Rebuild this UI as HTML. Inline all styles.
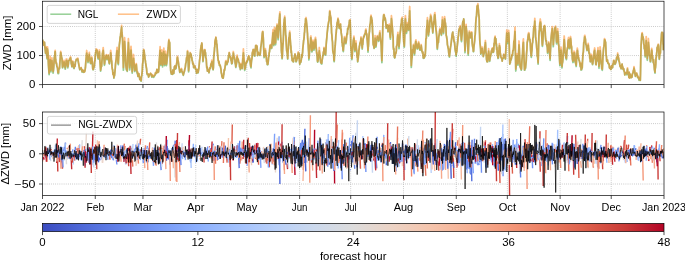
<!DOCTYPE html>
<html><head><meta charset="utf-8"><style>
html,body{margin:0;padding:0;background:#fff;}
body{width:685px;height:261px;overflow:hidden;font-family:"Liberation Sans",sans-serif;}
svg{display:block;will-change:transform;}
</style></head><body>
<svg width="685" height="261" viewBox="0 0 685 261" font-family="Liberation Sans, sans-serif" fill="#000"><rect width="685" height="261" fill="#fff"/><defs><clipPath id="ct"><rect x="42.5" y="1.2" width="621.5" height="83.39999999999999"/></clipPath><clipPath id="cb"><rect x="42.5" y="112.0" width="621.5" height="83.5"/></clipPath><linearGradient id="cwg" x1="0" x2="1" y1="0" y2="0"><stop offset="0.0000" stop-color="#3b4cc0"/><stop offset="0.0625" stop-color="#4e68d8"/><stop offset="0.1250" stop-color="#6282ea"/><stop offset="0.1875" stop-color="#779af7"/><stop offset="0.2500" stop-color="#8db0fe"/><stop offset="0.3125" stop-color="#a3c2fe"/><stop offset="0.3750" stop-color="#b9d0f9"/><stop offset="0.4375" stop-color="#ccd9ed"/><stop offset="0.5000" stop-color="#dddcdc"/><stop offset="0.5625" stop-color="#ecd3c5"/><stop offset="0.6250" stop-color="#f5c4ac"/><stop offset="0.6875" stop-color="#f7b093"/><stop offset="0.7500" stop-color="#f4987a"/><stop offset="0.8125" stop-color="#eb7d62"/><stop offset="0.8750" stop-color="#dd5f4b"/><stop offset="0.9375" stop-color="#ca3b37"/><stop offset="1.0000" stop-color="#b40426"/></linearGradient></defs><path d="M95.28 1.20V84.60M142.96 1.20V84.60M195.75 1.20V84.60M246.83 1.20V84.60M299.61 1.20V84.60M350.70 1.20V84.60M403.48 1.20V84.60M456.27 1.20V84.60M507.35 1.20V84.60M560.13 1.20V84.60M611.22 1.20V84.60M42.50 55.55H664.00M42.50 26.50H664.00" stroke="#b0b0b0" stroke-width="0.8" stroke-dasharray="0.8 1.32" fill="none"/><path d="M95.28 112.00V195.50M142.96 112.00V195.50M195.75 112.00V195.50M246.83 112.00V195.50M299.61 112.00V195.50M350.70 112.00V195.50M403.48 112.00V195.50M456.27 112.00V195.50M507.35 112.00V195.50M560.13 112.00V195.50M611.22 112.00V195.50M42.50 123.60H664.00M42.50 153.80H664.00M42.50 184.00H664.00" stroke="#b0b0b0" stroke-width="0.8" stroke-dasharray="0.8 1.32" fill="none"/><g clip-path="url(#ct)" fill="none" stroke-width="1.75" stroke-linejoin="round"><path d="M42.5 40.1 42.8 40.3 43.2 43.1 43.5 43.6 43.8 45.2 44.0 44.9 44.2 43.5 44.4 45.4 44.5 42.4 44.8 46.5 45.1 49.2 45.3 50.9 45.6 53.6 45.7 51.1 45.9 52.0 46.1 52.4 46.3 47.8 46.5 49.9 46.7 53.4 46.9 55.5 47.1 58.9 47.2 58.5 47.3 53.6 47.5 49.0 47.6 50.5 47.8 52.4 48.0 53.0 48.1 57.5 48.3 61.7 48.5 66.0 48.7 68.8 48.9 71.7 49.1 74.6 49.3 72.3 49.6 64.2 49.9 62.0 50.1 59.7 50.3 62.2 50.5 65.7 50.7 68.9 50.9 71.8 51.1 69.6 51.4 65.3 51.6 67.2 51.9 60.5 52.2 64.2 52.5 68.1 52.8 68.0 53.1 73.2 53.5 70.2 53.8 66.5 54.1 60.9 54.4 56.8 54.6 57.7 54.8 56.0 55.0 52.1 55.2 51.8 55.3 53.3 55.5 59.0 55.7 59.0 55.9 61.8 56.2 63.7 56.5 63.3 56.9 66.7 57.2 67.4 57.4 67.6 57.7 70.5 57.9 73.3 58.2 73.7 58.5 73.7 58.8 68.8 59.1 69.3 59.5 68.6 59.8 64.4 60.1 60.1 60.4 56.7 60.7 52.5 61.0 53.8 61.2 55.8 61.5 56.8 61.7 57.9 62.0 58.8 62.2 63.4 62.5 67.9 62.7 67.6 63.1 66.3 63.4 63.9 63.7 62.7 64.0 61.9 64.3 63.7 64.6 64.5 64.9 67.3 65.3 69.2 65.6 65.9 65.9 64.7 66.2 60.8 66.5 60.6 66.8 60.4 67.2 65.2 67.5 66.4 67.8 67.8 68.1 66.1 68.4 64.1 68.7 60.8 69.1 60.3 69.4 60.3 69.7 59.0 70.0 59.4 70.3 58.2 70.6 57.9 70.9 59.7 71.3 64.1 71.6 64.6 71.9 66.8 72.2 64.1 72.5 63.7 72.8 61.8 73.2 64.6 73.5 66.0 73.8 68.3 74.1 68.5 74.4 66.2 74.7 64.5 75.1 66.4 75.4 61.9 75.9 60.9 76.4 59.4 76.9 59.8 77.4 59.5 77.8 59.0 78.3 62.2 78.7 64.1 79.2 66.9 79.8 69.8 80.4 68.8 81.1 68.0 81.7 69.9 82.1 72.1 82.6 70.2 83.0 71.2 83.5 72.3 83.8 70.8 84.2 72.0 84.6 71.6 85.0 70.5 85.4 67.7 85.9 61.3 86.3 57.4 86.7 53.1 87.1 56.4 87.4 58.0 87.7 56.9 88.0 62.7 88.3 61.2 88.6 59.1 89.0 56.6 89.3 54.4 89.6 58.4 89.9 58.9 90.2 61.6 90.5 63.3 90.8 63.7 91.2 59.9 91.5 58.1 91.8 58.1 92.1 61.5 92.4 63.3 92.7 68.5 93.1 69.8 93.4 69.4 93.7 67.7 94.0 67.2 94.3 66.6 94.6 62.1 95.0 60.2 95.3 56.3 95.6 53.4 95.9 52.0 96.2 49.9 96.5 50.9 96.8 50.4 97.2 50.9 97.5 53.9 97.8 56.5 98.1 58.9 98.4 59.0 98.7 55.4 99.1 54.5 99.4 51.8 99.7 57.7 100.0 62.5 100.3 66.8 100.6 71.1 101.0 68.3 101.3 65.8 101.6 66.5 101.9 61.9 102.2 58.0 102.5 53.4 102.8 54.2 103.2 50.4 103.5 53.9 103.8 58.6 104.1 60.7 104.4 65.3 104.7 64.2 105.1 59.0 105.4 57.7 105.7 56.6 106.0 56.7 106.3 55.4 106.6 58.4 107.0 59.7 107.3 57.2 107.6 58.3 107.9 56.6 108.2 55.7 108.5 59.6 108.8 60.3 109.2 63.7 109.5 64.0 109.8 60.8 110.1 60.0 110.4 56.3 110.7 52.9 111.1 55.7 111.4 61.3 111.7 61.0 112.0 66.4 112.3 69.0 112.6 69.5 113.0 74.5 113.3 74.2 113.6 72.9 113.9 78.1 114.2 73.3 114.5 75.9 114.8 73.2 115.2 69.0 115.5 64.5 115.8 62.1 116.1 59.9 116.4 57.7 116.7 53.5 117.1 50.7 117.4 52.4 117.7 56.5 118.0 63.6 118.3 64.6 118.6 58.6 119.0 51.9 119.3 45.3 119.6 42.8 119.9 40.5 120.2 36.8 120.5 37.0 120.8 32.8 121.0 33.0 121.2 29.7 121.4 29.5 121.6 27.2 121.9 33.0 122.1 34.1 122.4 37.8 122.6 40.4 122.8 49.2 123.0 54.8 123.2 63.3 123.4 70.1 123.7 65.2 124.0 58.1 124.3 48.9 124.6 41.5 125.0 48.1 125.3 54.4 125.6 59.3 125.9 65.6 126.2 68.2 126.5 70.1 126.8 69.6 127.2 71.4 127.5 65.7 127.8 55.6 128.1 49.6 128.4 42.5 128.7 49.2 129.1 56.6 129.4 63.1 129.7 69.9 130.0 66.5 130.3 61.2 130.6 54.0 131.0 50.1 131.3 54.9 131.6 59.8 131.9 67.7 132.2 73.1 132.5 69.5 132.8 64.8 133.2 63.2 133.5 58.3 133.8 61.7 134.1 63.9 134.4 67.7 134.7 71.5 135.1 70.8 135.4 69.8 135.7 66.2 136.0 65.3 136.3 64.6 136.6 68.0 137.0 72.4 137.3 73.7 137.6 72.4 137.9 76.5 138.2 74.1 138.5 75.5 138.9 73.9 139.2 76.9 139.5 76.9 139.8 79.5 140.1 79.5 140.4 78.4 140.7 80.2 141.1 81.1 141.4 76.8 141.7 76.1 142.0 73.6 142.3 70.8 142.6 64.4 143.0 61.5 143.3 56.1 143.6 50.2 143.8 51.4 144.0 50.4 144.2 52.2 144.3 53.2 144.7 55.7 145.0 59.2 145.3 60.3 145.6 62.7 145.9 64.6 146.2 67.0 146.6 69.1 146.9 73.5 147.3 74.8 147.8 75.0 148.2 74.1 148.6 77.1 149.3 75.4 149.9 74.4 150.5 73.5 151.2 74.4 151.8 77.1 152.4 75.3 153.1 76.8 153.7 77.3 154.3 76.0 155.0 75.4 155.6 72.8 156.2 73.5 156.5 72.7 156.9 69.4 157.2 70.6 157.5 71.8 157.8 72.4 158.2 69.7 158.5 71.9 158.8 69.1 159.1 63.4 159.4 60.4 159.7 56.0 160.1 50.3 160.2 52.5 160.4 60.3 160.6 61.9 160.8 65.5 161.1 59.5 161.3 61.3 161.6 54.8 161.8 52.8 162.0 54.3 162.2 58.0 162.4 62.5 162.6 66.9 162.9 61.4 163.2 58.2 163.5 58.7 163.8 51.5 164.0 54.3 164.2 59.4 164.4 63.1 164.6 65.6 164.9 62.0 165.1 60.1 165.4 54.4 165.6 54.3 165.8 55.9 166.0 59.9 166.2 63.6 166.4 65.7 166.7 63.9 167.0 61.0 167.3 57.4 167.6 55.5 167.9 51.2 168.3 47.2 168.6 43.0 168.9 40.4 169.1 42.5 169.3 42.8 169.5 42.4 169.7 42.9 169.9 50.7 170.2 57.2 170.4 65.0 170.7 70.8 171.0 72.5 171.4 74.2 171.8 72.4 172.2 73.2 172.5 74.4 172.8 70.2 173.1 73.9 173.4 73.2 173.8 73.4 174.1 69.8 174.4 66.8 174.7 66.7 175.0 66.0 175.3 69.1 175.7 67.2 176.0 68.6 176.3 66.0 176.6 64.1 176.9 62.6 177.2 58.0 177.5 57.3 177.9 59.9 178.2 61.4 178.5 63.3 178.8 66.3 179.1 67.7 179.4 69.6 179.8 72.5 180.2 71.9 180.6 70.0 181.1 71.2 181.5 69.4 181.8 71.0 182.2 72.9 182.5 72.0 182.8 73.6 183.3 75.3 183.8 73.4 184.3 71.8 184.8 69.4 185.3 67.4 185.7 63.8 186.1 62.2 186.6 57.8 186.9 57.2 187.2 57.7 187.5 51.6 187.8 52.8 188.0 59.8 188.2 63.4 188.4 68.0 188.6 71.9 188.9 69.0 189.1 66.1 189.4 61.7 189.6 55.6 189.9 56.2 190.2 53.1 190.6 54.3 190.9 54.1 191.2 54.9 191.5 57.7 191.8 57.5 192.1 60.4 192.5 61.2 192.8 64.1 193.1 63.3 193.4 64.2 193.7 67.7 194.0 66.3 194.4 66.1 194.7 66.9 195.0 66.3 195.3 68.0 195.6 69.2 195.9 69.6 196.2 70.1 196.6 73.4 196.9 69.5 197.2 70.6 197.5 70.1 197.8 69.6 198.1 72.8 198.5 70.4 198.8 68.8 199.2 64.6 199.6 60.5 200.0 58.2 200.3 54.4 200.6 50.2 200.9 48.0 201.2 45.5 201.4 46.6 201.6 45.7 201.8 43.1 202.0 44.1 202.2 49.0 202.5 53.4 202.8 57.4 203.0 61.7 203.3 58.4 203.6 56.0 204.0 55.2 204.3 50.4 204.6 50.1 204.9 50.3 205.2 52.0 205.5 52.9 205.8 57.7 206.2 58.8 206.5 63.7 206.8 68.2 207.1 67.1 207.4 71.1 207.7 69.6 208.1 70.6 208.4 70.6 208.7 70.6 209.0 72.9 209.3 70.9 209.6 68.2 210.0 68.4 210.3 68.6 210.6 67.1 210.9 64.1 211.2 66.4 211.5 65.7 211.8 61.9 212.2 62.4 212.5 64.6 212.8 68.0 213.1 69.9 213.4 67.6 213.7 57.9 214.1 53.5 214.4 50.5 214.6 47.4 214.8 47.2 214.9 42.8 215.1 40.8 215.3 40.9 215.5 39.3 215.7 40.0 215.9 37.7 216.1 39.7 216.4 40.6 216.6 44.5 216.9 44.2 217.2 48.8 217.5 53.4 217.8 56.3 218.2 60.5 218.5 60.7 218.8 63.2 219.1 61.8 219.4 65.5 219.7 64.8 220.1 65.5 220.4 66.4 220.7 67.9 221.0 69.6 221.3 73.2 221.6 73.3 222.0 76.9 222.3 76.3 222.6 78.0 222.9 76.4 223.2 78.1 223.5 75.6 223.8 74.6 224.2 69.8 224.5 70.6 224.8 69.2 225.1 67.0 225.4 65.3 225.7 62.1 226.1 61.7 226.4 64.6 226.7 63.5 227.0 64.7 227.3 63.1 227.6 62.3 228.0 61.7 228.3 59.0 228.6 55.5 228.9 56.1 229.2 52.8 229.5 54.3 229.8 56.3 230.2 57.8 230.5 57.0 230.8 58.1 231.1 61.0 231.4 61.2 231.7 64.0 232.1 63.5 232.4 61.5 232.7 58.0 233.0 57.0 233.3 53.0 233.6 54.5 234.0 57.8 234.3 57.3 234.6 59.4 234.9 59.9 235.2 63.9 235.5 64.3 235.8 67.5 236.2 65.1 236.5 64.3 236.8 59.6 237.1 56.8 237.4 59.3 237.7 60.1 238.1 59.2 238.4 60.7 238.7 62.5 239.0 62.8 239.3 63.3 239.6 67.1 240.0 65.5 240.3 69.8 240.6 65.7 240.9 64.7 241.2 65.5 241.5 64.6 241.8 67.5 242.2 68.7 242.5 65.0 242.8 59.3 243.1 57.4 243.4 52.8 243.7 58.1 244.1 61.3 244.4 64.5 244.7 70.5 245.0 66.9 245.3 68.9 245.6 65.5 246.0 63.0 246.3 63.3 246.6 62.0 246.9 61.4 247.2 61.9 247.5 60.3 247.8 59.7 248.2 57.5 248.5 56.8 248.8 56.1 249.1 57.7 249.4 60.0 249.7 58.2 250.1 61.6 250.4 64.5 250.7 66.6 251.0 67.9 251.3 63.2 251.6 60.7 252.0 58.6 252.3 53.3 252.6 52.2 252.9 51.6 253.2 49.7 253.5 50.2 253.9 53.2 254.2 55.9 254.5 53.9 254.8 56.2 255.1 49.5 255.4 51.7 255.7 45.6 256.1 46.6 256.4 45.7 256.7 47.7 257.0 46.1 257.3 50.4 257.6 55.7 258.0 52.0 258.3 53.4 258.6 52.9 258.9 54.3 259.2 54.1 259.5 54.8 259.9 55.4 260.2 54.3 260.5 50.6 260.8 47.3 261.1 45.3 261.4 43.3 261.7 40.8 262.1 36.1 262.4 33.2 262.6 32.5 262.8 31.9 262.9 32.6 263.1 35.5 263.4 40.6 263.6 47.0 263.9 52.3 264.1 57.6 264.5 55.8 264.8 52.6 265.1 53.9 265.4 50.4 265.7 53.1 266.0 55.3 266.4 58.7 266.7 61.9 267.0 61.1 267.3 64.8 267.6 62.7 267.9 64.7 268.3 60.9 268.6 57.2 268.9 56.3 269.2 52.8 269.5 52.0 269.8 48.6 270.1 46.0 270.5 45.3 270.8 45.6 271.1 45.2 271.4 48.5 271.7 48.3 272.1 42.7 272.4 40.0 272.7 36.8 273.0 32.8 273.2 37.3 273.4 39.1 273.6 41.5 273.8 45.6 274.0 43.4 274.2 38.8 274.4 34.2 274.5 30.5 274.8 34.9 275.1 38.6 275.3 40.9 275.6 44.8 275.7 42.8 275.9 38.6 276.1 34.1 276.3 29.2 276.5 28.0 276.7 30.9 276.9 28.1 277.1 25.3 277.3 30.9 277.6 35.0 277.8 35.8 278.1 39.8 278.3 33.2 278.6 30.3 278.8 28.5 279.1 21.9 279.3 19.1 279.5 18.4 279.7 15.4 279.9 14.0 280.0 18.4 280.2 25.0 280.4 30.0 280.6 35.7 280.8 38.0 281.0 41.9 281.2 43.3 281.4 50.5 281.6 52.9 281.7 53.5 281.9 55.1 282.1 58.9 282.4 55.5 282.6 50.1 282.9 45.4 283.1 43.2 283.3 39.4 283.5 33.9 283.7 28.4 283.9 22.9 284.1 22.7 284.3 19.4 284.5 20.3 284.7 17.7 284.9 20.3 285.2 25.7 285.4 29.8 285.7 35.3 285.9 35.7 286.2 42.8 286.4 46.3 286.7 51.0 286.9 51.6 287.2 53.4 287.4 55.2 287.7 59.2 287.9 54.3 288.2 49.6 288.4 48.5 288.7 40.6 288.9 37.8 289.2 38.8 289.5 34.9 289.7 32.9 290.0 35.3 290.2 39.6 290.5 43.1 290.7 45.7 290.9 46.6 291.1 52.5 291.3 50.7 291.5 53.1 291.7 55.1 291.9 57.9 292.0 58.0 292.2 60.7 292.5 60.3 292.7 60.9 293.0 59.2 293.2 61.9 293.5 61.8 293.7 59.0 294.0 58.9 294.3 57.2 294.5 57.0 294.8 55.2 295.0 54.1 295.3 55.6 295.5 55.7 295.8 58.0 296.0 61.9 296.3 61.2 296.5 61.1 296.8 59.9 297.0 58.8 297.3 58.0 297.5 58.3 297.8 55.7 298.0 54.2 298.3 53.0 298.5 54.1 298.8 56.0 299.1 53.6 299.3 59.3 299.6 62.3 299.8 64.4 300.1 61.5 300.3 62.2 300.6 60.7 300.8 62.4 301.1 60.9 301.3 59.3 301.6 54.6 301.8 57.6 302.1 56.9 302.3 54.5 302.6 52.6 302.8 49.1 303.1 46.0 303.4 43.1 303.6 40.8 303.9 39.5 304.1 37.4 304.4 32.8 304.6 32.3 304.9 26.3 305.1 24.0 305.4 22.9 305.6 18.9 305.8 22.8 305.9 19.7 306.1 19.1 306.4 21.8 306.6 23.4 306.9 26.6 307.1 27.8 307.3 32.0 307.5 33.9 307.7 38.3 307.9 40.6 308.2 45.1 308.4 49.5 308.7 53.7 308.9 59.9 309.2 56.7 309.4 52.7 309.7 49.1 309.9 45.8 310.2 44.3 310.4 43.9 310.7 37.9 310.9 37.9 311.2 42.8 311.4 43.7 311.7 51.8 311.9 51.9 312.2 50.9 312.4 46.1 312.7 44.1 313.0 42.0 313.3 43.7 313.6 45.1 313.9 50.2 314.2 49.1 314.5 46.8 314.8 44.1 315.2 40.6 315.5 39.4 315.8 41.8 316.1 47.8 316.4 50.1 316.7 53.5 317.1 55.2 317.4 61.2 317.7 62.2 318.0 61.4 318.3 58.1 318.6 54.6 319.0 55.1 319.3 50.8 319.6 54.5 319.9 55.2 320.2 59.1 320.5 61.0 320.8 62.9 321.2 63.2 321.5 64.0 321.8 63.9 322.1 60.2 322.4 59.1 322.7 56.4 323.1 55.6 323.4 52.1 323.7 54.6 324.0 48.4 324.3 49.4 324.6 50.0 325.0 51.8 325.3 54.0 325.6 55.1 325.9 50.6 326.2 44.5 326.5 41.2 326.8 38.3 327.2 33.0 327.5 30.5 327.8 27.7 328.1 25.5 328.4 23.6 328.6 22.6 328.9 21.1 329.1 20.4 329.3 16.6 329.5 16.9 329.7 11.7 329.9 11.9 330.1 14.4 330.4 16.2 330.6 16.7 330.9 17.9 331.1 23.8 331.4 27.0 331.6 32.8 331.9 35.1 332.2 39.8 332.5 42.2 332.8 50.3 333.2 53.0 333.4 53.4 333.7 54.9 333.9 60.7 334.2 61.7 334.4 57.5 334.7 53.4 334.9 48.7 335.2 45.7 335.4 42.5 335.7 39.1 335.9 35.1 336.2 33.0 336.4 29.8 336.7 28.9 337.0 24.3 337.2 22.7 337.5 22.9 337.7 21.4 338.0 19.1 338.2 20.3 338.5 21.3 338.7 25.2 339.0 26.6 339.2 28.3 339.5 26.9 339.7 25.6 340.0 26.1 340.2 25.2 340.5 24.4 340.7 29.6 341.0 29.2 341.2 32.9 341.5 34.7 341.8 36.7 342.0 42.6 342.3 43.1 342.5 46.8 342.8 45.9 343.0 50.6 343.3 51.6 343.6 47.5 343.9 44.8 344.2 41.5 344.5 38.2 344.8 38.8 345.2 42.7 345.5 39.5 345.8 43.8 346.1 42.3 346.4 39.7 346.7 36.2 347.1 33.1 347.4 34.1 347.7 28.4 348.0 29.5 348.3 28.1 348.6 26.5 348.8 25.5 349.1 24.2 349.3 23.0 349.5 20.7 349.7 22.4 349.9 23.1 350.1 20.4 350.3 26.3 350.5 32.1 350.7 41.1 350.8 45.8 351.1 50.4 351.4 52.2 351.6 55.9 351.9 59.6 352.1 57.4 352.4 53.2 352.6 48.2 352.9 45.5 353.1 43.3 353.4 40.0 353.6 39.8 353.9 38.1 354.1 40.0 354.4 46.0 354.6 49.5 354.9 51.6 355.1 48.9 355.4 47.0 355.6 47.1 355.9 43.3 356.2 47.1 356.4 49.2 356.7 50.1 356.9 52.8 357.2 57.4 357.4 57.2 357.7 62.0 357.9 60.5 358.2 58.6 358.4 55.7 358.7 54.6 358.9 50.5 359.2 48.8 359.4 46.1 359.7 45.7 359.9 43.2 360.2 43.2 360.4 42.1 360.7 41.6 361.0 38.2 361.3 40.0 361.6 43.2 361.9 45.4 362.2 49.2 362.5 44.9 362.8 44.6 363.2 38.7 363.5 38.1 363.8 36.1 364.1 36.7 364.4 35.4 364.7 34.3 365.1 33.8 365.4 33.5 365.7 30.5 366.0 30.6 366.3 34.6 366.5 34.0 366.8 34.0 367.0 38.1 367.3 41.5 367.5 43.9 367.8 48.1 368.0 52.1 368.3 46.9 368.5 46.2 368.8 38.2 369.0 35.7 369.3 32.3 369.5 31.6 369.8 26.2 370.1 24.2 370.3 24.2 370.6 21.0 370.8 17.1 371.1 16.6 371.3 18.4 371.6 18.0 371.8 19.8 372.1 20.1 372.3 24.9 372.6 32.1 372.8 34.4 373.1 42.9 373.3 45.1 373.6 43.4 373.8 46.4 374.1 48.5 374.3 46.8 374.6 42.0 374.9 42.5 375.1 38.2 375.4 41.0 375.6 39.5 375.9 47.1 376.1 46.1 376.4 42.6 376.7 39.5 377.1 39.3 377.4 36.5 377.7 38.6 378.0 39.6 378.3 38.5 378.6 41.4 379.0 38.3 379.3 36.7 379.6 34.5 379.9 33.0 380.2 37.0 380.5 39.6 380.9 42.3 381.2 45.7 381.4 51.8 381.5 54.1 381.7 58.4 381.9 62.6 382.2 53.4 382.4 44.2 382.7 32.8 382.9 22.9 383.1 20.2 383.3 19.6 383.5 16.7 383.7 15.0 384.0 14.9 384.3 16.0 384.6 20.0 385.0 17.8 385.3 19.0 385.6 21.2 385.9 23.8 386.2 28.4 386.5 26.2 386.9 26.5 387.2 25.3 387.5 25.0 387.7 27.0 387.9 26.6 388.0 31.8 388.2 30.0 388.5 26.6 388.8 29.3 389.0 27.2 389.3 25.7 389.6 30.2 389.8 32.7 390.1 36.9 390.4 39.1 390.6 35.0 390.9 31.3 391.2 24.4 391.4 18.7 391.7 20.6 392.0 24.6 392.2 26.4 392.5 29.5 392.8 35.0 393.1 36.5 393.3 47.2 393.6 49.7 393.9 48.8 394.1 55.0 394.4 57.2 394.7 58.0 394.9 57.8 395.2 54.3 395.5 53.1 395.7 53.6 396.0 52.8 396.3 50.9 396.5 46.4 396.8 45.8 397.1 44.7 397.3 41.1 397.6 36.8 397.9 34.8 398.2 38.5 398.4 43.7 398.7 43.8 399.0 48.6 399.2 45.5 399.5 42.4 399.8 38.1 400.0 34.5 400.3 31.7 400.6 29.9 400.8 26.3 401.1 24.1 401.4 24.8 401.6 19.8 401.9 19.2 402.2 18.8 402.4 22.5 402.7 24.4 403.0 28.9 403.3 32.1 403.5 37.5 403.8 42.5 404.1 44.1 404.3 47.4 404.6 40.2 404.9 32.5 405.1 22.4 405.4 18.9 405.7 23.1 405.9 26.3 406.2 33.2 406.5 33.3 406.7 31.4 407.0 29.7 407.3 27.3 407.6 24.3 407.8 27.3 408.1 26.3 408.4 28.9 408.6 30.4 408.9 24.7 409.2 18.8 409.4 17.9 409.7 10.8 409.9 18.2 410.1 21.7 410.3 29.5 410.5 34.8 410.7 44.3 410.9 49.4 411.1 60.2 411.3 67.4 411.6 62.0 411.8 59.2 412.1 57.4 412.4 51.0 412.7 49.6 412.9 50.6 413.2 48.7 413.5 45.5 413.7 49.4 414.0 51.9 414.3 53.8 414.5 54.8 414.9 51.1 415.2 48.7 415.5 43.1 415.9 41.5 416.2 44.0 416.5 45.2 416.9 46.0 417.2 49.0 417.6 47.1 417.9 48.8 418.2 44.6 418.6 43.2 418.9 44.1 419.2 47.5 419.6 47.5 419.9 50.1 420.2 50.2 420.6 47.7 420.9 49.7 421.2 45.5 421.6 48.7 421.9 51.4 422.2 51.8 422.6 53.4 422.9 52.4 423.3 58.3 423.6 56.0 423.9 58.0 424.3 58.0 424.6 54.9 424.9 56.7 425.3 53.8 425.6 48.7 425.9 39.0 426.3 38.5 426.6 29.6 426.8 28.7 427.0 26.3 427.2 25.0 427.4 20.4 427.7 22.8 428.0 30.8 428.2 31.9 428.5 36.0 428.8 32.1 429.0 32.4 429.3 28.8 429.6 27.1 429.8 21.8 430.1 20.0 430.4 19.8 430.6 16.2 430.9 17.8 431.2 17.2 431.4 21.3 431.7 21.9 432.0 24.8 432.2 27.8 432.5 29.1 432.8 33.2 433.1 29.1 433.3 25.3 433.6 24.8 433.9 21.3 434.1 21.7 434.4 16.1 434.7 14.9 434.9 14.8 435.2 19.2 435.5 23.0 435.7 27.1 436.0 29.8 436.3 32.2 436.7 36.4 437.0 45.0 437.3 49.4 437.7 44.8 438.0 43.0 438.4 42.6 438.7 37.7 439.0 35.9 439.4 33.8 439.7 30.9 440.0 29.7 440.4 31.0 440.7 32.5 441.0 31.5 441.4 35.4 441.6 32.5 441.9 27.6 442.2 24.2 442.4 20.0 442.7 23.7 443.0 28.2 443.3 30.3 443.5 33.7 443.8 28.9 444.1 27.1 444.3 24.9 444.6 18.8 444.9 21.2 445.1 24.7 445.4 23.1 445.7 26.6 445.9 26.1 446.2 35.5 446.5 35.9 446.7 37.5 447.1 39.9 447.4 44.6 447.8 46.2 448.1 48.0 448.4 49.1 448.8 53.7 449.1 55.8 449.4 57.1 449.8 53.6 450.1 51.8 450.4 48.1 450.8 45.9 451.1 43.5 451.4 41.0 451.8 37.5 452.1 34.9 452.4 33.5 452.8 32.1 453.1 37.4 453.5 36.3 453.8 40.2 454.1 41.9 454.5 42.4 454.8 45.7 455.1 49.3 455.5 52.0 455.8 52.4 456.1 56.3 456.5 52.3 456.8 52.1 457.1 47.5 457.5 44.0 457.8 41.5 458.2 36.6 458.5 35.8 458.8 30.8 459.2 29.1 459.5 28.6 459.8 28.5 460.2 27.0 460.5 30.8 460.8 32.2 461.2 39.8 461.5 41.6 461.8 37.6 462.2 33.1 462.5 24.7 462.9 21.4 463.1 21.2 463.4 23.6 463.7 18.9 463.9 20.1 464.2 25.6 464.5 36.3 464.7 43.9 465.0 52.7 465.3 47.0 465.5 41.1 465.8 35.6 466.1 26.6 466.3 29.4 466.6 30.9 466.9 33.8 467.1 35.2 467.4 41.8 467.7 44.6 468.0 51.4 468.2 55.1 468.5 49.2 468.8 43.0 469.0 36.6 469.3 32.4 469.6 33.5 469.8 34.3 470.1 37.4 470.4 37.8 470.6 35.6 470.9 35.0 471.2 33.2 471.4 33.4 471.7 32.8 472.0 38.5 472.2 43.4 472.5 45.8 472.8 47.6 473.1 49.0 473.3 51.8 473.6 51.6 473.9 47.1 474.1 45.5 474.4 43.2 474.7 40.6 474.9 36.5 475.2 34.6 475.5 29.8 475.7 24.2 476.0 19.5 476.3 16.6 476.5 16.4 476.8 10.8 477.1 6.1 477.3 7.8 477.6 7.2 477.9 5.4 478.2 9.2 478.4 10.1 478.7 14.7 479.0 16.3 479.2 19.5 479.4 30.3 479.6 34.0 479.8 40.2 480.0 43.3 480.3 46.1 480.6 49.5 480.8 54.1 481.2 53.0 481.5 51.4 481.8 51.4 482.2 48.5 482.4 52.0 482.7 52.5 483.0 53.6 483.3 56.6 483.5 55.1 483.8 54.4 484.1 53.5 484.3 51.4 484.6 48.3 484.9 46.2 485.1 45.9 485.4 42.6 485.7 47.2 485.9 52.3 486.2 53.8 486.5 59.4 486.7 60.2 487.0 61.9 487.3 61.9 487.6 61.9 487.8 59.1 488.1 54.9 488.4 54.6 488.6 51.1 488.9 53.8 489.2 57.7 489.4 58.6 489.7 61.3 490.0 58.6 490.4 56.8 490.7 55.5 491.0 54.0 491.4 51.1 491.7 53.0 492.0 49.5 492.4 48.6 492.7 50.2 493.1 48.6 493.4 52.4 493.7 51.0 494.1 43.3 494.4 45.6 494.7 39.1 495.1 37.3 495.3 40.3 495.6 39.7 495.9 38.8 496.1 42.8 496.4 43.9 496.7 49.8 496.9 47.3 497.2 53.4 497.5 55.1 497.8 56.7 498.0 58.5 498.3 58.3 498.6 55.4 498.8 51.8 499.1 49.4 499.4 45.7 499.6 49.0 499.9 47.1 500.2 53.4 500.4 53.9 500.8 56.4 501.1 57.6 501.4 58.0 501.8 58.8 502.0 58.6 502.2 61.1 502.5 58.7 502.7 58.7 503.1 58.1 503.4 58.3 503.7 54.7 504.1 55.9 504.4 56.3 504.8 57.4 505.1 57.4 505.4 59.1 505.8 51.4 506.1 45.4 506.5 38.9 506.8 33.0 507.0 35.7 507.2 36.3 507.4 40.6 507.6 43.5 507.9 42.5 508.2 38.6 508.4 37.6 508.7 32.8 509.0 37.5 509.3 48.5 509.5 56.1 509.8 64.2 510.1 61.6 510.3 62.9 510.6 59.0 510.9 60.1 511.2 59.7 511.6 57.7 511.9 55.1 512.2 55.9 512.6 54.2 512.9 50.5 513.3 50.5 513.6 47.3 513.9 41.3 514.3 42.1 514.6 38.6 515.0 31.5 515.2 39.5 515.4 53.5 515.6 61.8 515.8 71.0 516.1 66.7 516.3 64.7 516.6 58.5 516.9 55.7 517.1 60.4 517.4 59.0 517.7 62.3 518.0 65.2 518.2 58.1 518.5 56.7 518.8 50.2 519.0 44.8 519.3 49.4 519.6 56.7 519.9 62.3 520.1 66.9 520.4 64.9 520.7 68.7 521.0 67.7 521.2 70.1 521.5 69.2 521.8 63.3 522.0 59.7 522.3 56.0 522.6 53.6 522.9 46.3 523.1 44.0 523.4 42.4 523.7 50.8 523.9 54.9 524.2 63.9 524.5 70.1 524.8 70.2 525.2 67.5 525.5 68.3 525.9 64.4 526.2 61.2 526.5 54.5 526.9 49.8 527.2 42.4 527.6 40.9 527.9 38.7 528.2 35.9 528.6 34.1 528.9 34.0 529.3 38.3 529.6 40.2 529.9 39.4 530.3 43.5 530.6 50.2 531.0 54.3 531.3 57.4 531.6 53.5 532.0 50.2 532.3 44.0 532.7 42.4 532.9 38.3 533.2 37.5 533.5 32.1 533.7 28.7 534.0 26.7 534.3 28.0 534.6 24.3 534.8 21.1 535.1 27.1 535.4 29.8 535.6 37.4 535.9 39.7 536.2 41.6 536.5 45.3 536.7 47.9 537.0 50.5 537.3 56.4 537.6 57.0 537.8 59.5 538.1 64.1 538.4 54.4 538.6 46.7 538.9 36.1 539.2 31.4 539.5 29.4 539.7 25.3 540.0 23.4 540.3 22.1 540.5 25.2 540.8 23.1 541.1 31.3 541.4 31.5 541.6 34.1 541.9 38.8 542.2 44.5 542.4 46.4 542.7 43.5 543.0 39.1 543.3 32.2 543.5 28.7 543.8 28.2 544.1 26.5 544.4 26.7 544.6 26.0 544.9 28.2 545.2 32.0 545.4 36.5 545.7 39.8 546.0 41.3 546.3 40.8 546.5 44.4 546.8 44.6 547.1 46.5 547.3 47.5 547.6 53.3 547.9 51.6 548.2 48.4 548.4 48.9 548.7 43.1 549.0 44.6 549.3 49.9 549.5 51.5 549.8 56.8 550.1 60.4 550.3 54.3 550.6 48.6 550.9 41.8 551.2 37.1 551.4 35.6 551.7 33.0 552.0 31.7 552.2 28.7 552.5 35.1 552.8 37.3 553.1 41.8 553.3 46.6 553.6 41.7 553.9 38.7 554.1 34.8 554.4 31.5 554.7 28.4 555.0 30.0 555.2 27.8 555.5 27.3 555.8 31.7 556.1 34.5 556.3 40.9 556.6 43.8 556.9 40.3 557.1 36.5 557.4 36.5 557.7 31.5 558.0 35.9 558.2 35.4 558.5 44.9 558.8 44.8 559.0 50.0 559.3 54.4 559.6 61.2 559.9 65.6 560.1 62.0 560.4 58.5 560.7 52.9 561.0 50.0 561.2 52.5 561.5 61.6 561.8 65.3 562.0 68.0 562.3 63.8 562.6 62.8 562.9 59.8 563.1 56.4 563.4 52.2 563.7 48.3 563.9 43.9 564.2 39.6 564.5 42.9 564.8 47.4 565.0 52.3 565.3 53.4 565.6 54.8 565.9 58.2 566.1 58.3 566.4 59.6 566.7 55.9 566.9 51.4 567.2 49.8 567.5 48.0 567.8 48.6 568.0 42.9 568.3 40.4 568.6 39.8 568.8 41.7 569.1 44.1 569.4 47.3 569.7 48.7 569.9 44.0 570.2 42.1 570.5 38.4 570.7 39.6 571.0 42.4 571.3 47.6 571.6 46.8 571.8 53.0 572.1 53.0 572.4 59.4 572.7 60.9 572.9 62.5 573.2 60.6 573.5 62.0 573.7 56.7 574.0 52.9 574.3 55.4 574.6 53.0 574.8 55.3 575.1 58.9 575.4 62.6 575.6 63.2 575.9 64.5 576.2 66.5 576.5 61.5 576.7 58.3 577.0 53.5 577.3 50.4 577.6 51.2 577.8 54.4 578.1 55.6 578.4 58.7 578.6 57.6 578.9 60.1 579.2 60.4 579.5 61.4 579.7 62.5 580.0 64.5 580.3 66.9 580.5 65.5 580.8 63.9 581.1 70.1 581.4 69.9 581.6 69.8 581.9 67.9 582.2 67.9 582.4 63.0 582.7 58.7 583.0 53.7 583.3 52.2 583.5 49.0 583.8 42.4 584.1 42.0 584.4 39.6 584.6 37.0 584.9 36.9 585.2 40.3 585.4 39.2 585.7 43.5 586.0 45.2 586.3 45.2 586.5 47.4 586.8 49.3 587.1 50.7 587.3 48.7 587.6 48.1 587.9 48.0 588.2 45.2 588.4 47.2 588.7 48.8 589.0 53.4 589.3 52.7 589.5 53.2 589.8 58.2 590.1 58.8 590.3 61.8 590.6 59.4 590.9 58.3 591.2 56.4 591.4 56.0 591.7 56.4 592.0 59.9 592.2 63.1 592.5 64.7 592.8 63.7 593.1 61.3 593.3 59.7 593.6 58.7 593.9 57.6 594.1 51.9 594.4 51.9 594.7 50.4 595.0 56.7 595.2 57.9 595.5 59.7 595.8 64.3 596.1 64.8 596.3 62.1 596.6 61.3 596.9 61.2 597.1 55.6 597.4 53.9 597.7 53.4 598.0 50.6 598.2 57.1 598.5 58.0 598.8 64.6 599.0 68.3 599.3 61.4 599.6 59.4 599.9 54.9 600.1 50.7 600.4 53.0 600.7 58.8 601.0 61.6 601.2 64.1 601.5 64.6 601.8 69.2 602.0 67.5 602.3 70.3 602.6 64.7 602.9 57.9 603.1 54.9 603.4 50.4 603.7 47.7 603.9 46.7 604.2 44.5 604.5 39.9 604.8 42.9 605.0 40.1 605.3 42.1 605.6 42.1 605.9 48.5 606.1 55.8 606.4 56.0 606.7 61.1 606.9 60.1 607.2 61.2 607.5 60.1 607.8 62.9 608.0 63.5 608.3 63.1 608.6 63.7 608.8 64.2 609.1 64.2 609.4 67.6 609.7 68.2 609.9 68.0 610.2 67.0 610.4 68.5 610.6 68.6 610.9 69.4 611.2 68.2 611.6 65.8 611.9 66.8 612.2 65.5 612.6 67.8 612.9 64.1 613.3 64.4 613.6 61.1 613.9 60.7 614.3 62.0 614.6 63.9 615.0 64.4 615.3 63.9 615.6 63.1 616.0 61.7 616.3 59.8 616.7 57.5 617.0 57.3 617.3 59.6 617.7 54.5 618.0 56.6 618.4 57.9 618.7 58.8 619.0 61.3 619.4 62.3 619.7 64.1 620.1 66.6 620.4 66.5 620.7 65.9 621.1 68.8 621.4 67.0 621.8 65.3 622.1 64.2 622.4 66.8 622.8 67.0 623.1 69.5 623.5 68.6 623.8 69.0 624.1 71.3 624.5 72.3 624.8 75.0 625.2 72.5 625.5 73.6 625.8 73.6 626.2 72.8 626.5 73.3 626.9 74.8 627.2 70.9 627.5 69.0 627.9 73.8 628.2 73.9 628.6 73.4 628.9 77.4 629.2 72.4 629.6 78.0 629.9 76.4 630.3 74.3 630.6 76.9 630.9 76.4 631.3 77.6 631.6 77.0 632.0 77.1 632.3 74.6 632.6 73.4 633.0 73.1 633.3 70.9 633.7 70.5 634.0 68.2 634.3 69.7 634.7 71.2 635.0 74.4 635.4 76.4 635.7 75.4 636.0 75.6 636.4 73.4 636.7 73.5 637.1 75.6 637.4 75.5 637.7 77.7 638.1 77.8 638.4 77.3 638.8 78.6 639.1 80.3 639.4 79.5 639.6 79.4 639.9 80.1 640.1 78.4 640.3 80.5 640.5 73.8 640.7 62.1 640.9 53.0 641.1 45.1 641.3 42.6 641.5 39.8 641.7 37.0 641.9 34.3 642.2 33.8 642.4 34.8 642.7 39.3 643.0 36.8 643.3 38.5 643.5 39.3 643.8 44.1 644.1 45.2 644.3 48.9 644.6 47.8 644.9 51.8 645.2 57.0 645.4 52.7 645.7 47.4 646.0 44.4 646.2 40.7 646.5 47.8 646.8 51.2 647.1 56.7 647.3 60.3 647.6 55.9 647.9 49.8 648.2 48.5 648.4 42.3 648.7 45.6 649.0 48.3 649.2 53.4 649.5 55.8 649.8 55.8 650.1 58.7 650.3 61.9 650.6 61.8 650.9 59.0 651.1 56.3 651.4 52.6 651.7 50.1 652.0 52.0 652.2 58.0 652.5 56.3 652.8 58.7 653.0 59.7 653.3 62.8 653.6 59.9 653.9 64.3 654.1 65.4 654.4 69.5 654.7 71.1 655.0 73.1 655.2 68.9 655.5 67.9 655.8 63.9 656.0 58.4 656.3 57.1 656.6 54.2 656.9 51.2 657.1 47.7 657.4 48.4 657.7 46.2 657.9 46.6 658.2 44.8 658.5 46.5 658.8 52.6 659.0 55.5 659.3 59.4 659.6 56.4 659.8 54.7 660.1 52.8 660.4 53.0 660.7 45.1 660.9 42.4 661.2 39.3 661.5 34.3 661.8 32.3 662.0 34.9 662.3 32.6 662.6 33.0 662.8 35.9 663.0 43.8 663.2 44.8 663.4 50.3" stroke="#2ca02c" stroke-opacity="0.5"/><path d="M42.5 39.9 42.8 40.3 43.2 43.1 43.5 43.5 43.8 45.3 44.0 44.8 44.2 43.5 44.4 45.1 44.5 42.0 44.8 46.0 45.1 48.7 45.3 50.3 45.6 53.0 45.7 50.3 45.9 51.3 46.1 51.2 46.3 46.7 46.5 48.9 46.7 52.3 46.9 54.5 47.1 57.9 47.2 57.2 47.3 52.1 47.5 46.9 47.6 48.2 47.8 50.7 48.0 51.6 48.1 56.8 48.3 61.4 48.5 65.3 48.7 67.7 48.9 70.5 49.1 73.1 49.3 70.3 49.6 61.8 49.9 58.9 50.1 56.2 50.3 59.5 50.5 63.4 50.7 66.8 50.9 70.5 51.1 68.0 51.4 63.2 51.6 65.2 51.9 57.9 52.2 61.9 52.5 66.1 52.8 66.0 53.1 71.7 53.5 69.3 53.8 65.9 54.1 60.8 54.4 57.0 54.6 57.5 54.8 55.5 55.0 51.2 55.2 50.3 55.3 52.0 55.5 58.1 55.7 59.0 55.9 62.0 56.2 63.6 56.5 63.1 56.9 66.1 57.2 66.6 57.4 66.6 57.7 69.6 57.9 72.3 58.2 72.7 58.5 72.6 58.8 68.2 59.1 68.5 59.5 68.1 59.8 63.5 60.1 59.0 60.4 55.7 60.7 51.3 61.0 52.9 61.2 55.0 61.5 56.5 61.7 58.0 62.0 58.5 62.2 63.0 62.5 67.1 62.7 66.6 63.1 65.5 63.4 62.6 63.7 61.2 64.0 60.4 64.3 62.3 64.6 62.9 64.9 65.7 65.3 67.9 65.6 64.6 65.9 63.2 66.2 59.2 66.5 59.1 66.8 59.0 67.2 63.9 67.5 65.1 67.8 66.6 68.1 65.3 68.4 63.5 68.7 60.6 69.1 60.5 69.4 60.0 69.7 58.5 70.0 58.4 70.3 57.1 70.6 56.8 70.9 58.8 71.3 63.4 71.6 64.1 71.9 66.3 72.2 63.5 72.5 63.0 72.8 61.0 73.2 63.9 73.5 65.4 73.8 67.7 74.1 67.9 74.4 66.0 74.7 64.4 75.1 66.2 75.4 62.0 75.9 60.6 76.4 59.0 76.9 59.0 77.4 58.3 77.8 58.2 78.3 61.3 78.7 63.4 79.2 66.7 79.8 69.3 80.4 68.3 81.1 67.5 81.7 69.4 82.1 71.5 82.6 69.8 83.0 70.8 83.5 71.8 83.8 70.4 84.2 72.2 84.6 71.7 85.0 70.9 85.4 67.5 85.9 60.2 86.3 55.5 86.7 50.5 87.1 54.2 87.4 56.0 87.7 55.1 88.0 61.3 88.3 59.6 88.6 57.3 89.0 54.7 89.3 52.4 89.6 56.9 89.9 57.6 90.2 60.7 90.5 63.0 90.8 63.1 91.2 59.2 91.5 57.2 91.8 57.0 92.1 60.5 92.4 62.7 92.7 67.9 93.1 69.4 93.4 69.2 93.7 67.3 94.0 66.8 94.3 66.3 94.6 62.0 95.0 59.5 95.3 55.6 95.6 52.5 95.9 51.2 96.2 48.8 96.5 49.9 96.8 49.4 97.2 49.9 97.5 52.9 97.8 55.6 98.1 57.8 98.4 57.8 98.7 54.1 99.1 53.0 99.4 50.0 99.7 56.1 100.0 61.3 100.3 65.7 100.6 70.2 101.0 67.6 101.3 65.1 101.6 66.2 101.9 61.7 102.2 57.3 102.5 52.0 102.8 52.1 103.2 47.6 103.5 51.6 103.8 56.4 104.1 59.1 104.4 64.0 104.7 62.8 105.1 57.9 105.4 56.5 105.7 55.6 106.0 55.8 106.3 54.7 106.6 57.7 107.0 58.9 107.3 56.2 107.6 57.7 107.9 55.7 108.2 54.8 108.5 58.8 108.8 59.3 109.2 62.8 109.5 63.1 109.8 59.7 110.1 58.3 110.4 54.3 110.7 50.3 111.1 53.6 111.4 59.9 111.7 60.4 112.0 66.6 112.3 69.3 112.6 69.7 113.0 74.6 113.3 74.0 113.6 72.9 113.9 77.8 114.2 73.3 114.5 75.7 114.8 73.0 115.2 68.5 115.5 64.3 115.8 61.8 116.1 59.0 116.4 55.8 116.7 51.1 117.1 47.3 117.4 49.6 117.7 54.2 118.0 61.9 118.3 63.3 118.6 57.5 119.0 51.2 119.3 45.0 119.6 42.9 119.9 40.3 120.2 36.7 120.5 36.9 120.8 32.2 121.0 32.2 121.2 28.8 121.4 28.1 121.6 25.4 121.9 31.5 122.1 33.2 122.4 37.1 122.6 40.0 122.8 48.8 123.0 53.5 123.2 61.3 123.4 67.5 123.7 62.3 124.0 54.8 124.3 45.2 124.6 37.7 125.0 45.2 125.3 52.3 125.6 57.9 125.9 65.2 126.2 67.8 126.5 69.3 126.8 68.7 127.2 70.6 127.5 64.1 127.8 53.4 128.1 46.7 128.4 38.7 128.7 46.0 129.1 53.7 129.4 60.6 129.7 67.7 130.0 63.9 130.3 58.0 130.6 50.5 131.0 46.3 131.3 51.7 131.6 56.9 131.9 65.4 132.2 71.6 132.5 67.4 132.8 62.1 133.2 59.9 133.5 54.5 133.8 58.7 134.1 61.3 134.4 66.2 134.7 70.4 135.1 70.0 135.4 68.8 135.7 64.9 136.0 64.2 136.3 63.6 136.6 66.9 137.0 71.5 137.3 72.9 137.6 71.8 137.9 76.2 138.2 74.0 138.5 75.4 138.9 73.7 139.2 77.1 139.5 76.8 139.8 79.6 140.1 79.5 140.4 78.2 140.7 79.8 141.1 80.6 141.4 76.3 141.7 75.6 142.0 73.0 142.3 70.1 142.6 63.8 143.0 60.9 143.3 55.4 143.6 49.4 143.8 50.6 144.0 49.9 144.2 51.6 144.3 52.6 144.7 55.4 145.0 58.8 145.3 60.4 145.6 62.9 145.9 64.5 146.2 66.5 146.6 68.6 146.9 72.8 147.3 73.9 147.8 74.5 148.2 73.9 148.6 77.0 149.3 75.4 149.9 74.4 150.5 73.1 151.2 74.1 151.8 76.6 152.4 74.6 153.1 76.4 153.7 76.5 154.3 75.3 155.0 74.8 155.6 72.3 156.2 73.2 156.5 72.2 156.9 69.4 157.2 70.6 157.5 71.9 157.8 72.5 158.2 69.4 158.5 72.0 158.8 69.1 159.1 62.3 159.4 58.3 159.7 53.5 160.1 46.7 160.2 49.3 160.4 57.8 160.6 60.0 160.8 64.2 161.1 58.0 161.3 59.1 161.6 52.4 161.8 49.8 162.0 51.6 162.2 55.4 162.4 60.1 162.6 65.2 162.9 59.3 163.2 55.5 163.5 55.9 163.8 48.1 164.0 51.6 164.2 57.1 164.4 61.2 164.6 64.3 164.9 60.5 165.1 58.1 165.4 51.6 165.6 51.2 165.8 53.3 166.0 57.8 166.2 61.7 166.4 64.2 166.7 62.8 167.0 59.8 167.3 56.9 167.6 55.3 167.9 51.0 168.3 46.6 168.6 42.2 168.9 39.4 169.1 41.9 169.3 42.3 169.5 41.9 169.7 42.8 169.9 50.4 170.2 57.0 170.4 64.6 170.7 70.4 171.0 72.2 171.4 73.9 171.8 71.9 172.2 73.0 172.5 74.2 172.8 70.0 173.1 73.5 173.4 72.8 173.8 73.0 174.1 69.5 174.4 66.6 174.7 66.5 175.0 65.7 175.3 68.7 175.7 67.0 176.0 68.0 176.3 65.4 176.6 63.3 176.9 61.5 177.2 56.8 177.5 56.2 177.9 58.8 178.2 60.9 178.5 62.8 178.8 65.9 179.1 67.3 179.4 69.0 179.8 72.0 180.2 71.4 180.6 69.3 181.1 70.2 181.5 68.5 181.8 70.2 182.2 72.0 182.5 71.5 182.8 72.9 183.3 74.9 183.8 72.8 184.3 71.5 184.8 69.0 185.3 66.9 185.7 63.6 186.1 61.9 186.6 57.4 186.9 56.7 187.2 56.7 187.5 50.6 187.8 51.6 188.0 58.9 188.2 62.0 188.4 66.6 188.6 70.6 188.9 68.0 189.1 65.1 189.4 61.0 189.6 55.2 189.9 55.9 190.2 52.5 190.6 54.0 190.9 53.8 191.2 55.0 191.5 57.9 191.8 57.7 192.1 60.9 192.5 61.6 192.8 64.2 193.1 62.9 193.4 64.0 193.7 67.6 194.0 66.2 194.4 65.6 194.7 66.7 195.0 66.1 195.3 67.6 195.6 69.2 195.9 69.4 196.2 70.0 196.6 73.1 196.9 69.4 197.2 70.4 197.5 70.2 197.8 69.4 198.1 72.4 198.5 70.2 198.8 68.6 199.2 64.5 199.6 60.2 200.0 57.7 200.3 54.1 200.6 49.8 200.9 47.5 201.2 45.2 201.4 46.3 201.6 45.2 201.8 42.9 202.0 44.1 202.2 48.6 202.5 53.1 202.8 56.8 203.0 60.8 203.3 57.4 203.6 55.2 204.0 54.4 204.3 49.5 204.6 49.5 204.9 49.6 205.2 51.7 205.5 53.0 205.8 57.6 206.2 58.5 206.5 63.7 206.8 67.8 207.1 66.7 207.4 71.2 207.7 69.7 208.1 70.7 208.4 70.4 208.7 70.6 209.0 72.5 209.3 70.4 209.6 67.8 210.0 67.9 210.3 68.4 210.6 66.9 210.9 63.5 211.2 65.4 211.5 64.0 211.8 60.2 212.2 61.0 212.5 63.4 212.8 66.9 213.1 69.3 213.4 67.3 213.7 57.5 214.1 53.3 214.4 50.5 214.6 47.2 214.8 47.0 214.9 42.3 215.1 40.1 215.3 40.0 215.5 38.5 215.7 39.5 215.9 37.0 216.1 39.4 216.4 40.0 216.6 44.1 216.9 43.9 217.2 48.3 217.5 53.2 217.8 56.0 218.2 60.5 218.5 60.6 218.8 63.3 219.1 61.5 219.4 65.2 219.7 64.5 220.1 65.2 220.4 66.3 220.7 67.8 221.0 69.3 221.3 73.1 221.6 73.4 222.0 76.8 222.3 76.1 222.6 77.8 222.9 76.6 223.2 78.1 223.5 75.3 223.8 74.4 224.2 69.5 224.5 70.3 224.8 68.5 225.1 66.0 225.4 64.4 225.7 60.9 226.1 60.5 226.4 63.7 226.7 62.7 227.0 64.0 227.3 62.5 227.6 61.9 228.0 61.9 228.3 59.1 228.6 55.3 228.9 55.7 229.2 52.3 229.5 53.2 229.8 55.7 230.2 56.7 230.5 56.4 230.8 57.4 231.1 60.3 231.4 60.8 231.7 63.4 232.1 63.1 232.4 60.8 232.7 57.0 233.0 55.8 233.3 51.5 233.6 53.5 234.0 56.9 234.3 56.4 234.6 58.9 234.9 59.2 235.2 63.0 235.5 63.4 235.8 66.6 236.2 64.0 236.5 63.2 236.8 58.1 237.1 55.2 237.4 57.8 237.7 58.9 238.1 58.5 238.4 60.2 238.7 61.8 239.0 62.4 239.3 63.2 239.6 66.8 240.0 65.0 240.3 68.9 240.6 64.7 240.9 63.4 241.2 64.3 241.5 63.8 241.8 67.0 242.2 68.3 242.5 63.8 242.8 57.1 243.1 54.3 243.4 48.9 243.7 54.8 244.1 58.7 244.4 62.9 244.7 69.1 245.0 66.1 245.3 68.2 245.6 65.3 246.0 63.0 246.3 63.2 246.6 61.8 246.9 60.9 247.2 61.4 247.5 60.0 247.8 59.4 248.2 57.1 248.5 56.4 248.8 55.7 249.1 57.2 249.4 59.4 249.7 58.0 250.1 61.0 250.4 63.7 250.7 65.6 251.0 66.7 251.3 62.2 251.6 59.7 252.0 57.8 252.3 52.8 252.6 51.7 252.9 51.2 253.2 49.3 253.5 49.7 253.9 52.7 254.2 55.1 254.5 53.1 254.8 55.6 255.1 48.7 255.4 51.1 255.7 45.3 256.1 46.2 256.4 45.4 256.7 47.7 257.0 45.9 257.3 50.2 257.6 55.5 258.0 51.9 258.3 53.4 258.6 52.8 258.9 54.0 259.2 54.0 259.5 54.5 259.9 55.0 260.2 54.2 260.5 50.5 260.8 47.0 261.1 45.2 261.4 42.6 261.7 39.9 262.1 34.9 262.4 31.8 262.6 31.5 262.8 31.3 262.9 32.2 263.1 35.2 263.4 40.1 263.6 46.5 263.9 51.3 264.1 56.5 264.5 54.6 264.8 51.2 265.1 52.2 265.4 48.6 265.7 51.8 266.0 54.4 266.4 58.1 266.7 61.8 267.0 60.6 267.3 64.4 267.6 62.4 267.9 64.2 268.3 60.4 268.6 56.7 268.9 56.1 269.2 52.5 269.5 51.4 269.8 48.2 270.1 45.2 270.5 44.6 270.8 45.1 271.1 44.6 271.4 47.7 271.7 47.6 272.1 41.3 272.4 38.0 272.7 34.6 273.0 29.7 273.2 34.9 273.4 37.1 273.6 39.7 273.8 44.3 274.0 42.0 274.2 36.6 274.4 31.4 274.5 27.4 274.8 32.4 275.1 36.1 275.3 38.6 275.6 43.0 275.7 41.3 275.9 37.3 276.1 33.3 276.3 28.5 276.5 27.1 276.7 30.1 276.9 26.8 277.1 24.0 277.3 29.5 277.6 33.3 277.8 33.9 278.1 37.8 278.3 31.3 278.6 29.0 278.8 27.9 279.1 21.4 279.3 17.8 279.5 17.0 279.7 13.4 279.9 11.8 280.0 16.7 280.2 23.5 280.4 29.1 280.6 35.3 280.8 37.7 281.0 41.7 281.2 43.2 281.4 50.5 281.6 52.5 281.7 52.7 281.9 54.7 282.1 58.0 282.4 54.8 282.6 49.5 282.9 45.2 283.1 43.1 283.3 39.1 283.5 33.7 283.7 28.1 283.9 22.7 284.1 22.4 284.3 18.5 284.5 19.0 284.7 16.2 284.9 18.8 285.2 25.2 285.4 29.5 285.7 35.5 285.9 35.5 286.2 42.4 286.4 45.6 286.7 50.3 286.9 51.1 287.2 52.8 287.4 54.5 287.7 58.4 287.9 53.7 288.2 49.1 288.4 47.9 288.7 40.5 288.9 37.3 289.2 37.6 289.5 33.7 289.7 31.2 290.0 34.0 290.2 38.8 290.5 42.5 290.7 45.4 290.9 46.4 291.1 52.2 291.3 50.7 291.5 53.3 291.7 55.1 291.9 57.9 292.0 57.7 292.2 60.6 292.5 60.0 292.7 60.8 293.0 59.3 293.2 61.7 293.5 61.6 293.7 58.9 294.0 58.6 294.3 56.8 294.5 56.7 294.8 55.1 295.0 53.9 295.3 55.4 295.5 55.3 295.8 57.6 296.0 61.3 296.3 60.5 296.5 60.8 296.8 59.5 297.0 58.5 297.3 58.2 297.5 58.4 297.8 55.3 298.0 53.1 298.3 51.8 298.5 53.4 298.8 55.4 299.1 53.6 299.3 59.5 299.6 62.6 299.8 63.8 300.1 61.2 300.3 61.6 300.6 60.3 300.8 62.0 301.1 60.6 301.3 59.3 301.6 54.6 301.8 57.6 302.1 56.6 302.3 54.3 302.6 51.9 302.8 48.7 303.1 45.6 303.4 42.9 303.6 40.8 303.9 39.4 304.1 37.4 304.4 32.9 304.6 32.3 304.9 26.3 305.1 23.8 305.4 22.7 305.6 18.4 305.8 21.8 305.9 18.2 306.1 17.5 306.4 20.7 306.6 22.5 306.9 26.0 307.1 27.6 307.3 31.5 307.5 33.7 307.7 38.2 307.9 40.3 308.2 44.3 308.4 48.5 308.7 52.1 308.9 58.1 309.2 55.1 309.4 51.6 309.7 48.5 309.9 45.3 310.2 43.5 310.4 42.6 310.7 36.3 310.9 36.0 311.2 40.8 311.4 42.1 311.7 50.2 311.9 50.5 312.2 49.6 312.4 44.4 312.7 42.2 313.0 40.1 313.3 41.8 313.6 43.6 313.9 48.7 314.2 48.0 314.5 45.3 314.8 42.4 315.2 38.7 315.5 37.3 315.8 40.0 316.1 46.4 316.4 49.0 316.7 52.7 317.1 54.3 317.4 60.4 317.7 61.4 318.0 60.5 318.3 56.6 318.6 52.5 319.0 52.4 319.3 47.5 319.6 52.0 319.9 53.2 320.2 58.2 320.5 60.8 320.8 62.5 321.2 62.8 321.5 63.2 321.8 63.0 322.1 59.2 322.4 58.5 322.7 56.2 323.1 55.5 323.4 51.7 323.7 53.8 324.0 47.3 324.3 48.0 324.6 48.6 325.0 50.5 325.3 53.2 325.6 54.3 325.9 49.7 326.2 43.8 326.5 40.3 326.8 37.4 327.2 32.3 327.5 29.8 327.8 27.1 328.1 25.1 328.4 23.0 328.6 22.0 328.9 20.6 329.1 20.0 329.3 16.0 329.5 16.0 329.7 10.7 329.9 10.6 330.1 13.1 330.4 15.0 330.6 16.3 330.9 17.7 331.1 23.8 331.4 26.9 331.6 33.0 331.9 35.1 332.2 39.9 332.5 42.0 332.8 50.3 333.2 52.9 333.4 53.0 333.7 54.2 333.9 59.6 334.2 60.6 334.4 56.7 334.7 52.9 334.9 48.3 335.2 45.7 335.4 42.1 335.7 38.8 335.9 35.1 336.2 32.7 336.4 29.3 336.7 28.4 337.0 23.8 337.2 22.1 337.5 22.0 337.7 20.3 338.0 18.1 338.2 19.3 338.5 20.4 338.7 24.2 339.0 26.0 339.2 27.8 339.5 26.5 339.7 25.1 340.0 25.9 340.2 24.7 340.5 23.8 340.7 29.4 341.0 28.8 341.2 32.8 341.5 34.6 341.8 36.6 342.0 42.3 342.3 42.9 342.5 46.0 342.8 45.2 343.0 49.4 343.3 50.4 343.6 46.3 343.9 43.2 344.2 40.0 344.5 36.6 344.8 37.2 345.2 41.4 345.5 38.4 345.8 42.9 346.1 41.8 346.4 39.3 346.7 36.1 347.1 33.3 347.4 34.2 347.7 28.5 348.0 29.3 348.3 27.8 348.6 26.2 348.8 25.1 349.1 23.9 349.3 22.5 349.5 20.2 349.7 21.7 349.9 22.6 350.1 19.6 350.3 25.9 350.5 31.9 350.7 40.7 350.8 45.6 351.1 50.0 351.4 51.2 351.6 55.0 351.9 58.3 352.1 56.5 352.4 52.4 352.6 47.9 352.9 45.5 353.1 42.7 353.4 39.2 353.6 38.4 353.9 36.2 354.1 38.1 354.4 44.5 354.6 47.8 354.9 50.2 355.1 47.3 355.4 45.2 355.6 44.8 355.9 40.8 356.2 45.2 356.4 48.1 356.7 49.6 356.9 52.9 357.2 57.4 357.4 56.6 357.7 61.3 357.9 59.2 358.2 57.8 358.4 55.1 358.7 54.3 358.9 50.5 359.2 48.7 359.4 46.0 359.7 45.3 359.9 43.0 360.2 42.6 360.4 41.5 360.7 40.7 361.0 36.9 361.3 39.0 361.6 42.2 361.9 44.2 362.2 48.0 362.5 44.0 362.8 44.1 363.2 38.2 363.5 37.9 363.8 36.1 364.1 36.7 364.4 35.4 364.7 34.0 365.1 33.3 365.4 32.7 365.7 29.3 366.0 29.1 366.3 33.6 366.5 33.2 366.8 33.6 367.0 37.8 367.3 40.6 367.5 42.9 367.8 46.8 368.0 50.4 368.3 45.3 368.5 45.0 368.8 37.4 369.0 35.3 369.3 32.2 369.5 31.6 369.8 25.9 370.1 23.9 370.3 23.6 370.6 20.5 370.8 15.9 371.1 15.2 371.3 17.2 371.6 17.6 371.8 19.8 372.1 20.1 372.3 25.0 372.6 32.3 372.8 34.5 373.1 43.1 373.3 44.8 373.6 43.1 373.8 46.2 374.1 48.0 374.3 45.7 374.6 40.3 374.9 40.5 375.1 35.6 375.4 38.5 375.6 37.9 375.9 45.8 376.1 45.1 376.4 41.4 376.7 38.7 377.1 38.3 377.4 35.6 377.7 37.9 378.0 38.6 378.3 37.5 378.6 40.3 379.0 37.2 379.3 35.3 379.6 32.5 379.9 30.8 380.2 35.2 380.5 38.5 380.9 41.7 381.2 45.5 381.4 51.4 381.5 53.2 381.7 56.9 381.9 60.6 382.2 51.8 382.4 43.0 382.7 32.2 382.9 22.6 383.1 19.7 383.3 19.3 383.5 16.1 383.7 14.5 384.0 14.4 384.3 15.7 384.6 19.5 385.0 17.7 385.3 18.7 385.6 21.0 385.9 23.2 386.2 27.8 386.5 25.8 386.9 26.1 387.2 25.1 387.5 24.9 387.7 27.0 387.9 26.4 388.0 31.3 388.2 29.3 388.5 25.8 388.8 28.4 389.0 25.8 389.3 24.2 389.6 28.7 389.8 30.8 390.1 35.3 390.4 37.4 390.6 32.9 390.9 29.1 391.2 21.6 391.4 15.7 391.7 18.1 392.0 22.9 392.2 25.2 392.5 29.4 392.8 34.6 393.1 36.6 393.3 46.9 393.6 49.4 393.9 48.4 394.1 54.5 394.4 56.9 394.7 57.5 394.9 57.5 395.2 54.1 395.5 53.0 395.7 53.9 396.0 52.9 396.3 50.9 396.5 46.5 396.8 45.6 397.1 43.9 397.3 39.4 397.6 35.0 397.9 32.3 398.2 36.1 398.4 41.7 398.7 41.6 399.0 46.6 399.2 43.9 399.5 41.7 399.8 37.7 400.0 34.8 400.3 31.8 400.6 29.7 400.8 26.2 401.1 23.5 401.4 23.8 401.6 18.8 401.9 17.7 402.2 17.3 402.4 21.2 402.7 23.6 403.0 28.5 403.3 32.2 403.5 37.4 403.8 41.9 404.1 43.3 404.3 46.0 404.6 38.5 404.9 30.0 405.1 19.5 405.4 15.6 405.7 20.3 405.9 23.9 406.2 31.2 406.5 31.7 406.7 29.8 407.0 27.9 407.3 25.9 407.6 22.6 407.8 25.9 408.1 24.8 408.4 27.8 408.6 29.4 408.9 22.8 409.2 16.0 409.4 14.4 409.7 6.5 409.9 14.9 410.1 19.4 410.3 28.3 410.5 34.8 410.7 43.9 410.9 48.5 411.1 59.1 411.3 65.5 411.6 60.6 411.8 58.3 412.1 57.0 412.4 51.2 412.7 49.6 412.9 50.2 413.2 47.9 413.5 44.3 413.7 48.1 414.0 50.5 414.3 52.5 414.5 53.4 414.9 49.7 415.2 47.2 415.5 41.5 415.9 39.9 416.2 42.7 416.5 44.1 416.9 45.2 417.2 48.3 417.6 46.0 417.9 47.6 418.2 43.5 418.6 41.7 418.9 42.6 419.2 46.6 419.6 46.6 419.9 49.6 420.2 49.5 420.6 46.9 420.9 48.6 421.2 44.5 421.6 48.0 421.9 50.6 422.2 51.6 422.6 53.4 422.9 51.8 423.3 58.0 423.6 55.3 423.9 57.3 424.3 57.5 424.6 54.5 424.9 56.2 425.3 53.5 425.6 48.6 425.9 38.4 426.3 38.1 426.6 29.1 426.8 27.7 427.0 25.0 427.2 23.0 427.4 17.7 427.7 20.4 428.0 28.8 428.2 30.1 428.5 34.7 428.8 31.0 429.0 31.6 429.3 28.0 429.6 26.6 429.8 21.1 430.1 18.9 430.4 18.0 430.6 14.3 430.9 16.4 431.2 15.8 431.4 20.1 431.7 20.9 432.0 24.1 432.2 26.7 432.5 28.1 432.8 32.3 433.1 28.4 433.3 25.1 433.6 24.5 433.9 21.2 434.1 21.4 434.4 15.1 434.7 13.1 434.9 12.6 435.2 17.4 435.5 21.5 435.7 26.2 436.0 29.2 436.3 31.4 436.7 35.2 437.0 44.0 437.3 48.1 437.7 43.6 438.0 42.0 438.4 42.2 438.7 37.4 439.0 35.2 439.4 32.9 439.7 29.5 440.0 28.2 440.4 29.7 440.7 31.5 441.0 30.3 441.4 34.5 441.6 31.2 441.9 25.6 442.2 21.7 442.4 17.0 442.7 21.0 443.0 25.9 443.3 28.3 443.5 32.2 443.8 27.3 444.1 25.3 444.3 22.8 444.6 16.6 444.9 19.5 445.1 23.7 445.4 22.5 445.7 26.7 445.9 26.4 446.2 35.7 446.5 36.3 446.7 37.9 447.1 40.0 447.4 44.6 447.8 46.4 448.1 48.0 448.4 48.6 448.8 53.2 449.1 54.9 449.4 56.2 449.8 52.9 450.1 51.2 450.4 47.6 450.8 45.6 451.1 43.4 451.4 40.9 451.8 37.8 452.1 34.9 452.4 33.6 452.8 32.1 453.1 37.1 453.5 36.4 453.8 40.0 454.1 41.7 454.5 42.1 454.8 45.5 455.1 48.7 455.5 51.2 455.8 51.4 456.1 54.8 456.5 51.1 456.8 51.6 457.1 47.2 457.5 43.9 457.8 41.4 458.2 36.6 458.5 35.9 458.8 31.0 459.2 28.8 459.5 27.8 459.8 27.7 460.2 25.6 460.5 29.1 460.8 30.8 461.2 38.2 461.5 40.0 461.8 36.4 462.2 32.1 462.5 24.2 462.9 21.3 463.1 21.2 463.4 23.7 463.7 19.0 463.9 20.1 464.2 25.2 464.5 35.2 464.7 42.4 465.0 50.8 465.3 44.9 465.5 39.0 465.8 33.8 466.1 24.4 466.3 27.9 466.6 29.7 466.9 32.7 467.1 34.9 467.4 41.1 467.7 43.6 468.0 50.1 468.2 53.5 468.5 47.7 468.8 41.7 469.0 35.2 469.3 31.0 469.6 32.5 469.8 33.4 470.1 37.1 470.4 37.6 470.6 35.0 470.9 34.5 471.2 32.2 471.4 32.4 471.7 32.0 472.0 37.8 472.2 42.8 472.5 45.3 472.8 47.1 473.1 48.5 473.3 51.1 473.6 51.0 473.9 46.5 474.1 45.2 474.4 42.5 474.7 40.1 474.9 36.1 475.2 34.4 475.5 29.7 475.7 24.2 476.0 19.4 476.3 16.8 476.5 16.3 476.8 10.7 477.1 5.5 477.3 6.8 477.6 6.0 477.9 3.7 478.2 8.0 478.4 9.0 478.7 14.1 479.0 16.0 479.2 19.3 479.4 29.8 479.6 34.0 479.8 39.9 480.0 43.1 480.3 45.6 480.6 48.9 480.8 53.4 481.2 52.0 481.5 50.3 481.8 50.1 482.2 47.0 482.4 50.7 482.7 51.9 483.0 53.3 483.3 56.5 483.5 54.9 483.8 54.0 484.1 53.0 484.3 50.7 484.6 47.4 484.9 44.8 485.1 43.9 485.4 40.5 485.7 45.6 485.9 51.1 486.2 52.7 486.5 58.9 486.7 60.1 487.0 61.5 487.3 61.7 487.6 61.7 487.8 58.3 488.1 53.4 488.4 52.7 488.6 48.6 488.9 51.8 489.2 55.7 489.4 57.2 489.7 60.3 490.0 57.7 490.4 56.5 490.7 55.2 491.0 53.7 491.4 50.4 491.7 52.5 492.0 48.8 492.4 47.8 492.7 49.6 493.1 48.3 493.4 52.0 493.7 50.8 494.1 43.1 494.4 44.8 494.7 38.2 495.1 36.2 495.3 39.7 495.6 39.2 495.9 38.7 496.1 43.3 496.4 44.0 496.7 49.7 496.9 47.4 497.2 53.2 497.5 54.8 497.8 56.2 498.0 57.8 498.3 57.6 498.6 54.2 498.8 50.5 499.1 47.7 499.4 43.6 499.6 47.5 499.9 45.7 500.2 52.4 500.4 53.4 500.8 56.3 501.1 57.5 501.4 57.8 501.8 58.8 502.0 58.7 502.2 61.1 502.5 58.4 502.7 58.6 503.1 57.7 503.4 57.6 503.7 54.1 504.1 54.8 504.4 55.4 504.8 56.6 505.1 56.7 505.4 58.6 505.8 50.3 506.1 43.5 506.5 36.6 506.8 30.0 507.0 32.9 507.2 33.7 507.4 38.4 507.6 41.6 507.9 40.6 508.2 36.2 508.4 35.2 508.7 30.3 509.0 35.7 509.3 47.2 509.5 55.2 509.8 63.9 510.1 61.2 510.3 62.7 510.6 58.7 510.9 59.8 511.2 59.1 511.6 57.3 511.9 54.6 512.2 55.5 512.6 54.1 512.9 50.4 513.3 50.6 513.6 47.5 513.9 40.5 514.3 40.0 514.6 35.1 515.0 27.1 515.2 35.6 515.4 50.3 515.6 59.1 515.8 69.0 516.1 64.7 516.3 62.7 516.6 56.6 516.9 53.7 517.1 58.4 517.4 57.4 517.7 61.0 518.0 63.8 518.2 55.9 518.5 54.1 518.8 47.0 519.0 41.0 519.3 46.4 519.6 54.8 519.9 61.3 520.1 66.8 520.4 64.7 520.7 68.3 521.0 67.0 521.2 69.3 521.5 68.6 521.8 62.6 522.0 59.7 522.3 55.8 522.6 53.2 522.9 44.4 523.1 41.2 523.4 38.9 523.7 47.9 523.9 53.2 524.2 62.6 524.5 69.6 524.8 69.3 525.2 66.9 525.5 67.6 525.9 63.5 526.2 60.7 526.5 53.6 526.9 49.7 527.2 42.3 527.6 40.5 527.9 37.8 528.2 34.2 528.6 32.6 528.9 32.9 529.3 37.4 529.6 39.8 529.9 39.4 530.3 43.1 530.6 49.3 531.0 53.3 531.3 55.9 531.6 52.3 532.0 49.3 532.3 43.3 532.7 41.9 532.9 37.6 533.2 37.0 533.5 32.1 533.7 28.4 534.0 25.8 534.3 26.5 534.6 22.5 534.8 18.4 535.1 24.9 535.4 28.2 535.6 36.5 535.9 39.2 536.2 41.1 536.5 45.0 536.7 47.6 537.0 50.4 537.3 56.1 537.6 56.4 537.8 58.4 538.1 62.8 538.4 53.3 538.6 45.9 538.9 35.6 539.2 31.2 539.5 28.6 539.7 23.7 540.0 21.2 540.3 19.0 540.5 22.7 540.8 21.4 541.1 30.1 541.4 31.0 541.6 33.5 541.9 37.7 542.2 43.5 542.4 45.1 542.7 42.4 543.0 38.2 543.3 31.5 543.5 28.5 543.8 27.7 544.1 25.9 544.4 26.5 544.6 25.4 544.9 27.4 545.2 31.3 545.4 36.2 545.7 39.0 546.0 41.0 546.3 40.6 546.5 44.5 546.8 45.0 547.1 46.2 547.3 46.7 547.6 52.2 547.9 49.7 548.2 46.8 548.4 47.4 548.7 41.8 549.0 43.5 549.3 48.5 549.5 50.1 549.8 55.2 550.1 58.6 550.3 52.8 550.6 46.9 550.9 40.7 551.2 36.2 551.4 34.3 551.7 31.4 552.0 29.8 552.2 26.6 552.5 32.8 552.8 35.4 553.1 39.7 553.3 44.7 553.6 40.2 553.9 37.5 554.1 33.9 554.4 31.1 554.7 27.7 555.0 29.3 555.2 26.6 555.5 26.1 555.8 30.3 556.1 33.2 556.3 39.3 556.6 42.2 556.9 38.5 557.1 34.3 557.4 34.0 557.7 28.7 558.0 33.8 558.2 34.3 558.5 44.3 558.8 45.2 559.0 49.7 559.3 53.8 559.6 59.7 559.9 63.9 560.1 59.9 560.4 56.6 560.7 50.5 561.0 47.1 561.2 50.1 561.5 59.3 561.8 63.3 562.0 66.5 562.3 62.7 562.6 62.0 562.9 58.8 563.1 55.7 563.4 50.6 563.7 45.9 563.9 40.8 564.2 36.0 564.5 40.1 564.8 45.8 565.0 51.4 565.3 53.1 565.6 54.2 565.9 57.3 566.1 57.5 566.4 58.4 566.7 54.6 566.9 50.3 567.2 49.2 567.5 47.3 567.8 47.4 568.0 41.5 568.3 38.5 568.6 37.5 568.8 39.7 569.1 42.6 569.4 46.2 569.7 47.9 569.9 42.8 570.2 40.8 570.5 36.5 570.7 37.4 571.0 40.8 571.3 46.7 571.6 45.9 571.8 52.9 572.1 52.5 572.4 58.9 572.7 59.8 572.9 61.0 573.2 59.1 573.5 60.3 573.7 55.0 574.0 51.2 574.3 53.6 574.6 51.8 574.8 54.7 575.1 58.4 575.4 62.1 575.6 62.6 575.9 63.5 576.2 65.2 576.5 60.0 576.7 56.5 577.0 51.6 577.3 48.2 577.6 49.6 577.8 52.9 578.1 54.7 578.4 58.1 578.6 57.0 578.9 59.9 579.2 60.2 579.5 61.5 579.7 62.3 580.0 64.4 580.3 66.4 580.5 65.0 580.8 62.9 581.1 69.5 581.4 69.1 581.6 69.0 581.9 67.3 582.2 67.4 582.4 62.4 582.7 58.6 583.0 53.5 583.3 52.3 583.5 49.1 583.8 42.3 584.1 41.2 584.4 38.6 584.6 35.6 584.9 35.3 585.2 38.9 585.4 38.3 585.7 42.5 586.0 44.8 586.3 44.8 586.5 46.8 586.8 48.7 587.1 50.0 587.3 47.6 587.6 46.6 587.9 46.6 588.2 43.3 588.4 45.7 588.7 47.8 589.0 52.8 589.3 52.9 589.5 53.1 589.8 58.4 590.1 58.5 590.3 61.7 590.6 58.9 590.9 57.5 591.2 54.8 591.4 54.3 591.7 54.7 592.0 58.9 592.2 61.9 592.5 63.9 592.8 63.1 593.1 60.7 593.3 58.9 593.6 58.1 593.9 56.8 594.1 50.2 594.4 49.9 594.7 48.0 595.0 55.0 595.2 56.6 595.5 58.8 595.8 64.0 596.1 64.5 596.3 61.6 596.6 60.9 596.9 60.8 597.1 54.6 597.4 52.1 597.7 51.0 598.0 47.7 598.2 54.6 598.5 55.6 598.8 62.3 599.0 66.3 599.3 59.0 599.6 56.4 599.9 51.9 600.1 46.9 600.4 50.0 600.7 56.7 601.0 60.4 601.2 63.9 601.5 64.1 601.8 68.7 602.0 66.7 602.3 69.2 602.6 64.1 602.9 57.1 603.1 54.3 603.4 50.4 603.7 47.4 603.9 46.3 604.2 43.6 604.5 38.6 604.8 42.0 605.0 39.4 605.3 41.6 605.6 42.1 605.9 48.5 606.1 55.6 606.4 56.1 606.7 61.3 606.9 60.1 607.2 60.9 607.5 59.9 607.8 62.3 608.0 62.9 608.3 62.7 608.6 63.2 608.8 63.9 609.1 63.9 609.4 67.4 609.7 68.4 609.9 68.1 610.2 67.2 610.4 68.4 610.6 68.6 610.9 69.4 611.2 68.2 611.6 65.7 611.9 66.8 612.2 65.3 612.6 67.5 612.9 63.6 613.3 63.9 613.6 60.4 613.9 60.1 614.3 61.1 614.6 63.3 615.0 63.9 615.3 63.5 615.6 62.5 616.0 61.7 616.3 59.9 616.7 57.0 617.0 56.7 617.3 58.3 617.7 53.0 618.0 55.4 618.4 56.8 618.7 58.3 619.0 61.1 619.4 61.9 619.7 64.0 620.1 66.6 620.4 66.5 620.7 65.7 621.1 68.6 621.4 66.7 621.8 65.1 622.1 64.0 622.4 66.6 622.8 66.8 623.1 69.4 623.5 68.5 623.8 68.9 624.1 71.3 624.5 72.3 624.8 74.9 625.2 72.7 625.5 73.3 625.8 73.4 626.2 72.4 626.5 72.6 626.9 73.6 627.2 69.7 627.5 67.8 627.9 73.4 628.2 73.7 628.6 73.6 628.9 77.6 629.2 72.2 629.6 78.1 629.9 76.4 630.3 74.1 630.6 76.8 630.9 76.3 631.3 77.5 631.6 77.0 632.0 77.2 632.3 74.5 632.6 73.4 633.0 72.9 633.3 70.2 633.7 69.5 634.0 66.6 634.3 68.4 634.7 70.5 635.0 73.9 635.4 76.1 635.7 75.1 636.0 75.2 636.4 73.2 636.7 72.9 637.1 75.1 637.4 74.8 637.7 77.3 638.1 77.5 638.4 76.6 638.8 78.1 639.1 79.5 639.4 78.8 639.6 78.8 639.9 79.7 640.1 78.0 640.3 80.2 640.5 73.7 640.7 61.9 640.9 52.6 641.1 44.8 641.3 42.1 641.5 39.0 641.7 36.1 641.9 33.0 642.2 32.7 642.4 34.1 642.7 38.9 643.0 36.6 643.3 38.3 643.5 38.8 643.8 44.2 644.1 45.0 644.3 48.5 644.6 47.1 644.9 50.7 645.2 55.6 645.4 50.5 645.7 44.6 646.0 41.0 646.2 36.6 646.5 44.6 646.8 48.3 647.1 54.3 647.3 58.5 647.6 53.4 647.9 47.1 648.2 45.2 648.4 38.5 648.7 43.1 649.0 46.3 649.2 52.3 649.5 55.9 649.8 55.5 650.1 58.2 650.3 61.1 650.6 61.0 650.9 57.7 651.1 55.5 651.4 50.7 651.7 48.3 652.0 50.7 652.2 56.6 652.5 55.5 652.8 58.4 653.0 59.5 653.3 62.4 653.6 59.4 653.9 63.9 654.1 64.5 654.4 69.1 654.7 70.4 655.0 72.1 655.2 68.0 655.5 67.4 655.8 63.6 656.0 58.2 656.3 57.0 656.6 54.0 656.9 51.4 657.1 47.6 657.4 48.1 657.7 45.7 657.9 46.0 658.2 44.2 658.5 45.6 658.8 51.9 659.0 54.8 659.3 58.7 659.6 56.1 659.8 54.6 660.1 52.5 660.4 53.1 660.7 45.1 660.9 42.7 661.2 39.5 661.5 34.5 661.8 32.5 662.0 34.6 662.3 32.3 662.6 32.4 662.8 35.3 663.0 43.4 663.2 44.8 663.4 50.2" stroke="#ff7f0e" stroke-opacity="0.5"/></g><g clip-path="url(#cb)" fill="none"><path d="M63.2 155.7L63.8 157.5M67.2 152.0L67.8 156.9M91.6 154.2L92.2 155.3M104.2 153.0L104.8 153.0M144.8 151.8L145.4 157.2M146.3 154.1L146.9 151.5M149.9 153.5L150.5 155.9M155.2 157.8L155.8 157.2M158.5 154.1L159.1 150.9M173.2 152.6L173.8 144.7M173.5 151.1L174.1 154.5M181.6 153.0L182.2 150.8M187.7 153.1L188.3 151.9M205.1 153.6L205.7 149.2M224.1 154.9L224.7 151.6M226.8 151.1L227.4 153.5M234.1 150.7L234.7 146.4M252.7 154.4L253.3 162.5M259.7 152.0L260.3 150.5M275.8 149.6L276.4 152.6M304.4 159.3L305.0 161.0M348.2 155.1L348.8 159.3M351.4 156.2L352.0 147.7M353.3 157.6L353.9 147.1M368.4 151.4L369.0 156.1M377.5 160.1L378.1 160.0M381.4 146.6L382.0 145.4M389.0 158.3L389.6 145.9M415.1 159.9L415.7 144.6M415.9 152.1L416.5 158.7M423.5 153.2L424.1 157.2M424.1 156.5L424.7 153.7M428.9 156.0L429.5 150.0M436.9 155.4L437.5 151.4M440.5 151.6L441.1 160.8M443.2 156.3L443.8 156.4M452.5 154.5L453.1 165.4M455.0 154.8L455.6 142.3M456.8 154.4L457.4 155.1M470.3 152.6L470.9 174.4M475.1 154.2L475.7 156.8M490.1 155.0L490.7 150.0M501.3 157.2L501.9 137.0M528.6 153.7L529.2 147.7M560.4 153.2L561.0 151.3M568.0 154.0L568.6 163.2M571.8 155.1L572.4 144.5M576.6 154.3L577.2 164.0M584.7 156.8L585.3 159.8M600.1 152.5L600.7 153.4M620.0 153.4L620.6 157.3M625.8 154.1L626.4 158.3M628.8 151.8L629.4 154.4" stroke="#485fd0" stroke-width="1.4"/><path d="M279.6 151.1L279.9 184.0" stroke="#4e68d8" stroke-width="1.4"/><path d="M45.0 154.9L45.6 157.7M48.0 151.1L48.6 154.0M49.9 156.2L50.5 155.4M72.1 152.6L72.7 160.3M74.9 151.8L75.5 151.6M81.6 153.0L82.2 156.1M82.4 152.3L83.0 153.9M82.7 153.0L83.3 151.2M84.7 148.9L85.3 165.6M86.5 153.8L87.1 159.4M90.0 157.6L90.6 154.7M113.7 150.9L114.3 152.5M119.6 154.8L120.2 151.9M120.0 154.9L120.6 151.7M124.1 153.6L124.7 150.2M142.3 152.2L142.9 151.7M174.6 153.0L175.2 140.6M194.4 154.1L195.0 151.7M194.6 156.6L195.2 156.9M205.3 154.3L205.9 148.3M213.2 154.5L213.8 157.0M237.3 153.2L237.9 153.2M247.4 153.3L248.0 151.0M278.7 155.4L279.3 165.3M285.5 148.2L286.1 150.4M289.5 150.5L290.1 155.0M291.4 152.6L292.0 147.6M292.4 156.6L293.0 153.3M304.3 153.1L304.9 128.7M309.8 156.9L310.4 160.5M342.6 158.5L343.2 163.4M347.9 155.1L348.5 157.6M349.9 169.7L350.5 169.7M351.1 158.5L351.7 145.9M388.7 154.6L389.3 145.3M405.1 149.5L405.7 157.3M413.0 158.7L413.6 159.5M413.9 155.3L414.5 159.7M423.2 154.4L423.8 155.3M443.8 158.0L444.4 143.9M490.7 153.5L491.3 160.4M539.5 152.5L540.1 158.3M542.9 155.2L543.5 151.2M556.5 156.6L557.1 159.5M563.6 154.6L564.2 142.8M576.3 153.7L576.9 154.9M577.7 151.7L578.3 162.9M586.0 147.9L586.6 153.0M590.1 150.1L590.7 149.4M603.3 152.9L603.9 157.9M606.5 155.3L607.1 151.4M631.5 155.9L632.1 149.5M638.7 153.8L639.3 154.4M643.1 154.9L643.7 150.0M645.0 153.2L645.6 152.4" stroke="#5571de" stroke-width="1.4"/><path d="M43.2 153.6L43.8 153.0M68.5 155.5L69.1 151.5M77.2 153.8L77.8 152.4M77.4 153.0L78.0 158.9M112.9 154.2L113.5 160.4M122.5 155.8L123.1 155.1M125.2 150.8L125.8 164.2M129.7 153.5L130.3 154.7M147.9 153.1L148.5 153.5M148.5 154.1L149.1 147.9M157.6 155.5L158.2 150.9M177.2 153.9L177.8 158.7M200.0 154.1L200.6 153.0M216.1 153.1L216.7 153.6M217.9 154.5L218.5 156.3M227.5 155.5L228.1 153.0M244.1 154.5L244.7 152.9M252.8 156.6L253.4 145.7M255.2 156.9L255.8 152.9M273.4 154.5L274.0 154.6M277.3 155.1L277.9 149.0M299.2 151.8L299.8 156.0M306.0 143.9L306.6 154.0M313.3 151.0L313.9 154.3M337.3 156.8L337.9 152.2M342.9 154.3L343.5 144.1M347.7 153.7L348.3 149.1M354.9 153.3L355.5 163.4M373.1 153.8L373.7 157.4M420.7 152.2L421.3 161.6M425.0 143.4L425.6 142.3M437.7 151.4L438.3 152.3M439.5 151.7L440.1 159.6M462.1 152.8L462.7 150.9M464.4 157.5L465.0 160.5M471.0 157.9L471.6 144.9M474.7 151.8L475.3 163.6M478.4 161.1L479.0 165.1M479.9 156.0L480.5 155.8M494.2 152.8L494.8 154.7M502.1 154.1L502.7 134.0M509.8 156.3L510.4 147.8M517.6 154.1L518.2 143.8M525.9 143.9L526.5 161.9M529.9 160.3L530.5 154.3M533.6 158.5L534.2 156.4M549.1 152.0L549.7 154.7M550.6 156.6L551.2 149.7M570.4 156.2L571.0 154.7M594.9 156.8L595.5 157.4M601.3 151.3L601.9 149.7M609.9 156.4L610.5 158.8M641.6 150.3L642.2 154.7M645.6 151.0L646.2 157.0M650.8 155.0L651.4 150.3" stroke="#6282ea" stroke-width="1.4"/><path d="M43.9 154.6L44.5 155.9M51.4 155.9L52.0 156.9M55.4 154.0L56.0 152.0M58.8 157.3L59.4 151.9M67.5 152.4L68.1 158.7M88.1 161.2L88.7 148.0M95.1 150.4L95.7 160.3M95.7 150.3L96.3 150.3M96.0 147.6L96.6 145.4M99.1 153.3L99.7 150.8M104.7 149.8L105.3 155.9M107.0 152.7L107.6 155.3M108.1 153.8L108.7 152.6M117.0 151.7L117.6 159.2M118.4 154.4L119.0 153.5M145.4 153.5L146.0 153.2M146.8 149.4L147.4 145.9M192.3 153.3L192.9 156.4M193.4 156.7L194.0 147.1M201.2 155.3L201.8 155.8M207.7 151.7L208.3 153.3M212.7 151.0L213.3 143.6M223.6 154.7L224.2 155.8M227.2 158.7L227.8 160.4M236.1 155.7L236.7 157.8M248.0 155.6L248.6 154.5M249.3 157.5L249.9 150.3M262.7 155.6L263.3 157.7M270.0 153.6L270.6 159.9M285.1 157.1L285.7 155.2M290.9 158.0L291.5 156.3M299.4 160.4L300.0 150.7M300.2 151.6L300.8 165.2M318.6 146.8L319.2 150.9M324.4 153.8L325.0 155.0M324.7 152.5L325.3 149.8M327.2 151.2L327.8 166.8M332.7 157.3L333.3 155.8M340.6 154.5L341.2 156.0M343.7 154.5L344.3 149.2M352.5 143.3L353.1 135.2M355.6 156.1L356.2 151.5M376.5 152.1L377.1 136.8M445.9 154.9L446.5 152.3M495.1 156.4L495.7 167.6M498.8 150.4L499.4 138.2M500.7 147.4L501.3 146.3M502.9 152.8L503.5 160.9M513.6 159.8L514.2 157.2M532.0 151.2L532.6 168.3M582.2 155.0L582.8 153.4M594.2 157.5L594.8 153.1M599.9 152.0L600.5 163.4M608.0 151.6L608.6 157.0M628.0 151.9L628.6 152.1M632.5 154.9L633.1 153.9M637.6 151.7L638.2 157.6M654.5 153.6L655.1 155.2M656.9 151.7L657.5 149.6" stroke="#7092f3" stroke-width="1.4"/><path d="M51.9 154.2L52.5 152.5M62.9 155.2L63.5 155.7M79.4 152.6L80.0 156.6M92.7 153.8L93.3 165.1M104.5 153.8L105.1 158.2M125.7 154.2L126.3 161.6M147.0 153.7L147.6 162.1M152.9 156.2L153.5 165.9M154.0 148.2L154.6 156.5M166.5 157.0L167.1 139.8M174.9 156.3L175.5 150.0M203.3 151.2L203.9 154.1M224.5 148.4L225.1 157.1M234.2 150.6L234.8 151.1M236.6 152.6L237.2 156.4M250.9 156.7L251.5 146.3M259.4 159.2L260.0 147.9M268.7 151.4L269.3 167.6M278.5 155.0L279.1 136.2M299.0 147.3L299.6 147.7M310.0 156.3L310.6 153.1M314.9 148.9L315.5 149.8M340.1 163.4L340.7 152.6M344.2 157.2L344.8 147.3M348.4 156.6L349.0 159.3M360.6 147.5L361.2 147.7M392.3 154.9L392.9 162.4M392.7 148.4L393.3 154.4M402.9 152.7L403.5 151.1M403.1 157.6L403.7 151.0M404.1 153.4L404.7 170.1M407.8 157.9L408.4 158.3M413.3 152.6L413.9 172.8M418.8 149.3L419.4 155.5M446.0 154.5L446.6 158.4M465.5 154.8L466.1 158.3M540.2 150.8L540.8 162.6M551.6 152.2L552.2 142.7M553.3 150.1L553.9 149.5M570.2 156.5L570.8 152.4M579.2 150.3L579.8 159.4M588.4 156.3L589.0 157.3M589.1 155.6L589.7 161.4M594.5 151.1L595.1 153.8M598.7 153.6L599.3 149.7M603.7 153.6L604.3 146.2M611.9 156.2L612.5 157.5M635.2 155.1L635.8 155.3M658.4 156.3L659.0 148.3" stroke="#7ea1f9" stroke-width="1.4"/><path d="M49.7 155.2L50.3 147.7M50.5 157.6L51.1 151.5M60.8 159.8L61.4 161.6M70.8 157.0L71.4 152.9M74.5 155.5L75.1 160.5M79.1 151.6L79.7 144.4M90.4 153.3L91.0 156.1M112.1 152.2L112.7 159.6M113.3 154.2L113.9 145.3M120.8 156.5L121.4 153.5M138.9 156.0L139.5 151.9M144.4 147.8L145.0 152.5M157.1 157.6L157.7 156.1M158.7 154.4L159.3 149.1M169.4 155.6L170.0 164.8M196.9 155.7L197.5 161.5M201.8 150.6L202.4 155.6M204.4 150.4L205.0 154.7M215.7 150.6L216.3 152.2M237.6 151.5L238.2 143.1M239.0 157.5L239.6 152.2M240.4 155.2L241.0 147.5M263.3 148.1L263.9 154.2M272.3 151.6L272.9 160.5M290.1 148.9L290.7 150.5M315.0 156.9L315.6 154.8M328.4 153.7L329.0 155.9M339.0 153.9L339.6 159.8M339.5 154.9L340.1 150.1M355.6 156.3L356.2 149.0M364.2 151.3L364.8 154.2M380.0 150.5L380.6 152.8M423.1 150.8L423.7 148.1M429.4 159.1L430.0 148.2M440.8 159.0L441.4 156.8M441.7 157.5L442.3 170.9M446.2 149.4L446.8 158.7M449.6 144.6L450.2 165.4M453.9 154.9L454.5 154.9M461.8 150.5L462.4 153.2M466.6 153.9L467.2 173.3M487.1 157.6L487.7 160.8M507.8 149.8L508.4 147.8M517.3 160.3L517.9 149.8M522.8 150.5L523.4 163.4M530.8 158.9L531.4 156.8M533.1 156.6L533.7 153.0M555.3 157.5L555.9 152.0M556.8 156.7L557.4 144.5M567.8 145.1L568.4 147.9M569.4 151.9L570.0 152.5M590.7 150.3L591.3 155.0M597.4 154.6L598.0 160.2M606.1 154.8L606.7 153.7M606.3 155.9L606.9 162.8M616.4 158.7L617.0 151.3M657.0 151.7L657.6 164.3M658.9 151.6L659.5 144.2" stroke="#8db0fe" stroke-width="1.4"/><path d="M78.2 150.2L78.8 158.8M148.7 154.2L149.3 152.8M318.1 155.4L318.7 165.5M327.7 153.5L328.3 134.0M383.7 153.3L384.3 158.8M398.4 157.6L399.0 166.7M406.9 161.0L407.5 153.2M466.8 151.9L467.4 163.7M540.9 158.1L541.5 166.1M552.6 153.6L553.2 152.7M574.6 166.3L575.2 161.1M622.1 151.8L622.7 155.2M652.4 149.7L653.0 152.6" stroke="#9cbcfe" stroke-width="1.4"/><path d="M43.7 154.9L44.3 154.8M105.6 153.3L106.2 153.6M227.8 154.7L228.4 162.8M271.6 154.0L272.2 164.8M359.6 152.3L360.2 168.3M510.6 151.2L511.2 147.8M541.4 159.3L542.0 145.2M586.1 156.7L586.7 154.9" stroke="#aac7fc" stroke-width="1.4"/><path d="M220.2 158.6L220.8 147.6M277.9 158.7L278.5 141.4M280.5 153.0L281.1 143.6M294.4 157.5L295.0 175.0M373.4 153.4L374.0 160.6M572.7 149.4L573.3 152.2M647.3 156.8L647.9 151.2M334.3 150.7L334.6 183.5" stroke="#b40426" stroke-width="1.4"/><path d="M48.6 153.3L49.2 149.4M131.1 153.3L131.7 155.7M158.0 148.8L158.6 157.3M235.4 153.1L236.0 149.4M257.1 155.8L257.7 151.6M285.7 152.2L286.3 148.3M306.8 157.4L307.4 153.2M309.4 155.9L310.0 153.8M399.9 155.8L400.5 149.7M417.1 156.8L417.7 146.7M417.9 160.2L418.5 145.3M431.7 156.1L432.3 162.0M485.7 144.9L486.3 162.1M530.2 154.5L530.8 151.1M538.5 147.9L539.1 155.4" stroke="#b9d0f9" stroke-width="1.4"/><path d="M51.1 154.5L51.7 152.4M84.5 146.2L85.1 167.8M92.3 155.0L92.9 131.5M161.6 152.0L162.2 164.1M174.3 155.9L174.9 146.2M176.1 157.1L176.7 139.9M178.4 160.4L179.0 153.0M188.4 157.5L189.0 140.2M189.8 148.5L190.4 156.7M287.0 163.4L287.6 169.1M293.6 152.3L294.2 140.3M347.3 156.6L347.9 167.6M473.1 157.3L473.7 146.9M487.9 150.9L488.5 144.2M495.5 156.9L496.1 168.9M496.6 155.7L497.2 158.3M508.4 154.6L509.0 147.8M523.7 163.2L524.3 148.2M532.8 158.1L533.4 162.2M626.2 150.0L626.8 148.8" stroke="#c32931" stroke-width="1.4"/><path d="M190.1 156.4L190.7 160.6M345.1 152.7L345.7 142.0M367.0 152.8L367.6 143.7M441.8 154.9L442.4 150.5M469.0 140.6L469.6 169.7M484.0 162.6L484.6 147.2M515.6 149.3L516.2 143.5M516.7 157.1L517.3 141.6M553.8 156.3L554.4 154.5M618.0 154.4L618.6 146.7M622.4 157.4L623.0 150.6M654.2 150.0L654.8 156.7" stroke="#c6d6f1" stroke-width="1.4"/><path d="M585.0 153.2L585.3 134.5M591.8 156.0L592.1 133.0" stroke="#ca3b37" stroke-width="1.4"/><path d="M46.0 149.5L46.6 159.6M59.4 151.6L60.0 150.3M206.4 151.5L207.0 152.2M209.1 146.6L209.7 147.2M247.7 149.3L248.3 137.7M270.3 161.3L270.9 151.1M292.6 155.1L293.2 154.1M348.8 156.7L349.4 157.3M359.3 155.6L359.9 157.1M382.0 145.7L382.6 142.9M426.4 154.6L427.0 152.0M453.2 151.3L453.8 177.9M520.7 155.0L521.3 169.5M525.0 139.1L525.6 151.0M575.6 134.8L576.2 153.0M602.1 153.0L602.7 169.3M620.7 147.1L621.3 145.9M627.5 148.2L628.1 157.8M628.1 149.1L628.7 144.6M629.9 153.0L630.5 151.2" stroke="#d0473e" stroke-width="1.4"/><path d="M150.3 151.6L150.9 157.5M156.3 152.1L156.9 153.6M164.1 154.6L164.7 144.3M213.0 152.2L213.6 145.3M254.4 151.5L255.0 143.8M290.6 157.0L291.2 159.2M353.2 148.9L353.8 151.3M408.8 151.8L409.4 150.8M411.3 155.4L411.9 156.5M456.9 155.7L457.5 155.4M619.1 153.4L619.7 153.2M635.8 152.8L636.4 149.8" stroke="#d2dae7" stroke-width="1.4"/><path d="M75.7 147.8L76.3 150.4M129.2 158.4L129.8 163.0M140.0 144.6L140.6 138.7M153.4 161.8L154.0 160.8M177.8 150.7L178.4 161.8M183.8 155.5L184.4 155.2M205.5 152.0L206.1 153.2M226.5 155.3L227.1 162.6M231.7 159.1L232.3 124.5M270.7 159.2L271.3 155.9M369.4 157.5L370.0 160.9M369.7 159.0L370.3 157.5M462.6 154.9L463.2 148.7M464.6 142.7L465.2 161.1M484.9 154.2L485.5 140.3M499.4 160.4L500.0 183.1M499.9 160.2L500.5 157.4M511.9 157.3L512.5 173.6M520.5 155.3L521.1 157.0M536.0 150.9L536.6 142.7M546.6 151.8L547.2 143.3M587.1 147.4L587.7 138.7M597.1 151.1L597.7 167.1M634.9 154.4L635.5 153.4" stroke="#dd5f4b" stroke-width="1.4"/><path d="M51.0 150.8L51.6 147.1M75.3 155.0L75.9 151.3M109.1 157.2L109.7 150.5M137.1 142.9L137.7 147.6M209.3 158.2L209.9 151.3M225.9 151.5L226.5 157.2M228.3 150.3L228.9 146.7M232.3 159.5L232.9 144.7M347.0 151.2L347.6 153.3M433.7 154.3L434.3 160.2M525.4 153.1L526.0 162.5M587.7 157.2L588.3 168.2M628.7 154.8L629.3 159.2" stroke="#dddcdc" stroke-width="1.4"/><path d="M80.4 156.9L81.0 156.0M97.9 160.6L98.5 144.6M124.4 151.0L125.0 145.9M127.5 152.3L128.1 158.3M130.8 147.6L131.4 155.9M132.2 156.4L132.8 166.6M221.3 152.8L221.9 141.1M255.0 156.3L255.6 159.0M261.4 154.3L262.0 152.2M282.5 154.9L283.1 154.6M338.7 156.6L339.3 161.3M434.7 148.9L435.3 155.6M457.4 145.7L458.0 140.1M475.5 149.6L476.1 146.0M482.5 153.7L483.1 161.1M519.6 152.4L520.2 155.5M551.6 155.9L552.2 159.4M612.6 147.7L613.2 150.4M659.9 153.6L660.5 153.9M663.6 152.6L664.2 151.0" stroke="#e6735a" stroke-width="1.4"/><path d="M101.1 153.9L101.7 159.0M132.8 150.1L133.4 155.9M185.8 156.6L186.4 157.7M193.9 149.5L194.5 150.5M246.1 147.2L246.7 139.7M274.9 143.8L275.5 172.4M275.3 148.0L275.9 155.7M276.6 150.5L277.2 137.8M326.0 152.4L326.6 139.6M336.0 159.6L336.6 144.6M381.7 158.4L382.3 154.5M616.3 155.7L616.9 156.8M627.3 153.5L627.9 156.8" stroke="#e7d6cd" stroke-width="1.4"/><path d="M67.0 149.2L67.6 147.8M155.0 160.2L155.6 164.8M179.3 152.4L179.9 171.9M185.5 156.3L186.1 156.7M216.7 149.3L217.3 160.7M336.8 142.8L337.4 124.6M509.0 154.9L509.6 147.8M512.1 154.2L512.7 162.0M565.0 158.6L565.6 151.4M646.1 154.6L646.7 145.1M651.8 155.9L652.4 162.9M661.1 151.3L661.7 145.0" stroke="#ee866a" stroke-width="1.4"/><path d="M56.9 150.1L57.5 157.7M66.4 155.1L67.0 159.9M118.8 153.8L119.4 153.6M260.2 148.8L260.8 155.7M295.0 156.0L295.6 149.0M310.5 159.9L311.1 153.7M335.7 157.8L336.3 130.4M460.6 150.5L461.2 156.0M577.3 149.1L577.9 141.5" stroke="#efcebd" stroke-width="1.4"/><path d="M42.6 161.5L43.2 153.6M65.2 157.8L65.8 150.9M91.8 153.4L92.4 153.7M94.4 147.9L95.0 161.5M154.3 151.4L154.9 149.4M159.8 149.7L160.4 151.0M179.8 149.9L180.4 152.3M210.7 158.4L211.3 151.0M264.9 152.6L265.5 161.7M370.0 153.5L370.6 150.6M384.9 153.5L385.5 145.9M407.5 153.2L408.1 138.5M414.7 151.0L415.3 166.4M526.2 149.5L526.8 147.2M545.1 149.6L545.7 173.2M564.1 151.0L564.7 151.1M570.0 150.6L570.6 151.1M578.3 154.8L578.9 156.8M589.6 155.9L590.2 150.4M622.6 156.1L623.2 150.7M639.8 151.2L640.4 149.1M648.1 152.2L648.7 161.0M663.1 154.0L663.7 148.5M176.6 152.3L176.9 182.0M214.0 152.3L214.3 180.0M342.0 152.0L342.3 129.7" stroke="#f4987a" stroke-width="1.4"/><path d="M116.8 154.8L117.4 144.5M178.6 150.1L179.2 147.6M180.7 153.7L181.3 151.0M227.9 156.7L228.5 138.0M306.4 148.3L307.0 162.8M379.3 154.6L379.9 149.2M397.1 151.8L397.7 137.6M403.8 157.8L404.4 155.1M435.3 156.0L435.9 158.2M483.5 146.0L484.1 140.8M593.7 155.3L594.3 163.7" stroke="#f5c4ac" stroke-width="1.4"/><path d="M60.3 152.9L60.9 168.8M70.0 144.6L70.6 149.4M88.0 149.2L88.6 162.7M96.5 159.1L97.1 153.1M115.8 158.6L116.4 150.1M149.2 154.2L149.8 155.2M163.5 152.1L164.1 152.5M164.7 154.6L165.3 155.8M240.2 151.7L240.8 159.7M241.2 157.8L241.8 149.0M242.1 149.1L242.7 149.4M248.6 156.7L249.2 172.5M270.5 159.1L271.1 143.6M278.2 151.3L278.8 144.9M283.9 152.4L284.5 174.0M292.8 149.3L293.4 137.7M305.1 153.7L305.7 150.8M312.1 157.1L312.7 170.6M316.5 158.3L317.1 170.0M395.3 156.0L395.9 149.2M402.6 143.2L403.2 152.2M431.4 159.8L432.0 143.2M436.0 152.1L436.6 165.3M448.8 148.6L449.4 158.0M450.1 151.4L450.7 164.3M511.7 154.3L512.3 150.5M524.7 154.5L525.3 150.9M580.7 161.1L581.3 167.8" stroke="#f6a88b" stroke-width="1.4"/><path d="M126.8 153.0L127.4 162.6M184.0 153.2L184.6 157.6M203.7 149.9L204.3 154.7M286.2 146.5L286.8 151.4M289.7 158.6L290.3 151.0M310.8 159.5L311.4 151.5M337.1 149.7L337.7 147.7M407.2 162.5L407.8 139.5M426.0 156.4L426.6 138.5M426.7 152.5L427.3 157.3M469.3 163.5L469.9 142.1M575.3 152.9L575.9 151.0M586.9 153.2L587.5 140.8M588.7 159.5L589.3 151.3M608.4 149.6L609.0 163.0M610.4 152.9L611.0 162.1" stroke="#f6b79b" stroke-width="1.4"/><path d="M61.0 155.2L61.6 148.7M69.1 151.1L69.7 155.7M78.8 154.3L79.4 156.9M93.7 155.3L94.3 157.6M101.7 154.4L102.3 152.9M106.0 155.2L106.6 152.3M123.5 152.2L124.1 159.8M124.6 153.6L125.2 160.7M153.2 154.0L153.8 153.8M160.2 156.6L160.8 164.0M169.9 153.3L170.5 158.3M208.2 154.3L208.8 152.8M220.1 153.4L220.7 146.5M222.6 151.7L223.2 152.1M225.5 155.6L226.1 155.8M229.0 153.8L229.6 154.7M229.8 153.5L230.4 150.4M277.0 150.0L277.6 155.1M280.8 151.9L281.4 157.6M284.7 151.7L285.3 151.5M293.9 141.6L294.5 137.2M294.0 150.9L294.6 160.6M298.4 157.1L299.0 149.7M303.9 154.1L304.5 163.1M313.5 153.1L314.1 159.8M326.2 142.2L326.8 152.8M328.7 152.0L329.3 164.7M333.4 157.9L334.0 171.0M358.7 150.9L359.3 144.1M366.0 153.6L366.6 152.2M375.7 149.7L376.3 146.2M376.6 154.8L377.2 146.8M387.1 153.0L387.7 154.4M393.2 149.4L393.8 154.9M400.5 155.7L401.1 149.8M416.2 158.5L416.8 164.6M424.4 154.1L425.0 158.2M425.5 151.3L426.1 152.7M427.6 149.8L428.2 153.7M430.9 143.5L431.5 144.7M443.1 150.4L443.7 160.4M443.5 148.1L444.1 147.4M453.2 161.7L453.8 167.9M492.8 161.3L493.4 147.1M500.1 152.5L500.7 165.0M505.2 154.3L505.8 144.4M506.7 157.8L507.3 147.8M510.0 153.8L510.6 154.7M534.3 150.0L534.9 162.5M538.1 158.3L538.7 153.3M557.6 157.0L558.2 158.2M566.0 155.2L566.6 149.0M571.1 155.3L571.7 148.8M583.9 153.1L584.5 155.1M604.7 154.0L605.3 152.7M631.1 155.6L631.7 154.9M634.3 150.6L634.9 155.6M640.7 155.2L641.3 150.2M647.2 153.3L647.8 154.3M661.8 152.9L662.4 158.4" stroke="#485fd0" stroke-width="1.4"/><path d="M53.3 153.4L53.9 152.5M81.1 153.3L81.7 149.7M87.3 148.8L87.9 153.3M89.1 157.8L89.7 155.1M89.8 159.1L90.4 162.2M90.3 151.2L90.9 154.4M135.1 154.2L135.7 148.0M166.6 159.0L167.2 146.3M170.8 156.2L171.4 155.4M244.9 150.2L245.5 150.9M282.6 157.0L283.2 162.6M298.1 153.0L298.7 162.1M299.8 155.1L300.4 146.5M300.9 155.2L301.5 149.7M302.5 141.3L303.1 148.4M322.5 165.7L323.1 152.9M332.9 152.2L333.5 155.1M357.0 155.6L357.6 151.5M359.0 153.9L359.6 149.3M362.8 150.2L363.4 149.5M385.8 155.5L386.4 165.2M387.7 152.2L388.3 144.2M389.9 159.4L390.5 142.1M390.6 156.2L391.2 145.4M390.8 149.9L391.4 145.5M397.7 151.7L398.3 156.4M400.7 154.8L401.3 153.6M405.8 156.4L406.4 160.8M417.6 150.6L418.2 166.8M419.7 153.9L420.3 156.6M426.1 159.3L426.7 159.2M444.0 157.6L444.6 147.2M465.7 155.6L466.3 164.9M471.2 153.1L471.8 181.2M479.1 155.2L479.7 162.3M507.1 149.8L507.7 148.1M541.8 152.5L542.4 152.1M554.0 147.9L554.6 149.2M559.2 152.8L559.8 142.8M595.7 149.7L596.3 148.0M607.3 151.8L607.9 150.9M609.7 154.5L610.3 154.3M615.6 155.6L616.2 152.4M631.0 154.8L631.6 151.7M653.8 149.4L654.4 147.7" stroke="#5571de" stroke-width="1.4"/><path d="M77.9 156.1L78.5 151.7M79.6 156.8L80.2 150.7M83.3 153.2L83.9 155.1M107.3 154.2L107.9 159.8M110.0 152.9L110.6 154.5M111.8 150.5L112.4 150.4M133.7 154.8L134.3 154.0M134.9 151.2L135.5 156.0M146.4 155.8L147.0 152.7M165.0 150.1L165.6 155.4M171.0 160.1L171.6 155.4M185.3 154.4L185.9 153.0M198.4 151.2L199.0 156.6M204.0 153.8L204.6 159.4M211.0 152.7L211.6 155.9M238.0 153.6L238.6 154.0M247.0 157.2L247.6 153.1M252.0 154.3L252.6 162.7M268.2 153.7L268.8 156.3M289.1 155.1L289.7 158.0M323.1 157.4L323.7 154.1M323.2 162.2L323.8 163.2M344.8 154.7L345.4 153.3M360.4 148.5L361.0 159.3M366.7 151.7L367.3 154.3M367.7 156.1L368.3 156.5M371.2 146.7L371.8 156.5M376.8 153.5L377.4 159.2M382.8 157.8L383.4 144.9M390.5 153.4L391.1 150.2M399.6 152.0L400.2 156.9M406.7 152.5L407.3 157.2M435.0 156.2L435.6 151.5M442.5 153.3L443.1 169.9M466.1 156.6L466.7 169.5M467.9 156.4L468.5 143.7M469.7 156.1L470.3 150.8M473.2 147.6L473.8 159.5M473.9 155.7L474.5 138.7M475.8 152.7L476.4 154.0M498.2 157.0L498.8 147.5M506.4 151.9L507.0 161.8M514.0 149.7L514.6 158.4M524.2 155.9L524.8 152.8M531.3 154.6L531.9 149.9M538.9 151.1L539.5 160.8M543.4 152.8L544.0 161.8M553.5 152.1L554.1 158.6M566.9 158.0L567.5 136.1M582.6 153.8L583.2 154.4M583.3 153.7L583.9 150.5M584.1 154.2L584.7 156.0M602.0 154.4L602.6 153.7M624.9 152.1L625.5 162.6M638.9 155.0L639.5 157.5M645.3 155.6L645.9 148.7M652.3 153.1L652.9 158.7" stroke="#6282ea" stroke-width="1.4"/><path d="M47.2 153.7L47.8 150.7M48.4 152.1L49.0 151.4M52.9 150.9L53.5 154.4M80.6 155.6L81.2 154.5M82.3 155.6L82.9 156.1M83.4 151.6L84.0 154.7M114.3 153.8L114.9 158.0M115.2 157.5L115.8 149.6M116.3 159.5L116.9 164.5M127.3 156.8L127.9 151.7M162.9 153.5L163.5 155.2M165.7 154.8L166.3 160.7M167.5 154.4L168.1 155.2M197.6 152.6L198.2 154.4M206.6 151.2L207.2 152.1M211.8 155.8L212.4 155.6M217.2 156.4L217.8 151.3M226.3 154.2L226.9 152.1M232.6 153.8L233.2 149.9M236.3 150.8L236.9 145.2M258.4 159.3L259.0 147.8M267.4 150.1L268.0 157.4M269.2 150.2L269.8 144.1M273.2 152.5L273.8 161.4M331.3 152.3L331.9 154.6M332.0 156.8L332.6 152.0M338.3 155.8L338.9 157.6M341.6 157.5L342.2 179.3M344.4 161.1L345.0 153.9M349.2 147.0L349.8 155.2M370.3 160.0L370.9 148.4M372.2 161.0L372.8 161.0M405.4 155.0L406.0 144.4M420.2 152.2L420.8 152.0M422.6 147.3L423.2 164.0M434.4 151.5L435.0 143.3M437.1 152.9L437.7 154.7M457.3 150.0L457.9 165.8M466.2 152.8L466.8 167.6M476.4 155.4L477.0 148.2M489.2 158.5L489.8 142.7M491.6 149.9L492.2 161.5M494.1 153.5L494.7 155.5M502.5 155.4L503.1 176.2M511.4 157.8L512.0 159.8M513.4 155.8L514.0 151.6M518.3 148.1L518.9 156.6M526.3 154.2L526.9 150.5M527.6 155.7L528.2 154.5M530.0 154.2L530.6 157.8M537.6 155.3L538.2 156.2M541.6 157.0L542.2 159.3M549.4 151.9L550.0 159.6M582.8 143.8L583.4 156.1M585.7 154.3L586.3 147.7M593.9 153.4L594.5 152.3M638.1 155.7L638.7 152.4M644.1 152.3L644.7 149.1" stroke="#7092f3" stroke-width="1.4"/><path d="M44.7 154.5L45.3 151.6M54.1 153.2L54.7 157.0M61.7 154.2L62.3 163.2M89.2 155.3L89.8 148.8M106.6 153.7L107.2 157.5M108.3 150.2L108.9 157.4M138.3 151.7L138.9 143.2M139.1 153.6L139.7 149.1M141.7 153.0L142.3 149.6M152.4 157.9L153.0 157.2M188.6 145.8L189.2 156.5M195.4 153.1L196.0 159.4M204.3 152.9L204.9 153.2M206.7 155.2L207.3 151.4M212.0 156.2L212.6 156.2M219.1 154.3L219.7 154.6M219.8 155.3L220.4 154.0M227.0 158.6L227.6 157.1M231.9 155.5L232.5 152.1M237.0 156.4L237.6 156.8M253.2 153.2L253.8 152.1M260.3 154.5L260.9 167.9M264.1 157.0L264.7 155.4M274.0 151.9L274.6 133.8M305.5 152.1L306.1 151.6M311.1 156.6L311.7 159.9M323.6 154.4L324.2 156.8M335.1 159.2L335.7 144.7M349.1 154.8L349.7 137.7M378.8 160.0L379.4 153.7M423.8 154.5L424.4 164.9M429.2 156.9L429.8 154.7M444.7 153.9L445.3 168.7M461.3 150.7L461.9 143.0M463.5 153.8L464.1 153.8M464.9 152.9L465.5 155.3M473.4 153.0L474.0 152.6M473.9 153.8L474.5 149.1M483.5 156.2L484.1 150.1M491.9 161.7L492.5 144.2M501.7 140.6L502.3 137.0M512.6 162.8L513.2 139.7M521.4 154.4L522.0 161.4M537.7 154.5L538.3 158.9M546.1 149.4L546.7 149.2M552.9 157.9L553.5 160.9M563.1 153.2L563.7 147.8M567.2 155.9L567.8 142.2M584.9 145.7L585.5 162.0M604.2 151.2L604.8 154.6M614.4 155.4L615.0 152.1M639.2 153.6L639.8 158.1" stroke="#7ea1f9" stroke-width="1.4"/><path d="M60.5 147.6L61.1 146.3M66.6 156.7L67.2 151.5M67.8 151.9L68.4 151.1M99.6 152.4L100.2 146.6M131.4 152.1L132.0 149.7M139.8 154.4L140.4 160.1M140.8 155.0L141.4 151.2M145.1 153.1L145.7 151.0M179.2 153.3L179.8 154.6M200.8 152.1L201.4 154.2M223.9 154.8L224.5 148.5M228.9 153.6L229.5 153.3M256.6 157.0L257.2 154.7M267.9 150.0L268.5 150.6M281.0 151.7L281.6 152.3M291.2 150.9L291.8 156.2M292.0 153.9L292.6 152.2M299.9 145.2L300.5 156.1M324.2 156.1L324.8 161.0M337.6 149.9L338.2 168.5M340.9 158.6L341.5 152.2M344.5 157.8L345.1 148.0M352.8 155.1L353.4 146.6M362.8 150.9L363.4 157.6M364.7 158.9L365.3 157.2M371.5 146.4L372.1 143.6M383.2 150.4L383.8 134.9M393.7 150.3L394.3 152.9M415.9 156.2L416.5 148.0M418.7 155.9L419.3 155.1M428.3 155.9L428.9 157.9M448.5 159.0L449.1 149.3M455.5 153.2L456.1 159.7M455.8 155.0L456.4 146.1M459.9 163.4L460.5 154.1M491.3 156.4L491.9 162.4M497.0 153.9L497.6 159.2M527.2 151.1L527.8 155.6M531.8 147.7L532.4 145.4M547.4 151.8L548.0 151.3M557.0 149.3L557.6 143.6M561.1 152.6L561.7 152.7M564.6 150.7L565.2 150.4M593.2 154.5L593.8 157.7M597.6 156.3L598.2 168.4M621.0 152.9L621.6 154.0M626.8 152.1L627.4 149.3M632.3 152.6L632.9 155.2M646.2 160.8L646.8 146.0M659.8 156.7L660.4 150.9" stroke="#8db0fe" stroke-width="1.4"/><path d="M76.2 154.5L76.8 150.8M108.6 158.0L109.2 153.0M189.4 152.5L190.0 154.4M268.3 156.3L268.9 150.4M494.5 154.7L495.1 159.5M517.0 155.8L517.6 147.1M615.1 153.3L615.7 155.1M642.2 161.4L642.8 153.8M647.6 155.3L648.2 155.1" stroke="#9cbcfe" stroke-width="1.4"/><path d="M54.9 154.1L55.5 144.7M111.4 153.0L112.0 156.2M140.2 156.3L140.8 152.6M150.0 155.1L150.6 158.5M181.2 157.3L181.8 152.4M195.7 162.7L196.3 148.5M338.1 148.8L338.7 140.1M362.3 153.8L362.9 136.1M502.3 154.9L502.9 124.4M550.7 152.2L551.3 152.4" stroke="#aac7fc" stroke-width="1.4"/><path d="M123.9 161.8L124.5 156.3M366.2 153.7L366.8 144.1M438.1 150.6L438.7 157.7M475.3 153.7L475.9 161.8M484.7 152.5L485.3 142.3M591.1 154.1L591.7 162.4M660.6 154.5L661.2 150.8M166.0 156.5L166.3 136.0" stroke="#b40426" stroke-width="1.4"/><path d="M42.8 158.2L43.4 160.0M102.9 155.5L103.5 153.6M114.2 156.9L114.8 146.1M132.4 152.8L133.0 144.0M170.5 159.4L171.1 155.0M191.1 158.3L191.7 156.5M233.1 155.2L233.7 155.8M283.3 151.1L283.9 147.8M368.9 148.9L369.5 144.4M380.9 149.1L381.5 148.5M404.7 145.5L405.3 146.9M430.6 147.2L431.2 172.9M438.9 156.0L439.5 166.1M448.0 146.2L448.6 167.4M481.6 154.8L482.2 152.6M560.2 146.3L560.8 152.2" stroke="#b9d0f9" stroke-width="1.4"/><path d="M71.1 156.5L71.7 169.2M109.7 159.1L110.3 159.2M119.1 151.1L119.7 157.3M133.0 155.4L133.6 155.0M140.5 152.7L141.1 149.4M263.0 155.5L263.6 152.4M277.4 150.1L278.0 158.8M362.0 152.0L362.6 159.2M372.8 156.9L373.4 147.2M389.7 155.8L390.3 149.6M395.8 154.6L396.4 147.4M458.7 160.0L459.3 155.2M578.6 153.8L579.2 145.1M608.8 150.7L609.4 152.8M612.0 153.8L612.6 164.8M649.5 148.6L650.1 146.9M651.1 150.9L651.7 145.4" stroke="#c32931" stroke-width="1.4"/><path d="M93.1 152.5L93.7 167.4M142.0 152.3L142.6 157.4M198.1 157.0L198.7 151.9M252.3 158.9L252.9 158.2M287.5 158.8L288.1 148.1M312.9 156.0L313.5 151.0M343.0 157.6L343.6 151.1M356.8 153.8L357.4 120.2M480.0 160.4L480.6 126.7M581.6 148.9L582.2 161.7M623.8 156.7L624.4 147.6" stroke="#c6d6f1" stroke-width="1.4"/><path d="M177.2 157.4L177.5 133.0M539.7 155.0L540.0 131.3M573.4 156.4L573.7 174.8M657.8 150.4L658.1 179.6" stroke="#ca3b37" stroke-width="1.4"/><path d="M45.3 156.7L45.9 146.8M50.6 151.4L51.2 149.0M61.9 155.9L62.5 168.7M68.8 148.1L69.4 145.8M77.5 153.5L78.1 147.7M95.4 146.4L96.0 158.3M128.1 156.9L128.7 166.2M151.5 156.1L152.1 151.5M203.5 151.9L204.1 162.5M229.6 148.9L230.2 167.1M233.6 153.5L234.2 146.5M242.2 153.0L242.8 147.3M268.8 153.2L269.4 166.9M319.8 160.0L320.4 164.0M321.6 146.0L322.2 165.1M324.9 148.1L325.5 156.7M368.6 150.7L369.2 157.1M438.2 160.9L438.8 170.6M456.5 154.1L457.1 167.6M510.4 157.8L511.0 147.8M539.7 153.8L540.3 171.7M568.5 146.7L569.1 153.1M613.9 154.9L614.5 152.9M649.3 155.8L649.9 147.9" stroke="#d0473e" stroke-width="1.4"/><path d="M50.1 153.5L50.7 161.1M69.2 154.0L69.8 159.5M86.0 149.9L86.6 150.5M98.7 156.9L99.3 154.4M102.1 152.0L102.7 158.0M214.8 153.5L215.4 152.7M255.4 150.8L256.0 157.7M308.9 148.2L309.5 158.2M406.2 156.0L406.8 149.5M522.1 156.7L522.7 156.0M627.0 153.4L627.6 150.3M642.8 152.4L643.4 149.3" stroke="#d2dae7" stroke-width="1.4"/><path d="M59.1 153.9L59.7 155.2M64.2 153.2L64.8 152.9M84.4 150.5L85.0 147.5M105.8 154.4L106.4 152.2M109.6 159.3L110.2 154.2M152.3 156.3L152.9 152.5M156.0 152.9L156.6 154.2M193.1 150.4L193.7 150.0M239.8 163.8L240.4 156.7M258.0 149.3L258.6 164.8M272.7 157.5L273.3 161.7M343.5 148.7L344.1 165.7M394.6 162.7L395.2 164.3M412.5 147.2L413.1 153.5M422.0 143.1L422.6 173.1M425.7 150.4L426.3 143.5M433.1 157.9L433.7 149.9M456.0 158.5L456.6 156.7M472.1 159.0L472.7 149.7M505.8 149.9L506.4 150.7M509.2 150.9L509.8 159.8M524.5 155.4L525.1 142.5M543.8 162.5L544.4 148.8M560.9 157.8L561.5 157.4M598.2 152.8L598.8 168.8M630.4 152.6L631.0 148.4" stroke="#dd5f4b" stroke-width="1.4"/><path d="M51.6 152.1L52.2 150.2M81.6 156.5L82.2 140.1M147.9 150.1L148.5 160.4M174.4 145.2L175.0 177.5M194.9 148.7L195.5 155.1M246.0 152.8L246.6 157.0M256.8 157.1L257.4 151.1M339.1 152.8L339.7 157.7M369.1 159.6L369.7 143.1M408.4 156.2L409.0 150.1M452.0 144.7L452.6 146.3M578.8 153.1L579.4 154.7M630.7 152.8L631.3 155.9M637.3 149.3L637.9 159.7M648.3 155.2L648.9 150.1" stroke="#dddcdc" stroke-width="1.4"/><path d="M121.4 154.1L122.0 152.6M123.8 147.0L124.4 143.6M126.3 153.6L126.9 154.2M207.4 149.1L208.0 157.1M214.7 153.4L215.3 146.4M281.8 148.0L282.4 152.2M288.1 153.6L288.7 147.6M314.2 158.1L314.8 150.9M414.6 158.3L415.2 143.5M425.2 164.9L425.8 175.7M426.8 153.8L427.4 168.5M481.2 152.0L481.8 161.6M484.3 154.5L484.9 145.0M568.2 146.6L568.8 171.3M605.6 152.5L606.2 147.5" stroke="#e6735a" stroke-width="1.4"/><path d="M102.8 154.8L103.4 153.8M126.5 152.2L127.1 154.6M132.0 160.4L132.6 148.4M142.9 150.6L143.5 153.8M234.4 154.9L235.0 155.2M244.5 150.7L245.1 163.2M247.3 147.3L247.9 155.1M258.6 157.4L259.2 158.7M259.2 154.1L259.8 146.6M296.1 160.4L296.7 152.0M312.1 159.0L312.7 152.3M377.7 149.3L378.3 156.8M397.5 152.3L398.1 154.6M398.0 153.8L398.6 155.6M399.1 155.1L399.7 149.8M452.9 158.2L453.5 151.6M580.4 151.8L581.0 149.3M581.4 153.1L582.0 163.8M614.6 149.0L615.2 149.7" stroke="#e7d6cd" stroke-width="1.4"/><path d="M44.4 150.2L45.0 155.3M57.2 155.3L57.8 159.2M78.6 154.3L79.2 148.3M115.3 154.4L115.9 148.6M121.2 154.7L121.8 146.6M130.8 153.0L131.4 162.6M136.1 153.6L136.7 152.1M137.9 157.6L138.5 163.6M156.8 159.5L157.4 147.6M161.1 150.7L161.7 145.5M161.5 151.4L162.1 147.7M162.2 150.6L162.8 154.9M271.8 157.3L272.4 163.7M273.8 154.0L274.4 165.3M341.2 166.7L341.8 139.6M355.9 147.2L356.5 147.6M371.0 151.6L371.6 159.5M419.3 155.0L419.9 160.7M452.3 140.7L452.9 128.7M499.2 158.3L499.8 150.5M510.8 149.8L511.4 147.8M559.6 155.7L560.2 160.3M560.1 148.9L560.7 167.9M595.1 151.7L595.7 140.2M601.8 153.9L602.4 162.6M636.3 154.1L636.9 156.4M650.4 151.8L651.0 157.8" stroke="#ee866a" stroke-width="1.4"/><path d="M52.3 154.4L52.9 159.1M76.5 154.1L77.1 151.5M168.4 155.9L169.0 156.2M187.9 154.6L188.5 150.6M358.0 155.0L358.6 147.4M534.8 155.5L535.4 154.5M540.1 159.6L540.7 162.2M596.3 157.9L596.9 154.0" stroke="#efcebd" stroke-width="1.4"/><path d="M54.4 152.1L55.0 157.8M90.8 156.9L91.4 146.9M119.2 150.4L119.8 149.7M168.8 150.1L169.4 156.1M180.1 147.3L180.7 154.7M186.1 154.8L186.7 149.5M199.2 156.3L199.8 148.5M242.8 151.7L243.4 156.5M256.2 150.4L256.8 160.2M283.8 156.6L284.4 170.1M329.7 150.2L330.3 145.7M330.0 154.0L330.6 157.4M338.0 149.4L338.6 163.0M374.6 149.1L375.2 161.8M376.1 160.0L376.7 168.2M394.2 166.9L394.8 166.8M417.3 163.3L417.9 171.6M537.3 155.6L537.9 157.7M558.6 148.6L559.2 162.5M587.4 156.2L588.0 167.5M603.5 149.2L604.1 145.8M613.6 149.8L614.2 159.6M616.8 150.6L617.4 156.6M642.6 153.4L643.2 180.6M655.5 153.0L656.1 145.6M382.6 153.9L382.9 181.2M462.4 152.6L462.7 124.9" stroke="#f4987a" stroke-width="1.4"/><path d="M78.3 147.2L78.9 145.3M113.9 158.4L114.5 149.0M115.6 149.5L116.2 153.5M151.1 156.4L151.7 155.2M153.7 158.5L154.3 149.8M200.7 152.7L201.3 149.4M235.3 155.4L235.9 152.9M249.7 163.0L250.3 154.6M250.4 156.0L251.0 157.6M266.0 157.1L266.6 154.4M266.9 148.5L267.5 146.4M350.4 146.8L351.0 144.6M437.2 149.4L437.8 158.7M517.7 150.1L518.3 151.7M509.2 148.3L509.5 165.0" stroke="#f5c4ac" stroke-width="1.4"/><path d="M241.6 160.5L242.2 141.6M280.4 152.6L281.0 145.5M282.9 152.8L283.5 153.8M298.1 158.7L298.7 151.9M321.7 144.3L322.3 173.5M322.4 155.7L323.0 153.6M445.5 169.9L446.1 152.9M453.5 156.4L454.1 146.3M471.7 146.0L472.3 149.4M522.5 159.6L523.1 167.7M528.3 150.4L528.9 154.3M549.9 147.1L550.5 170.3M636.1 159.9L636.7 149.8M636.9 154.1L637.5 156.0M662.2 156.5L662.8 153.1" stroke="#f6a88b" stroke-width="1.4"/><path d="M71.6 158.3L72.2 160.9M94.6 152.6L95.2 158.8M102.5 162.6L103.1 151.2M156.6 155.0L157.2 145.3M182.3 157.9L182.9 146.7M198.3 151.6L198.9 147.9M199.7 159.5L200.3 157.7M248.7 161.7L249.3 145.8M275.9 156.1L276.5 148.5M298.6 154.1L299.2 150.8M303.0 181.1L303.6 164.0M320.9 154.3L321.5 147.0M323.0 150.8L323.6 149.4M373.8 158.5L374.4 149.1M434.1 154.2L434.7 171.1M458.6 151.5L459.2 137.2M460.8 151.2L461.4 179.4M468.0 154.1L468.6 142.4M557.4 152.8L558.0 142.7M576.0 159.1L576.6 150.1M583.2 159.9L583.8 149.3M650.7 155.5L651.3 158.0" stroke="#f6b79b" stroke-width="1.4"/><path d="M46.2 152.2L46.8 157.8M64.9 152.5L65.5 142.6M75.9 152.7L76.5 159.1M83.0 150.9L83.6 150.5M86.7 155.0L87.3 154.9M91.1 150.8L91.7 151.8M99.4 157.5L100.0 160.4M110.3 155.0L110.9 149.5M122.2 151.8L122.8 145.5M126.1 152.9L126.7 149.3M133.3 150.9L133.9 156.7M149.7 157.0L150.3 155.7M154.6 147.6L155.2 157.0M158.0 158.0L158.6 163.5M162.7 158.1L163.3 158.3M165.9 155.0L166.5 160.7M170.3 156.6L170.9 155.7M171.3 157.7L171.9 159.5M191.6 152.0L192.2 152.0M208.8 151.4L209.4 151.2M210.1 156.1L210.7 154.6M211.1 154.2L211.7 151.2M218.8 153.5L219.4 148.3M243.9 156.8L244.5 155.7M260.9 156.2L261.5 151.1M261.8 153.7L262.4 158.6M265.3 154.0L265.9 161.9M272.8 155.7L273.4 148.3M286.7 153.8L287.3 151.9M297.8 150.8L298.4 151.5M312.6 153.0L313.2 149.4M317.8 152.0L318.4 146.9M329.1 158.0L329.7 146.6M361.4 152.7L362.0 151.6M411.2 153.8L411.8 147.7M435.6 154.2L436.2 165.0M446.8 152.3L447.4 140.3M449.1 153.9L449.7 162.8M459.6 153.6L460.2 154.6M489.2 154.1L489.8 152.6M497.7 156.3L498.3 170.8M504.8 157.8L505.4 138.6M512.5 158.8L513.1 155.8M527.9 150.1L528.5 155.1M532.6 156.5L533.2 149.6M533.3 151.3L533.9 157.6M542.8 152.9L543.4 150.3M549.8 155.7L550.4 154.1M559.7 149.7L560.3 150.0M589.9 155.2L590.5 149.4M593.4 156.8L594.0 151.8M595.9 156.1L596.5 158.6M596.6 152.6L597.2 151.9M629.3 154.5L629.9 155.1M633.2 152.8L633.8 152.4M648.8 152.1L649.4 152.3M656.0 154.1L656.6 154.7M656.3 153.6L656.9 162.2" stroke="#485fd0" stroke-width="1.4"/><path d="M54.5 151.0L55.1 151.4M57.8 154.2L58.4 158.1M62.3 152.2L62.9 159.0M114.5 153.4L115.1 157.5M137.7 149.7L138.3 145.6M143.3 157.5L143.9 155.3M147.4 152.7L148.0 162.4M158.9 155.6L159.5 151.7M177.1 149.1L177.7 156.8M186.7 152.1L187.3 154.2M199.1 153.3L199.7 149.4M200.2 148.0L200.8 154.5M217.4 154.8L218.0 159.9M221.6 153.5L222.2 157.5M230.7 151.8L231.3 153.8M230.9 152.1L231.5 150.6M238.6 154.0L239.2 168.1M250.1 153.2L250.7 157.4M258.9 153.8L259.5 158.4M264.5 152.6L265.1 158.3M281.4 153.6L282.0 141.7M282.0 153.2L282.6 157.6M285.3 158.2L285.9 164.8M289.9 157.7L290.5 157.8M301.8 149.6L302.4 139.7M303.7 142.7L304.3 151.8M312.4 153.2L313.0 154.8M321.2 161.2L321.8 148.0M343.3 159.5L343.9 162.5M351.6 140.8L352.2 162.2M363.2 149.4L363.8 152.4M370.7 158.2L371.3 161.9M378.0 150.2L378.6 154.1M384.3 154.2L384.9 158.1M396.0 144.0L396.6 150.1M428.4 159.0L429.0 154.3M436.2 153.4L436.8 158.5M454.2 153.3L454.8 154.9M457.7 157.0L458.3 155.5M463.8 150.3L464.4 152.8M472.6 156.6L473.2 154.7M479.5 151.0L480.1 159.1M480.4 157.1L481.0 161.6M501.5 160.5L502.1 143.9M505.5 151.5L506.1 148.6M513.1 153.6L513.7 157.2M521.1 155.7L521.7 156.4M523.1 145.8L523.7 167.5M554.9 153.0L555.5 148.5M562.4 148.8L563.0 147.3M569.6 162.2L570.2 145.7M573.9 143.7L574.5 167.8M574.8 153.5L575.4 155.3M576.8 153.2L577.4 154.4M580.0 157.1L580.6 145.4M601.1 153.1L601.7 147.1M608.7 154.0L609.3 150.4M619.4 151.9L620.0 156.1M628.3 151.4L628.9 149.9M629.5 155.9L630.1 149.0M643.7 156.2L644.3 154.6M661.6 152.7L662.2 152.2" stroke="#5571de" stroke-width="1.4"/><path d="M61.2 153.0L61.8 147.0M61.4 160.4L62.0 151.0M63.8 156.3L64.4 154.3M85.3 151.5L85.9 147.4M117.3 156.9L117.9 157.1M150.6 158.1L151.2 154.3M160.5 157.9L161.1 170.1M167.2 151.5L167.8 158.6M167.8 153.2L168.4 156.6M173.8 150.3L174.4 155.0M190.1 157.6L190.7 162.6M193.5 155.7L194.1 148.3M208.5 154.6L209.1 150.4M209.9 151.9L210.5 154.6M213.7 152.8L214.3 160.5M216.4 156.6L217.0 153.6M222.3 154.3L222.9 154.1M222.8 151.9L223.4 158.0M261.9 152.1L262.5 154.5M293.1 155.4L293.7 141.9M308.4 152.9L309.0 151.9M320.6 138.9L321.2 163.3M332.4 149.4L333.0 168.5M334.8 149.5L335.4 155.4M349.6 152.1L350.2 151.1M354.1 157.5L354.7 168.7M363.7 151.6L364.3 143.8M365.7 151.6L366.3 159.5M372.5 152.3L373.1 152.6M378.4 155.3L379.0 151.8M382.7 147.9L383.3 147.7M392.5 164.0L393.1 156.9M402.0 158.0L402.6 143.4M404.8 160.0L405.4 149.7M406.5 160.5L407.1 163.4M421.2 148.1L421.8 141.9M430.9 159.8L431.5 151.1M432.5 151.8L433.1 154.4M465.1 157.0L465.7 149.5M467.1 156.6L467.7 168.3M474.3 157.2L474.9 155.7M478.6 150.7L479.2 153.5M491.0 153.8L491.6 149.5M492.8 154.8L493.4 146.2M536.6 160.2L537.2 153.0M555.6 151.2L556.2 146.9M583.6 152.9L584.2 145.2M599.3 151.0L599.9 154.2M601.0 153.1L601.6 155.4M618.9 155.4L619.5 154.9M640.1 153.5L640.7 149.6M641.3 150.3L641.9 156.0M644.4 153.7L645.0 150.1" stroke="#6282ea" stroke-width="1.4"/><path d="M52.6 155.5L53.2 153.6M54.9 149.3L55.5 149.7M72.3 154.4L72.9 149.4M84.0 156.3L84.6 152.4M92.2 155.3L92.8 146.5M100.1 155.4L100.7 152.6M116.5 154.4L117.1 154.4M117.9 152.3L118.5 146.9M122.8 149.8L123.4 150.1M130.0 154.4L130.6 145.7M138.6 156.6L139.2 154.7M146.0 153.5L146.6 162.5M164.3 152.9L164.9 145.8M175.5 152.1L176.1 148.2M176.8 160.8L177.4 160.2M199.6 148.6L200.2 149.7M205.7 151.3L206.3 155.1M216.9 153.3L217.5 145.6M253.4 152.8L254.0 148.8M264.3 149.8L264.9 157.3M266.5 156.5L267.1 148.7M296.7 158.1L297.3 153.2M321.0 151.9L321.6 143.9M342.2 147.9L342.8 157.9M346.5 165.2L347.1 155.9M352.4 155.6L353.0 162.4M366.8 152.1L367.4 155.2M376.0 154.9L376.6 168.3M386.8 151.5L387.4 159.3M390.2 156.2L390.8 151.6M400.9 157.4L401.5 157.1M410.5 154.6L411.1 156.4M411.8 149.3L412.4 159.3M429.8 146.0L430.4 139.0M462.4 157.6L463.0 141.9M462.8 147.0L463.4 152.6M470.0 173.5L470.6 164.3M477.3 163.9L477.9 160.4M480.9 148.9L481.5 172.7M483.2 151.5L483.8 156.0M485.3 151.6L485.9 167.4M491.0 158.3L491.6 159.1M493.8 153.4L494.4 166.6M496.3 151.4L496.9 142.0M505.5 153.4L506.1 149.6M533.8 149.1L534.4 155.1M534.7 149.6L535.3 150.2M536.4 151.4L537.0 144.2M538.2 159.8L538.8 158.4M543.2 153.2L543.8 138.4M548.4 154.8L549.0 153.2M548.6 152.3L549.2 155.7M551.0 154.1L551.6 160.9M552.2 158.0L552.8 143.6M559.0 146.8L559.6 140.2M564.4 154.9L565.0 147.6M566.8 159.9L567.4 147.9M577.1 154.2L577.7 151.9M584.2 152.6L584.8 153.5M591.6 150.8L592.2 155.0M598.4 153.6L599.0 152.9M606.8 150.0L607.4 157.1M641.0 154.6L641.6 161.9M654.8 153.1L655.4 154.4" stroke="#7092f3" stroke-width="1.4"/><path d="M62.5 150.0L63.1 167.6M73.3 153.8L73.9 157.0M81.0 153.6L81.6 160.9M85.0 153.8L85.6 154.1M93.3 154.9L93.9 162.8M103.1 154.9L103.7 155.1M119.7 152.9L120.3 157.0M120.3 151.6L120.9 145.3M137.5 156.2L138.1 152.3M139.5 155.1L140.1 150.7M178.1 158.3L178.7 148.1M196.5 152.7L197.1 152.9M202.1 152.4L202.7 154.8M202.7 155.0L203.3 155.6M213.4 154.3L214.0 155.5M225.2 149.9L225.8 153.5M231.1 154.9L231.7 153.4M246.6 152.2L247.2 165.7M267.8 153.4L268.4 167.4M272.1 154.6L272.7 150.5M278.1 153.2L278.7 155.4M284.3 150.1L284.9 160.7M317.2 149.8L317.8 147.6M328.0 153.2L328.6 150.2M334.5 153.7L335.1 165.7M339.7 150.3L340.3 153.7M381.1 151.6L381.7 155.8M382.3 153.2L382.9 144.6M385.2 154.0L385.8 155.7M395.6 150.5L396.2 171.2M402.3 159.3L402.9 155.4M413.6 150.6L414.2 174.2M413.8 152.9L414.4 162.6M414.2 160.1L414.8 150.6M424.6 148.2L425.2 164.2M430.0 151.4L430.6 160.2M435.4 154.9L436.0 149.9M477.0 156.7L477.6 165.2M486.0 154.9L486.6 168.2M489.9 158.0L490.5 151.4M495.3 149.1L495.9 157.1M498.5 145.5L499.1 140.3M534.1 150.3L534.7 149.7M579.3 158.4L579.9 146.3M579.8 152.2L580.4 149.2M581.7 155.4L582.3 152.4M609.4 152.9L610.0 150.6M643.4 153.1L644.0 145.8M663.9 154.8L664.5 156.7" stroke="#7ea1f9" stroke-width="1.4"/><path d="M47.6 147.2L48.2 147.8M56.1 152.3L56.7 148.1M71.4 155.6L72.0 153.7M79.9 151.4L80.5 159.6M83.7 151.8L84.3 152.1M97.3 154.7L97.9 158.7M100.7 151.2L101.3 158.2M105.1 151.5L105.7 153.1M115.0 156.0L115.6 148.1M131.6 155.8L132.2 157.7M134.0 155.7L134.6 148.6M143.6 155.6L144.2 147.9M150.8 155.4L151.4 157.3M165.2 153.9L165.8 153.5M182.1 156.4L182.7 159.1M194.0 156.1L194.6 152.2M196.8 152.0L197.4 154.2M218.4 152.5L219.0 150.2M245.0 153.5L245.6 158.1M260.7 155.0L261.3 157.4M265.9 150.7L266.5 147.1M274.6 147.5L275.2 157.7M279.4 153.7L280.0 158.9M288.4 159.4L289.0 153.1M305.7 155.3L306.3 162.3M325.6 156.4L326.2 154.8M358.5 154.4L359.1 145.2M363.4 153.8L364.0 138.8M393.0 154.2L393.6 156.6M408.0 159.4L408.6 152.9M411.6 154.7L412.2 158.3M412.8 151.7L413.4 158.7M427.6 149.9L428.2 154.1M432.2 161.7L432.8 152.5M432.8 153.5L433.4 151.9M445.3 155.0L445.9 145.7M459.1 154.9L459.7 149.5M463.2 152.8L463.8 154.3M467.5 158.7L468.1 160.2M472.4 157.6L473.0 157.3M503.1 163.9L503.7 149.5M508.0 157.8L508.6 147.8M516.2 158.1L516.8 139.0M519.4 145.6L520.0 163.2M558.0 154.0L558.6 155.5M568.8 158.3L569.4 158.7M573.3 160.1L573.9 148.5M573.4 152.1L574.0 146.3M575.8 149.1L576.4 152.0M577.8 156.6L578.4 162.0M588.2 153.2L588.8 147.2M633.6 154.8L634.2 145.0M638.0 153.2L638.6 160.7M643.8 151.8L644.4 156.0M650.0 153.8L650.6 151.8M651.5 150.2L652.1 147.7M657.7 157.1L658.3 158.4" stroke="#8db0fe" stroke-width="1.4"/><path d="M72.9 156.3L73.5 153.3M189.1 150.4L189.7 140.0M201.8 155.0L202.4 154.3M224.7 155.6L225.3 151.7M255.8 151.7L256.4 153.9M271.4 156.3L272.0 151.8M302.1 144.1L302.7 156.4M326.5 139.5L327.1 144.7M333.7 159.7L334.3 170.3M587.9 151.6L588.5 154.5M653.6 156.5L654.2 160.8" stroke="#9cbcfe" stroke-width="1.4"/><path d="M557.4 148.8L557.7 129.7" stroke="#a3c2fe" stroke-width="1.4"/><path d="M63.1 148.7L63.7 161.0M64.7 154.4L65.3 143.1M88.6 156.6L89.2 155.3M117.6 152.9L118.2 159.4M172.5 153.9L173.1 145.5M190.6 152.6L191.2 168.0M212.3 152.7L212.9 149.9M293.2 158.1L293.8 136.7M404.3 155.1L404.9 158.6M418.0 156.4L418.6 148.1M461.2 153.5L461.8 166.7M520.9 158.0L521.5 159.7M546.3 161.9L546.9 145.7M547.7 155.4L548.3 165.5" stroke="#aac7fc" stroke-width="1.4"/><path d="M89.5 147.3L90.1 164.7M159.1 150.2L159.7 147.3M176.5 145.3L177.1 159.7M181.0 154.2L181.6 148.4M232.8 158.8L233.4 160.5M250.6 157.2L251.2 146.7M251.5 157.8L252.1 161.3M253.9 152.6L254.5 146.3M256.0 153.5L256.6 143.1M492.1 146.1L492.7 165.2M519.1 145.3L519.7 150.9M530.5 158.9L531.1 161.4M656.7 154.7L657.3 166.2M314.3 156.3L314.6 129.7" stroke="#b40426" stroke-width="1.4"/><path d="M53.6 155.1L54.2 157.1M72.8 152.0L73.4 164.5M223.1 153.8L223.7 150.2M315.4 159.3L316.0 162.6M409.8 153.5L410.4 152.9M498.0 146.9L498.6 148.3M620.5 154.2L621.1 150.9M660.2 153.5L660.8 154.8" stroke="#b9d0f9" stroke-width="1.4"/><path d="M56.7 162.9L57.3 138.4M95.2 149.4L95.8 144.6M128.6 152.9L129.2 151.5M128.8 152.8L129.4 158.6M130.4 151.2L131.0 173.9M172.1 161.8L172.7 159.3M176.3 155.8L176.9 154.9M221.0 153.2L221.6 155.4M243.1 159.1L243.7 139.7M257.3 156.2L257.9 142.9M288.6 147.3L289.2 157.2M316.6 149.2L317.2 160.6M347.4 163.0L348.0 155.2M399.1 157.9L399.7 163.3M458.1 154.4L458.7 157.0M482.0 148.7L482.6 156.2M516.1 152.5L516.7 168.0M522.3 158.5L522.9 156.2M531.1 150.1L531.7 157.0M572.0 150.9L572.6 147.2M574.2 157.7L574.8 152.0M602.8 150.8L603.4 161.4M648.5 161.0L649.1 159.2" stroke="#c32931" stroke-width="1.4"/><path d="M107.9 152.8L108.5 159.7M111.3 154.0L111.9 151.4M125.0 149.6L125.6 164.4M196.1 154.3L196.7 154.5M215.9 152.5L216.5 150.0M295.3 152.7L295.9 147.5M297.0 151.8L297.6 157.5M306.4 141.6L307.0 151.1M317.0 154.0L317.6 159.4M320.2 147.6L320.8 164.8M357.4 155.3L358.0 164.7M436.5 152.4L437.1 139.0M555.9 152.9L556.5 163.4M585.2 154.6L585.8 152.4" stroke="#c6d6f1" stroke-width="1.4"/><path d="M57.5 156.8L57.8 171.6M91.0 148.5L91.3 173.0M335.9 152.9L336.2 110.0M387.4 154.9L387.7 123.3M452.0 149.8L452.3 123.3M567.0 151.8L567.3 133.0" stroke="#ca3b37" stroke-width="1.4"/><path d="M58.8 149.1L59.4 162.1M307.5 152.9L308.1 149.1M311.3 162.5L311.9 160.2M314.6 148.6L315.2 157.6M319.3 151.2L319.9 170.5M358.2 147.3L358.8 148.8M428.0 152.4L428.6 161.0M468.9 152.9L469.5 165.2M487.7 164.7L488.3 144.3M565.5 154.6L566.1 156.2M599.1 153.0L599.7 162.1M626.0 156.3L626.6 144.6" stroke="#d0473e" stroke-width="1.4"/><path d="M287.9 157.5L288.5 168.0M319.5 147.4L320.1 166.0M408.2 153.4L408.8 136.1M441.1 155.1L441.7 150.0M652.9 153.1L653.5 150.8" stroke="#d2dae7" stroke-width="1.4"/><path d="M46.4 151.3L47.0 161.8M87.8 147.6L88.4 160.5M149.1 153.6L149.7 142.4M230.4 150.7L231.0 143.8M326.7 165.4L327.3 143.4M354.8 163.7L355.4 145.8M368.0 154.2L368.6 144.7M481.8 148.9L482.4 150.5M486.8 154.8L487.4 150.9M488.6 147.3L489.2 146.0M497.0 154.2L497.6 164.0M515.3 149.8L515.9 148.0M535.2 156.7L535.8 145.5M536.9 155.0L537.5 154.0M578.3 150.5L578.9 178.0M592.8 155.1L593.4 167.6" stroke="#dd5f4b" stroke-width="1.4"/><path d="M160.6 147.9L161.2 143.7M314.0 159.9L314.6 160.1M360.1 164.8L360.7 143.4M461.7 158.6L462.3 151.7M501.1 161.7L501.7 174.2M518.1 148.0L518.7 152.8" stroke="#dddcdc" stroke-width="1.4"/><path d="M73.9 155.4L74.5 160.7M184.5 154.4L185.1 154.7M215.0 152.6L215.6 163.8M236.8 155.6L237.4 145.4M254.2 149.9L254.8 144.9M285.9 159.6L286.5 155.2M304.6 144.1L305.2 145.5M394.9 153.2L395.5 149.6M397.0 156.4L397.6 126.4M420.0 147.7L420.6 150.2M490.2 152.0L490.8 142.4M521.8 158.9L522.4 164.7M529.1 148.3L529.7 126.2M605.3 157.7L605.9 151.2M619.9 153.0L620.5 147.5M630.2 155.6L630.8 165.5" stroke="#e6735a" stroke-width="1.4"/><path d="M133.5 153.0L134.1 152.4M136.9 154.3L137.5 140.5M172.0 149.0L172.6 156.2M308.2 147.6L308.8 150.4M365.4 154.2L366.0 148.5M480.5 158.7L481.1 156.6M592.0 152.2L592.6 154.7M611.1 158.6L611.7 147.0M623.0 156.2L623.6 160.1M647.8 153.8L648.4 156.2" stroke="#e7d6cd" stroke-width="1.4"/><path d="M122.0 155.6L122.6 152.1M144.9 154.1L145.5 145.3M155.6 160.2L156.2 165.8M160.0 146.9L160.6 161.4M163.3 161.4L163.9 145.8M187.2 155.9L187.8 153.4M275.5 153.5L276.1 142.5M280.1 148.6L280.7 152.7M345.9 149.6L346.5 142.6M373.5 151.6L374.1 158.5M379.5 155.1L380.1 147.5M396.5 163.0L397.1 157.6M409.6 157.8L410.2 155.9M428.6 143.3L429.2 147.3M470.5 145.2L471.1 167.5M515.5 149.6L516.1 162.0M523.9 148.7L524.5 168.2M545.4 159.6L546.0 130.1" stroke="#ee866a" stroke-width="1.4"/><path d="M170.2 156.7L170.8 156.6M196.2 148.1L196.8 158.6M208.5 154.8L209.1 150.4M325.3 149.9L325.9 162.3M329.4 154.6L330.0 162.5M335.4 147.8L336.0 153.0M353.7 137.8L354.3 165.1M400.2 157.0L400.8 146.9M401.5 153.8L402.1 156.3M401.8 150.2L402.4 166.3M438.6 154.8L439.2 162.1M519.8 173.5L520.4 154.0M538.8 157.6L539.4 153.1M542.3 164.0L542.9 156.0M544.5 161.9L545.1 150.5M554.7 144.3L555.3 167.2M566.2 160.9L566.8 148.7M609.2 154.5L609.8 154.8M623.4 153.6L624.0 141.6" stroke="#efcebd" stroke-width="1.4"/><path d="M98.5 147.8L99.1 141.2M147.2 152.3L147.8 169.9M182.0 154.4L182.6 151.3M240.7 157.4L241.3 158.7M325.4 154.7L326.0 145.4M334.2 153.0L334.8 169.7M341.5 161.1L342.1 153.0M354.0 148.7L354.6 158.5M420.5 161.1L421.1 149.9M447.4 148.8L448.0 156.6M493.6 162.3L494.2 163.2M504.0 156.8L504.6 149.7M526.8 154.7L527.4 142.1M581.0 158.7L581.6 148.7M598.9 153.9L599.5 151.6M612.3 153.9L612.9 146.6M616.0 149.5L616.6 154.4M646.5 156.7L647.1 156.6" stroke="#f4987a" stroke-width="1.4"/><path d="M56.4 147.7L57.0 161.5M96.8 157.5L97.4 140.2M230.2 152.9L230.8 141.6M357.9 154.3L358.5 151.8M380.4 150.5L381.0 159.2M431.5 151.1L432.1 169.6M447.7 154.6L448.3 178.7M476.1 152.1L476.7 155.4M479.2 151.3L479.8 151.4M525.5 156.8L526.1 162.4M509.0 155.2L509.3 119.0" stroke="#f5c4ac" stroke-width="1.4"/><path d="M55.6 152.6L56.2 151.0M141.6 154.4L142.2 154.7M144.2 153.9L144.8 168.1M165.3 153.0L165.9 169.1M173.8 150.1L174.4 156.4M197.7 150.8L198.3 152.3M218.9 155.1L219.5 145.7M261.1 153.4L261.7 151.2M265.6 154.4L266.2 163.3M374.4 152.5L375.0 161.7M395.1 157.4L395.7 174.6M403.3 151.0L403.9 155.9M422.8 155.5L423.4 139.9M441.0 144.4L441.6 178.7M456.2 158.0L456.8 151.4M570.7 154.4L571.3 158.6M602.6 157.2L603.2 164.5M610.6 149.5L611.2 145.0M634.6 155.0L635.2 155.3M638.6 156.8L639.2 146.5M644.8 155.2L645.4 153.5M650.2 155.8L650.8 159.2M653.4 153.5L654.0 155.8" stroke="#f6a88b" stroke-width="1.4"/><path d="M57.3 153.0L57.9 157.9M113.0 152.6L113.6 146.5M118.6 159.6L119.2 156.2M159.5 151.2L160.1 153.7M307.9 153.7L308.5 154.3M318.3 162.2L318.9 146.6M357.6 150.4L358.2 161.1M511.0 149.8L511.6 159.8M554.4 153.7L555.0 158.5M571.0 160.7L571.6 153.8M590.8 160.3L591.4 159.5M605.8 153.6L606.4 150.2M621.7 150.8L622.3 150.7" stroke="#f6b79b" stroke-width="1.4"/><path d="M48.8 153.9L49.4 149.7M57.7 150.1L58.3 155.8M59.9 153.8L60.5 153.5M65.6 154.7L66.2 153.5M98.0 150.8L98.6 162.4M99.8 152.5L100.4 151.0M103.6 156.5L104.2 147.3M145.7 153.9L146.3 150.1M157.4 150.0L158.0 157.8M167.7 148.2L168.3 159.5M179.6 150.7L180.2 149.4M185.1 157.8L185.7 152.1M187.5 154.4L188.1 155.1M188.1 156.1L188.7 148.8M192.6 154.0L193.2 151.0M214.1 154.5L214.7 150.9M215.3 154.2L215.9 154.1M221.8 154.5L222.4 147.6M224.8 154.8L225.4 145.6M228.5 152.9L229.1 152.8M233.2 156.4L233.8 157.0M243.5 152.1L244.1 153.0M245.3 149.6L245.9 145.5M271.1 153.5L271.7 154.3M297.5 154.3L298.1 157.6M305.2 154.7L305.8 171.4M322.2 147.3L322.8 158.2M340.3 149.9L340.9 168.3M356.5 154.7L357.1 167.4M361.0 155.2L361.6 151.4M364.5 160.5L365.1 143.2M370.5 154.8L371.1 145.0M392.1 155.6L392.7 150.9M406.0 153.8L406.6 145.5M412.1 160.0L412.7 160.2M415.2 154.2L415.8 161.7M432.7 150.8L433.3 164.5M433.9 154.5L434.5 150.7M450.6 156.8L451.2 178.8M470.6 157.7L471.2 153.2M482.9 151.9L483.5 152.6M506.9 149.8L507.5 159.8M514.8 153.1L515.4 164.7M528.5 157.9L529.1 153.8M547.8 157.8L548.4 144.7M548.2 152.7L548.8 144.9M558.7 149.3L559.3 152.9M562.9 157.5L563.5 149.0M566.4 152.4L567.0 142.9M586.4 152.1L587.0 148.4M597.8 156.9L598.4 154.3M617.5 153.9L618.1 147.8" stroke="#485fd0" stroke-width="1.4"/><path d="M55.9 154.1L56.5 148.3M58.2 153.4L58.8 157.5M70.3 158.8L70.9 157.9M80.3 153.2L80.9 154.9M110.4 156.0L111.0 152.5M123.3 155.8L123.9 155.9M130.1 151.6L130.7 148.0M148.4 155.6L149.0 158.6M166.8 151.1L167.4 146.4M168.3 154.2L168.9 154.4M191.4 154.5L192.0 153.9M204.8 154.1L205.4 154.4M209.8 154.0L210.4 148.1M222.2 152.1L222.8 154.6M234.8 156.3L235.4 156.3M235.9 153.1L236.5 153.6M244.4 151.9L245.0 155.5M248.2 155.3L248.8 155.4M279.1 152.7L279.7 161.6M287.3 152.6L287.9 153.8M288.8 149.2L289.4 152.3M294.6 154.5L295.2 147.1M307.0 152.8L307.6 154.8M327.0 155.3L327.6 149.8M330.5 153.7L331.1 147.7M350.5 145.7L351.1 144.2M360.9 152.0L361.5 158.9M393.6 150.5L394.2 154.0M403.5 151.0L404.1 152.9M441.5 148.3L442.1 160.0M442.1 156.6L442.7 163.0M442.8 153.3L443.4 153.5M446.6 148.0L447.2 157.2M447.2 141.9L447.8 168.7M471.5 155.8L472.1 139.8M544.8 156.5L545.4 158.3M575.1 158.2L575.7 153.9M582.0 159.0L582.6 150.6M594.7 156.0L595.3 150.7M600.7 151.9L601.3 156.4M617.3 154.5L617.9 154.1M620.8 151.7L621.4 151.9M621.3 154.8L621.9 156.2M632.1 154.5L632.7 156.4M632.7 155.9L633.3 154.0M633.0 152.0L633.6 152.7M635.3 150.2L635.9 148.1M635.7 151.2L636.3 152.6M639.5 152.5L640.1 156.7M645.9 155.7L646.5 148.2M655.1 156.3L655.7 157.3M655.3 152.3L655.9 157.9M659.1 152.7L659.7 152.7" stroke="#5571de" stroke-width="1.4"/><path d="M47.2 155.0L47.8 155.5M74.8 154.3L75.4 146.8M75.4 152.3L76.0 155.0M92.9 151.3L93.5 159.1M93.8 152.3L94.4 160.1M98.2 156.1L98.8 147.5M100.9 153.4L101.5 157.7M101.5 151.9L102.1 159.6M106.8 153.3L107.4 154.1M111.0 151.6L111.6 158.1M122.5 155.2L123.1 156.5M134.6 155.3L135.2 151.3M135.4 159.9L136.0 144.6M143.9 150.0L144.5 151.2M180.4 152.6L181.0 165.1M184.2 152.2L184.8 155.6M239.1 159.4L239.7 140.8M240.0 147.8L240.6 151.8M243.4 152.9L244.0 153.9M246.4 157.1L247.0 149.8M257.5 155.6L258.1 147.5M262.4 152.3L263.0 155.7M273.5 154.4L274.1 152.7M300.5 142.9L301.1 149.6M301.4 155.8L302.0 142.5M309.2 148.0L309.8 152.7M309.6 153.9L310.2 146.0M382.2 155.5L382.8 154.0M383.9 155.4L384.5 158.6M386.5 159.3L387.1 154.6M396.4 146.9L397.0 161.8M398.7 150.7L399.3 157.9M399.5 151.1L400.1 162.3M433.4 153.0L434.0 157.6M449.7 138.5L450.3 155.4M450.5 152.9L451.1 166.5M458.4 149.6L459.0 162.9M463.6 152.0L464.2 164.4M468.6 144.9L469.2 169.1M485.2 152.0L485.8 161.8M486.5 155.8L487.1 150.6M503.6 150.3L504.2 139.2M520.0 151.2L520.6 177.4M531.5 151.3L532.1 149.0M547.2 158.1L547.8 156.7M557.1 153.8L557.7 154.2M572.2 150.2L572.8 153.3M572.4 152.9L573.0 154.6M572.9 145.8L573.5 150.2M586.6 158.8L587.2 148.4M611.5 155.1L612.1 147.9M661.3 153.0L661.9 156.9M663.4 155.1L664.0 156.1" stroke="#6282ea" stroke-width="1.4"/><path d="M47.9 153.8L48.5 152.5M63.7 151.2L64.3 146.8M65.3 153.2L65.9 150.4M70.6 154.4L71.2 154.2M73.2 153.5L73.8 156.7M88.5 147.9L89.1 162.8M103.9 152.9L104.5 153.4M110.7 154.3L111.3 152.1M136.4 154.4L137.0 159.9M142.7 151.9L143.3 163.0M143.1 149.9L143.7 152.2M183.3 153.6L183.9 156.9M186.4 150.4L187.0 152.2M207.1 153.9L207.7 146.5M214.2 154.2L214.8 154.9M218.1 153.1L218.7 151.3M220.8 154.5L221.4 147.7M237.8 156.2L238.4 145.5M240.9 153.7L241.5 148.3M251.3 152.8L251.9 151.9M257.9 148.2L258.5 160.1M259.9 149.9L260.5 153.2M265.1 151.6L265.7 151.1M274.5 153.2L275.1 160.6M295.6 156.8L296.2 151.9M301.7 142.9L302.3 164.2M307.3 151.1L307.9 150.4M313.8 149.7L314.4 148.5M317.4 149.7L318.0 140.6M331.0 163.6L331.6 138.9M336.2 153.1L336.8 156.6M354.4 148.1L355.0 142.6M361.7 153.4L362.3 150.7M365.3 152.7L365.9 171.9M368.1 156.4L368.7 148.7M377.3 153.3L377.9 152.5M380.5 150.2L381.1 162.8M386.2 155.5L386.8 162.6M388.2 154.1L388.8 160.9M391.8 156.6L392.4 146.9M401.4 151.4L402.0 161.8M467.4 158.2L468.0 147.8M477.8 162.3L478.4 154.7M484.2 145.7L484.8 147.7M496.1 155.5L496.7 163.9M512.9 153.6L513.5 157.3M514.2 153.4L514.8 144.5M514.5 154.2L515.1 146.2M518.9 153.5L519.5 152.1M527.4 155.3L528.0 154.0M535.7 153.1L536.3 142.0M545.8 154.8L546.4 160.4M551.1 157.8L551.7 153.0M551.9 152.3L552.5 164.4M558.2 154.2L558.8 159.8M561.5 154.8L562.1 157.0M573.7 157.9L574.3 147.0M590.2 154.3L590.8 156.9M600.4 148.8L601.0 144.9M603.0 152.0L603.6 146.7M604.4 151.5L605.0 153.4M615.4 154.3L616.0 152.4M618.5 151.9L619.1 161.4M619.7 152.4L620.3 156.1M621.9 152.1L622.5 153.1M633.8 153.9L634.4 149.1M646.7 149.5L647.3 152.1" stroke="#7092f3" stroke-width="1.4"/><path d="M53.7 149.8L54.3 150.1M58.4 151.2L59.0 154.5M86.8 151.8L87.4 154.3M87.5 152.5L88.1 158.6M127.1 154.5L127.7 149.5M154.5 148.5L155.1 148.6M162.5 158.3L163.1 155.5M169.1 157.4L169.7 149.9M171.6 148.2L172.2 153.6M182.7 156.1L183.3 154.9M183.0 153.3L183.6 150.5M184.9 154.1L185.5 160.1M198.8 154.4L199.4 150.5M225.8 154.6L226.4 155.3M242.6 153.1L243.2 149.0M281.8 153.4L282.4 152.3M284.6 155.3L285.2 159.0M295.8 161.9L296.4 163.1M308.7 152.2L309.3 138.1M310.9 152.7L311.5 155.4M319.0 157.9L319.6 159.0M330.9 149.7L331.5 149.2M336.4 152.1L337.0 146.3M345.5 156.5L346.1 151.2M371.7 156.1L372.3 157.9M374.9 148.3L375.5 168.5M379.0 160.4L379.6 152.2M386.0 156.3L386.6 158.5M394.2 147.6L394.8 166.7M409.0 151.6L409.6 157.2M427.1 156.4L427.7 144.3M445.1 156.7L445.7 144.9M449.9 144.1L450.5 131.8M459.2 147.4L459.8 161.4M464.2 153.2L464.8 161.8M472.7 161.8L473.3 173.3M474.7 151.9L475.3 156.2M476.7 155.5L477.3 160.4M499.8 140.7L500.4 153.7M523.1 149.9L523.7 154.5M529.3 163.1L529.9 154.7M544.3 157.4L544.9 147.8M552.7 153.0L553.3 148.9M569.2 164.4L569.8 156.7M613.0 153.4L613.6 147.5M615.1 154.3L615.7 150.1M616.9 150.0L617.5 155.0M624.7 152.4L625.3 153.4M649.1 151.3L649.7 154.0M662.6 155.0L663.2 152.2" stroke="#7ea1f9" stroke-width="1.4"/><path d="M45.5 154.4L46.1 150.6M46.8 151.7L47.4 148.6M49.2 154.7L49.8 153.1M49.3 153.9L49.9 159.8M59.7 149.4L60.3 152.9M69.5 157.9L70.1 152.0M76.8 156.9L77.4 155.5M97.1 153.2L97.7 149.0M107.5 156.5L108.1 154.0M121.6 154.9L122.2 156.6M163.8 148.4L164.4 148.1M169.5 152.9L170.1 149.9M192.8 156.5L193.4 143.7M206.1 149.7L206.7 152.2M207.8 157.2L208.4 161.7M229.3 156.5L229.9 149.2M233.4 151.8L234.0 158.6M252.2 157.9L252.8 154.8M254.7 150.7L255.3 154.2M269.7 150.2L270.3 149.9M296.5 150.7L297.1 161.2M302.4 162.8L303.0 150.3M315.7 161.8L316.3 151.4M317.7 145.5L318.3 163.7M327.6 159.8L328.2 138.9M328.6 151.6L329.2 155.7M331.7 157.4L332.3 147.9M333.2 151.3L333.8 156.9M335.2 150.3L335.8 160.2M345.7 157.7L346.3 163.0M374.1 148.0L374.7 152.4M409.4 153.2L410.0 155.5M410.0 154.8L410.6 155.4M444.2 158.8L444.8 147.5M444.7 157.7L445.3 145.3M451.3 147.5L451.9 163.0M478.3 152.6L478.9 149.3M493.3 151.2L493.9 146.6M500.5 159.9L501.1 160.5M504.4 156.2L505.0 165.1M504.7 158.5L505.3 170.5M506.3 151.8L506.9 160.2M509.6 155.2L510.2 149.1M518.6 155.9L519.2 161.5M542.1 157.9L542.7 148.2M545.6 160.2L546.2 157.2M549.0 156.2L549.6 146.5M562.5 153.2L563.1 150.6M607.1 156.7L607.7 150.6M623.1 154.8L623.7 153.5M626.5 151.1L627.1 162.0M634.1 150.4L634.7 145.6M640.6 147.7L641.2 150.6M641.9 152.0L642.5 151.9M651.9 154.5L652.5 146.2M657.8 155.4L658.4 152.9M658.1 154.6L658.7 157.2" stroke="#8db0fe" stroke-width="1.4"/><path d="M141.0 153.5L141.6 152.0M141.3 156.2L141.9 155.2M190.8 155.0L191.4 161.0M286.9 161.5L287.5 160.3M294.9 160.8L295.5 167.2M303.4 162.0L304.0 147.3M430.3 157.5L430.9 141.5M460.2 150.5L460.8 150.7M492.6 153.0L493.2 154.5M503.2 157.6L503.8 164.7M540.7 154.3L541.3 156.5M585.3 154.8L585.9 156.8M589.4 151.7L590.0 147.4M605.1 150.2L605.7 146.8M637.6 153.5L638.2 160.2" stroke="#9cbcfe" stroke-width="1.4"/><path d="M64.3 151.6L64.9 158.1M66.3 154.6L66.9 150.6M152.6 147.1L153.2 158.4M253.8 155.3L254.4 157.4M350.9 150.3L351.5 151.1M440.0 159.3L440.6 169.8M508.3 153.2L508.9 147.8M592.4 157.2L593.0 159.0" stroke="#aac7fc" stroke-width="1.4"/><path d="M43.5 157.2L44.1 159.7M73.6 157.2L74.2 155.3M85.6 151.2L86.2 162.7M106.4 150.5L107.0 150.8M117.8 161.8L118.4 145.7M127.9 159.2L128.5 147.6M188.9 154.2L189.5 134.9M389.1 161.7L389.7 143.6M439.2 165.8L439.8 150.8M571.5 156.4L572.1 135.2M613.5 155.0L614.1 151.5M617.8 153.0L618.4 153.5M623.9 153.9L624.5 140.0" stroke="#b40426" stroke-width="1.4"/><path d="M100.3 155.1L100.9 151.1M195.1 153.3L195.7 144.9M201.4 152.4L202.0 146.7M202.8 157.0L203.4 151.5M219.6 158.2L220.2 158.8M276.3 155.8L276.9 159.9M346.6 146.1L347.2 148.0M349.6 150.5L350.2 157.3M415.4 153.3L416.0 152.7M418.3 158.0L418.9 154.7M477.9 152.5L478.5 163.3M529.5 158.9L530.1 145.3M563.8 150.5L564.4 142.4M591.3 153.8L591.9 161.3M595.5 155.2L596.1 163.8M657.4 154.0L658.0 158.2" stroke="#b9d0f9" stroke-width="1.4"/><path d="M44.3 154.8L44.9 155.2M45.8 148.0L46.4 161.7M91.3 157.9L91.9 153.5M125.6 156.7L126.2 163.4M166.0 151.5L166.6 158.1M211.5 152.0L212.1 141.5M245.7 153.2L246.3 163.9M249.1 162.2L249.7 150.7M316.0 157.7L316.6 177.9M339.8 157.4L340.4 155.5M351.8 155.5L352.4 151.9M375.1 155.1L375.7 170.4M391.1 152.4L391.7 146.5M421.4 162.3L422.0 166.9M439.2 155.1L439.8 158.7M454.4 147.7L455.0 152.9M481.2 152.1L481.8 148.7M486.3 148.6L486.9 151.1M495.7 154.5L496.3 162.2M508.9 157.7L509.5 147.8M561.9 153.6L562.5 144.7M562.0 157.8L562.6 149.5M608.1 157.0L608.7 152.5M613.2 154.2L613.8 156.4M614.3 155.2L614.9 161.7" stroke="#c32931" stroke-width="1.4"/><path d="M161.2 148.9L161.8 166.8M181.6 150.6L182.2 143.2M186.8 155.1L187.4 154.7M371.9 155.4L372.5 172.7M451.6 157.1L452.2 165.1M539.2 159.8L539.8 138.6M618.2 154.5L618.8 152.2" stroke="#c6d6f1" stroke-width="1.4"/><path d="M230.3 155.2L230.6 180.3M281.8 154.7L282.1 124.2M435.0 158.9L435.3 110.0M496.2 156.4L496.5 181.2M403.8 155.6L404.1 180.3M542.9 150.5L543.2 186.0M606.0 154.5L606.3 134.5M509.3 165L509.6 197" stroke="#ca3b37" stroke-width="1.4"/><path d="M72.0 157.7L72.6 162.7M96.2 150.6L96.8 169.3M108.9 153.1L109.5 152.0M129.5 157.7L130.1 145.9M175.3 143.9L175.9 157.2M249.5 143.0L250.1 156.2M301.0 157.9L301.6 149.7M391.3 156.2L391.9 155.7M397.9 158.9L398.5 161.4M451.9 162.7L452.5 155.6M468.4 155.9L469.0 161.8M482.4 151.9L483.0 159.1M544.1 155.0L544.7 152.3M546.9 153.5L547.5 149.1M629.7 154.9L630.3 160.4M659.5 154.6L660.1 161.3" stroke="#d0473e" stroke-width="1.4"/><path d="M112.5 151.6L113.1 149.8M135.9 152.3L136.5 149.3M202.5 148.9L203.1 151.4M231.4 143.7L232.0 153.0M263.8 159.3L264.4 163.2M279.6 153.2L280.2 146.6M355.1 157.5L355.7 132.7M410.4 148.6L411.0 156.5M416.8 159.3L417.4 139.2M448.6 150.8L449.2 160.0M541.0 148.6L541.6 151.1M596.7 159.1L597.3 140.4M611.3 151.3L611.9 156.6" stroke="#d2dae7" stroke-width="1.4"/><path d="M112.2 153.8L112.8 156.0M138.2 157.9L138.8 151.3M192.0 157.1L192.6 148.5M210.4 152.3L211.0 149.1M239.4 156.5L240.0 155.1M266.3 158.1L266.9 163.6M332.1 148.3L332.7 146.6M359.9 150.4L360.5 168.7M379.9 151.8L380.5 151.0M387.3 161.1L387.9 152.6M610.7 145.4L611.3 158.4M625.5 152.4L626.1 150.7M655.9 154.5L656.5 141.3" stroke="#dd5f4b" stroke-width="1.4"/><path d="M65.9 153.3L66.5 164.3M155.9 158.7L156.5 142.4M241.8 151.8L242.4 157.2M315.6 162.4L316.2 157.1M384.3 156.0L384.9 162.9M455.1 149.7L455.7 159.1M497.5 158.4L498.1 161.5M515.0 147.3L515.6 163.0M565.1 153.3L565.7 146.1M565.7 163.3L566.3 145.7M580.4 152.1L581.0 138.9" stroke="#dddcdc" stroke-width="1.4"/><path d="M212.5 153.3L213.1 160.9M223.4 163.1L224.0 142.3M267.2 152.6L267.8 160.7M279.9 158.2L280.5 148.9M324.0 152.1L324.6 151.9M454.6 156.2L455.2 156.2M460.0 143.8L460.6 157.7M477.3 154.0L477.9 161.3M498.6 160.3L499.2 156.5M555.1 148.9L555.7 152.3M599.6 151.0L600.2 161.0M658.6 150.3L659.2 155.7" stroke="#e6735a" stroke-width="1.4"/><path d="M85.8 149.3L86.4 132.4M101.9 150.8L102.5 162.8M352.2 151.0L352.8 145.3M385.5 161.3L386.1 158.7M567.6 146.2L568.2 143.6M652.6 148.4L653.2 159.5M662.8 150.2L663.4 155.7" stroke="#e7d6cd" stroke-width="1.4"/><path d="M52.8 152.9L53.4 155.8M68.4 149.7L69.0 157.4M94.1 153.9L94.7 149.5M105.4 155.6L106.0 154.0M183.5 153.9L184.1 154.1M329.8 151.1L330.4 155.1M342.0 150.5L342.6 132.5M362.5 155.7L363.1 138.4M367.3 154.9L367.9 136.6M384.7 152.6L385.3 144.9M411.0 146.9L411.6 176.4M422.2 157.1L422.8 130.5M536.1 152.9L536.7 161.5M556.2 150.7L556.8 151.6M624.6 157.1L625.2 135.6" stroke="#ee866a" stroke-width="1.4"/><path d="M68.0 153.8L68.6 147.5M74.2 150.7L74.8 153.1M97.4 150.8L98.0 154.2M135.6 152.0L136.2 165.9M217.6 152.8L218.2 150.9M220.6 154.0L221.2 145.8M251.0 156.1L251.6 165.2M262.2 151.5L262.8 155.2M263.5 146.9L264.1 154.2M346.2 155.6L346.8 168.9M387.9 161.9L388.5 154.0M419.4 157.8L420.0 147.9M489.7 153.1L490.3 152.5" stroke="#efcebd" stroke-width="1.4"/><path d="M69.8 153.7L70.4 143.6M82.0 152.3L82.6 146.2M103.5 155.6L104.1 144.8M120.5 154.6L121.1 161.8M175.6 155.9L176.2 181.2M191.9 151.0L192.5 149.4M238.3 152.8L238.9 158.0M291.6 152.6L292.2 172.9M303.2 169.9L303.8 156.9M320.0 166.8L320.6 155.5M333.9 143.1L334.5 161.3M363.9 145.0L364.5 168.6M375.3 156.4L375.9 143.0M378.2 154.5L378.8 153.0M388.0 158.9L388.6 139.6M421.8 147.4L422.4 139.1M437.6 153.2L438.2 153.0M487.5 148.9L488.1 160.2M488.3 156.8L488.9 160.9M494.7 154.5L495.3 141.1M660.7 151.2L661.3 151.9M662.4 154.6L663.0 151.1M170.0 154.6L170.3 181.0M310.1 150.9L310.4 115.2M309.5 151.6L309.8 182.8M526.8 153.2L527.1 189.0M598.0 158.0L598.3 179.6" stroke="#f4987a" stroke-width="1.4"/><path d="M161.9 156.8L162.5 157.3M177.5 153.4L178.1 152.0M269.5 145.9L270.1 155.8M283.5 163.9L284.1 150.8M389.3 156.2L389.9 143.8M516.5 152.5L517.1 157.8M526.7 160.7L527.3 157.6M532.3 155.3L532.9 145.5M563.4 159.1L564.0 156.5M624.4 150.1L625.0 152.5M631.9 152.2L632.5 153.3" stroke="#f5c4ac" stroke-width="1.4"/><path d="M134.3 152.9L134.9 158.8M151.7 160.0L152.3 152.2M197.2 154.0L197.8 153.2M235.1 151.5L235.7 149.7M290.6 154.9L291.2 161.4M311.8 152.7L312.4 158.9M356.3 143.7L356.9 164.9M383.3 160.1L383.9 137.0M416.5 154.0L417.1 156.7M487.3 158.6L487.9 145.1M488.8 156.5L489.4 142.6M504.0 166.8L504.6 149.3M535.5 151.4L536.1 158.4M561.2 152.7L561.8 147.4M591.9 153.3L592.5 156.5M607.6 156.2L608.2 142.8M636.8 153.2L637.4 150.1M653.9 151.8L654.5 168.5" stroke="#f6a88b" stroke-width="1.4"/><path d="M128.3 150.8L128.9 153.3M136.6 146.8L137.2 145.7M151.9 157.8L152.5 147.8M172.4 149.5L173.0 155.1M172.8 155.0L173.4 168.2M178.9 145.1L179.5 142.2M276.6 149.6L277.2 152.6M297.1 154.0L297.7 148.4M330.7 155.6L331.3 135.9M365.1 161.4L365.7 150.6M420.8 152.3L421.4 163.3M439.9 140.8L440.5 157.2M448.3 146.4L448.9 162.0M451.0 157.9L451.6 156.0M507.5 157.8L508.1 147.8M523.6 147.3L524.2 170.9M550.2 156.0L550.8 145.6M592.7 152.7L593.3 166.7M604.6 154.6L605.2 154.8M625.3 156.5L625.9 163.3M640.4 151.1L641.0 143.3M642.4 155.2L643.0 156.8" stroke="#f6b79b" stroke-width="1.4"/><path d="M42.5 149.9 42.9 154.2 43.4 153.5 43.8 154.1 44.3 154.2 44.7 146.4 45.2 146.3 45.6 155.4 46.1 155.0 46.5 151.3 46.9 154.3 47.4 156.3 47.8 148.1 48.3 154.0 48.7 152.6 49.2 152.2 49.6 152.0 50.0 144.8 50.5 154.8 50.9 155.3 51.4 151.3 51.8 153.8 52.3 152.2 52.7 152.7 53.2 155.6 53.6 152.4 54.0 161.6 54.5 155.5 54.9 149.6 55.4 155.6 55.8 157.6 56.3 143.6 56.7 157.5 57.1 150.3 57.6 152.6 58.0 151.7 58.5 145.3 58.9 151.8 59.4 153.6 59.8 152.8 60.3 147.1 60.7 152.9 61.1 153.9 61.6 147.5 62.0 159.6 62.5 154.9 62.9 158.7 63.4 152.7 63.8 155.2 64.3 159.3 64.7 155.6 65.1 153.2 65.6 152.9 66.0 156.3 66.5 154.3 66.9 151.7 67.4 152.0 67.8 156.1 68.2 150.9 68.7 153.8 69.1 155.7 69.6 145.2 70.0 158.6 70.5 152.6 70.9 151.1 71.4 157.5 71.8 153.6 72.2 154.2 72.7 156.6 73.1 156.5 73.6 154.7 74.0 155.6 74.5 150.4 74.9 151.5 75.4 157.3 75.8 153.2 76.2 151.1 76.7 159.0 77.1 159.5 77.6 156.0 78.0 153.9 78.5 160.3 78.9 152.6 79.3 150.3 79.8 154.3 80.2 152.6 80.7 155.3 81.1 151.2 81.6 159.8 82.0 153.7 82.5 156.2 82.9 157.1 83.3 165.7 83.8 152.1 84.2 152.6 84.7 156.4 85.1 157.5 85.6 156.1 86.0 156.7 86.4 161.3 86.9 160.8 87.3 158.7 87.8 143.3 88.2 152.0 88.7 149.6 89.1 150.5 89.6 151.5 90.0 164.2 90.4 156.1 90.9 148.7 91.3 155.0 91.8 156.6 92.2 159.7 92.7 153.8 93.1 153.0 93.6 149.5 94.0 153.6 94.4 152.8 94.9 146.9 95.3 148.9 95.8 164.7 96.2 159.6 96.7 146.3 97.1 161.3 97.5 158.7 98.0 146.5 98.4 153.5 98.9 155.4 99.3 144.4 99.8 151.8 100.2 152.4 100.7 157.1 101.1 152.1 101.5 154.7 102.0 155.5 102.4 149.8 102.9 149.0 103.3 156.1 103.8 156.0 104.2 156.7 104.7 153.6 105.1 151.1 105.5 147.6 106.0 160.2 106.4 148.1 106.9 154.0 107.3 154.3 107.8 148.4 108.2 153.4 108.6 155.5 109.1 155.5 109.5 151.2 110.0 151.6 110.4 153.0 110.9 154.6 111.3 153.7 111.8 141.8 112.2 149.7 112.6 151.6 113.1 152.4 113.5 155.5 114.0 149.8 114.4 145.9 114.9 153.6 115.3 155.5 115.7 156.5 116.2 159.0 116.6 156.7 117.1 154.2 117.5 159.2 118.0 156.9 118.4 146.4 118.9 161.4 119.3 154.8 119.7 153.4 120.2 151.6 120.6 152.1 121.1 149.0 121.5 156.0 122.0 151.7 122.4 155.4 122.9 147.2 123.3 158.3 123.7 157.2 124.2 158.7 124.6 156.4 125.1 157.4 125.5 154.4 126.0 156.4 126.4 158.9 126.8 155.0 127.3 148.0 127.7 154.7 128.2 154.7 128.6 162.3 129.1 155.3 129.5 148.7 130.0 151.5 130.4 153.5 130.8 162.4 131.3 157.1 131.7 152.6 132.2 150.8 132.6 158.6 133.1 154.5 133.5 155.7 133.9 151.6 134.4 154.2 134.8 161.5 135.3 160.8 135.7 155.4 136.2 151.0 136.6 152.7 137.1 146.7 137.5 156.5 137.9 148.3 138.4 155.3 138.8 152.3 139.3 156.9 139.7 158.7 140.2 155.6 140.6 156.0 141.1 153.8 141.5 147.2 141.9 154.8 142.4 158.7 142.8 158.0 143.3 153.9 143.7 159.4 144.2 150.1 144.6 157.8 145.0 155.0 145.5 154.9 145.9 155.6 146.4 161.2 146.8 150.1 147.3 159.0 147.7 155.5 148.2 153.7 148.6 153.7 149.0 150.5 149.5 153.5 149.9 156.4 150.4 156.1 150.8 153.1 151.3 158.9 151.7 152.1 152.2 154.2 152.6 160.6 153.0 150.0 153.5 154.9 153.9 159.0 154.4 162.2 154.8 159.4 155.3 144.4 155.7 163.3 156.1 149.9 156.6 160.0 157.0 152.2 157.5 156.0 157.9 146.5 158.4 164.3 158.8 152.7 159.3 163.6 159.7 157.8 160.1 158.1 160.6 144.6 161.0 150.2 161.5 159.2 161.9 155.2 162.4 154.6 162.8 162.4 163.2 155.1 163.7 152.1 164.1 153.0 164.6 149.9 165.0 155.3 165.5 156.2 165.9 152.7 166.4 153.0 166.8 153.6 167.2 155.1 167.7 158.0 168.1 153.6 168.6 151.4 169.0 150.4 169.5 152.6 169.9 151.5 170.4 155.7 170.8 150.6 171.2 152.3 171.7 161.7 172.1 151.1 172.6 146.9 173.0 150.6 173.5 152.9 173.9 153.7 174.3 157.6 174.8 157.4 175.2 156.6 175.7 146.7 176.1 162.3 176.6 150.4 177.0 151.9 177.5 153.8 177.9 156.7 178.3 154.1 178.8 145.8 179.2 160.9 179.7 147.2 180.1 147.8 180.6 153.5 181.0 154.0 181.4 154.1 181.9 151.1 182.3 151.8 182.8 151.6 183.2 152.7 183.7 155.2 184.1 156.2 184.6 157.1 185.0 156.8 185.4 146.3 185.9 151.5 186.3 150.1 186.8 155.1 187.2 149.5 187.7 155.1 188.1 159.5 188.6 151.3 189.0 153.6 189.4 158.7 189.9 149.6 190.3 151.4 190.8 158.7 191.2 152.2 191.7 158.5 192.1 148.4 192.5 156.2 193.0 155.7 193.4 147.5 193.9 151.3 194.3 151.3 194.8 156.4 195.2 151.2 195.7 154.2 196.1 148.2 196.5 161.9 197.0 157.8 197.4 155.2 197.9 152.7 198.3 154.5 198.8 148.1 199.2 153.9 199.7 145.3 200.1 150.9 200.5 154.1 201.0 160.9 201.4 157.9 201.9 157.9 202.3 161.9 202.8 154.4 203.2 157.2 203.6 152.6 204.1 155.9 204.5 154.2 205.0 147.0 205.4 153.4 205.9 159.0 206.3 150.7 206.8 155.9 207.2 159.0 207.6 153.2 208.1 154.9 208.5 152.0 209.0 150.5 209.4 157.5 209.9 153.5 210.3 152.2 210.7 156.7 211.2 155.9 211.6 156.5 212.1 162.9 212.5 152.7 213.0 154.5 213.4 151.8 213.9 152.7 214.3 156.2 214.7 155.5 215.2 154.5 215.6 156.9 216.1 151.8 216.5 152.2 217.0 154.9 217.4 152.9 217.9 145.2 218.3 154.9 218.7 156.6 219.2 152.2 219.6 147.7 220.1 159.0 220.5 154.8 221.0 154.7 221.4 154.8 221.8 154.5 222.3 151.4 222.7 152.7 223.2 155.5 223.6 151.7 224.1 152.6 224.5 155.8 225.0 153.4 225.4 153.8 225.8 151.7 226.3 158.1 226.7 151.6 227.2 147.6 227.6 147.8 228.1 154.3 228.5 153.1 228.9 154.6 229.4 155.0 229.8 157.0 230.3 160.1 230.7 153.0 231.2 151.9 231.6 150.1 232.1 158.4 232.5 144.1 232.9 153.4 233.4 159.9 233.8 148.5 234.3 151.2 234.7 154.3 235.2 156.5 235.6 156.9 236.1 152.2 236.5 155.2 236.9 155.5 237.4 153.0 237.8 155.1 238.3 152.1 238.7 153.7 239.2 154.5 239.6 157.4 240.0 151.6 240.5 153.9 240.9 154.7 241.4 151.9 241.8 154.8 242.3 152.7 242.7 155.7 243.2 153.5 243.6 155.3 244.0 152.1 244.5 152.9 244.9 147.1 245.4 145.1 245.8 162.8 246.3 162.9 246.7 151.7 247.2 158.3 247.6 139.7 248.0 156.7 248.5 152.4 248.9 147.7 249.4 158.0 249.8 159.0 250.3 152.2 250.7 154.8 251.1 154.1 251.6 148.9 252.0 149.7 252.5 145.7 252.9 150.2 253.4 151.8 253.8 150.5 254.3 149.7 254.7 154.3 255.1 154.4 255.6 153.6 256.0 153.0 256.5 152.3 256.9 150.2 257.4 162.1 257.8 153.2 258.2 155.5 258.7 158.6 259.1 147.2 259.6 152.4 260.0 157.5 260.5 152.4 260.9 157.1 261.4 157.6 261.8 154.2 262.2 159.5 262.7 159.0 263.1 153.5 263.6 159.2 264.0 158.6 264.5 153.1 264.9 148.6 265.4 155.1 265.8 157.3 266.2 148.5 266.7 147.4 267.1 156.3 267.6 157.9 268.0 154.4 268.5 154.1 268.9 151.0 269.3 151.9 269.8 162.2 270.2 144.5 270.7 148.8 271.1 158.4 271.6 157.5 272.0 153.8 272.5 152.3 272.9 155.3 273.3 155.1 273.8 153.4 274.2 149.1 274.7 151.6 275.1 169.6 275.6 152.1 276.0 168.2 276.5 152.7 276.9 155.5 277.3 157.0 277.8 149.2 278.2 155.7 278.7 158.6 279.1 147.2 279.6 150.7 280.0 148.9 280.4 157.8 280.9 151.9 281.3 158.2 281.8 157.2 282.2 150.4 282.7 152.0 283.1 145.5 283.6 161.1 284.0 155.2 284.4 149.0 284.9 156.8 285.3 157.6 285.8 157.9 286.2 145.4 286.7 159.3 287.1 154.7 287.5 162.5 288.0 157.2 288.4 143.3 288.9 151.5 289.3 146.6 289.8 155.3 290.2 152.9 290.7 155.8 291.1 163.6 291.5 144.0 292.0 157.8 292.4 164.2 292.9 153.5 293.3 151.2 293.8 156.2 294.2 145.1 294.7 159.1 295.1 163.5 295.5 159.8 296.0 146.5 296.4 158.7 296.9 152.2 297.3 154.7 297.8 150.7 298.2 166.4 298.6 147.0 299.1 152.5 299.5 168.2 300.0 154.5 300.4 156.5 300.9 167.3 301.3 156.7 301.8 165.9 302.2 156.6 302.6 147.8 303.1 154.8 303.5 145.9 304.0 150.9 304.4 157.4 304.9 148.7 305.3 135.6 305.7 152.3 306.2 155.5 306.6 149.6 307.1 152.8 307.5 150.6 308.0 156.7 308.4 152.4 308.9 160.7 309.3 156.8 309.7 147.0 310.2 154.4 310.6 152.9 311.1 154.4 311.5 153.6 312.0 144.8 312.4 150.7 312.9 165.1 313.3 152.6 313.7 156.5 314.2 154.9 314.6 155.0 315.1 153.1 315.5 152.2 316.0 163.5 316.4 161.0 316.8 153.0 317.3 151.0 317.7 143.2 318.2 166.3 318.6 159.2 319.1 148.1 319.5 144.2 320.0 137.6 320.4 142.9 320.8 156.4 321.3 152.9 321.7 145.0 322.2 164.8 322.6 152.1 323.1 143.6 323.5 153.3 324.0 149.7 324.4 171.8 324.8 160.0 325.3 163.5 325.7 158.2 326.2 161.8 326.6 163.3 327.1 144.5 327.5 147.5 327.9 151.0 328.4 148.6 328.8 158.1 329.3 140.9 329.7 157.5 330.2 159.2 330.6 155.1 331.1 168.6 331.5 149.1 331.9 153.4 332.4 162.8 332.8 158.4 333.3 141.8 333.7 150.7 334.2 154.3 334.6 146.5 335.0 145.6 335.5 138.5 335.9 160.8 336.4 149.6 336.8 163.2 337.3 166.0 337.7 146.9 338.2 155.7 338.6 149.3 339.0 147.7 339.5 156.7 339.9 158.9 340.4 150.1 340.8 154.9 341.3 170.6 341.7 154.6 342.2 159.2 342.6 155.9 343.0 163.8 343.5 146.6 343.9 158.0 344.4 154.9 344.8 139.6 345.3 161.6 345.7 167.3 346.1 155.9 346.6 152.5 347.0 157.2 347.5 146.5 347.9 145.9 348.4 163.9 348.8 181.2 349.3 153.0 349.7 154.8 350.1 152.6 350.6 148.4 351.0 155.4 351.5 167.3 351.9 159.8 352.4 158.6 352.8 157.2 353.2 142.6 353.7 157.1 354.1 153.1 354.6 150.3 355.0 141.4 355.5 136.1 355.9 161.5 356.4 143.7 356.8 156.2 357.2 174.6 357.7 156.5 358.1 146.0 358.6 150.8 359.0 155.8 359.5 157.3 359.9 142.6 360.4 155.3 360.8 154.3 361.2 150.4 361.7 159.4 362.1 155.1 362.6 149.2 363.0 154.4 363.5 138.2 363.9 145.5 364.3 162.5 364.8 162.4 365.2 165.1 365.7 161.0 366.1 147.8 366.6 162.5 367.0 159.0 367.5 145.4 367.9 144.2 368.3 154.5 368.8 141.3 369.2 159.9 369.7 155.2 370.1 150.7 370.6 161.3 371.0 151.1 371.5 157.7 371.9 141.2 372.3 150.0 372.8 144.9 373.2 146.8 373.7 151.9 374.1 156.7 374.6 142.3 375.0 148.8 375.4 155.9 375.9 145.8 376.3 138.1 376.8 153.2 377.2 154.2 377.7 157.3 378.1 156.4 378.6 160.4 379.0 155.7 379.4 143.3 379.9 155.4 380.3 158.1 380.8 155.3 381.2 161.9 381.7 156.0 382.1 151.5 382.5 145.7 383.0 143.6 383.4 160.0 383.9 163.6 384.3 155.0 384.8 151.3 385.2 152.1 385.7 152.5 386.1 153.7 386.5 150.0 387.0 154.4 387.4 155.5 387.9 165.7 388.3 156.1 388.8 153.5 389.2 151.7 389.7 148.8 390.1 154.2 390.5 149.9 391.0 160.1 391.4 148.7 391.9 157.0 392.3 163.8 392.8 146.0 393.2 144.0 393.6 163.9 394.1 153.3 394.5 171.8 395.0 154.3 395.4 144.7 395.9 165.4 396.3 148.3 396.8 162.2 397.2 162.6 397.6 167.2 398.1 155.4 398.5 151.5 399.0 143.5 399.4 147.5 399.9 156.4 400.3 159.9 400.8 147.2 401.2 153.5 401.6 153.6 402.1 149.9 402.5 140.4 403.0 148.6 403.4 156.5 403.9 156.5 404.3 155.6 404.7 157.1 405.2 148.1 405.6 145.4 406.1 148.3 406.5 163.2 407.0 145.9 407.4 152.9 407.9 149.4 408.3 158.3 408.7 147.1 409.2 151.4 409.6 145.8 410.1 156.0 410.5 154.2 411.0 152.1 411.4 151.7 411.8 152.5 412.3 149.5 412.7 169.2 413.2 161.8 413.6 159.8 414.1 155.0 414.5 143.0 415.0 161.0 415.4 157.4 415.8 155.9 416.3 155.9 416.7 162.1 417.2 166.8 417.6 149.4 418.1 156.4 418.5 153.8 419.0 152.7 419.4 152.9 419.8 149.9 420.3 157.3 420.7 158.2 421.2 169.0 421.6 140.9 422.1 154.1 422.5 150.9 422.9 176.2 423.4 154.9 423.8 152.9 424.3 148.0 424.7 146.1 425.2 144.6 425.6 146.9 426.1 158.9 426.5 163.2 426.9 138.7 427.4 152.7 427.8 151.1 428.3 157.7 428.7 140.3 429.2 146.1 429.6 157.3 430.0 162.7 430.5 149.0 430.9 138.4 431.4 151.8 431.8 128.0 432.3 151.2 432.7 150.4 433.2 156.4 433.6 154.3 434.0 145.2 434.5 160.6 434.9 156.9 435.4 149.1 435.8 161.1 436.3 160.3 436.7 170.0 437.2 163.3 437.6 154.5 438.0 149.2 438.5 155.9 438.9 157.0 439.4 157.9 439.8 149.2 440.3 143.0 440.7 145.3 441.1 155.9 441.6 160.9 442.0 152.4 442.5 163.6 442.9 157.1 443.4 149.2 443.8 156.5 444.3 149.3 444.7 145.9 445.1 151.0 445.6 154.1 446.0 160.8 446.5 150.5 446.9 127.9 447.4 157.3 447.8 159.9 448.3 149.6 448.7 153.0 449.1 142.0 449.6 140.1 450.0 162.8 450.5 156.3 450.9 160.0 451.4 148.9 451.8 163.7 452.2 155.9 452.7 140.3 453.1 150.5 453.6 151.8 454.0 154.2 454.5 148.7 454.9 148.1 455.4 147.8 455.8 153.5 456.2 158.3 456.7 158.2 457.1 162.5 457.6 162.8 458.0 153.9 458.5 148.8 458.9 151.8 459.3 148.9 459.8 150.3 460.2 149.5 460.7 153.2 461.1 145.7 461.6 150.0 462.0 165.6 462.5 136.2 462.9 165.5 463.3 151.7 463.8 154.3 464.2 151.3 464.7 151.5 465.1 189.0 465.6 150.3 466.0 148.3 466.5 153.6 466.9 149.0 467.3 153.1 467.8 158.8 468.2 157.9 468.7 155.1 469.1 135.6 469.6 159.2 470.0 167.3 470.4 148.2 470.9 158.4 471.3 160.4 471.8 163.7 472.2 160.4 472.7 155.9 473.1 160.1 473.6 147.0 474.0 159.1 474.4 151.8 474.9 148.7 475.3 143.2 475.8 145.4 476.2 154.8 476.7 139.7 477.1 150.1 477.6 148.2 478.0 153.3 478.4 144.7 478.9 155.3 479.3 146.9 479.8 155.1 480.2 159.8 480.7 145.3 481.1 156.8 481.5 154.8 482.0 160.6 482.4 136.1 482.9 158.5 483.3 148.3 483.8 159.8 484.2 153.5 484.7 155.7 485.1 150.4 485.5 157.1 486.0 172.8 486.4 148.1 486.9 154.9 487.3 157.0 487.8 167.6 488.2 152.1 488.6 158.5 489.1 144.7 489.5 158.8 490.0 150.9 490.4 145.1 490.9 153.0 491.3 157.5 491.8 147.6 492.2 149.0 492.6 151.6 493.1 149.5 493.5 156.6 494.0 147.9 494.4 157.4 494.9 149.9 495.3 168.6 495.8 145.4 496.2 160.4 496.6 148.3 497.1 154.8 497.5 151.7 498.0 151.2 498.4 145.3 498.9 157.4 499.3 163.7 499.7 142.5 500.2 138.1 500.6 171.5 501.1 142.0 501.5 142.2 502.0 157.5 502.4 155.9 502.9 170.8 503.3 154.8 503.7 169.3 504.2 158.4 504.6 155.6 505.1 143.8 505.5 157.2 506.0 140.8 506.4 160.6 506.8 172.0 507.3 159.1 507.7 163.6 508.2 156.6 508.6 144.1 509.1 156.0 509.5 138.5 510.0 161.8 510.4 146.2 510.8 151.2 511.3 145.3 511.7 167.0 512.2 153.7 512.6 156.9 513.1 151.6 513.5 154.6 514.0 149.6 514.4 147.5 514.8 149.7 515.3 162.3 515.7 150.9 516.2 153.9 516.6 164.8 517.1 156.5 517.5 159.6 517.9 152.7 518.4 157.8 518.8 161.3 519.3 151.4 519.7 163.9 520.2 164.4 520.6 133.0 521.1 171.6 521.5 160.2 521.9 162.9 522.4 166.9 522.8 159.7 523.3 155.5 523.7 162.3 524.2 148.3 524.6 142.6 525.1 152.5 525.5 157.9 525.9 148.7 526.4 161.6 526.8 144.1 527.3 150.0 527.7 169.2 528.2 150.8 528.6 161.4 529.0 144.0 529.5 150.7 529.9 162.8 530.4 143.1 530.8 151.8 531.3 145.0 531.7 153.9 532.2 144.8 532.6 150.2 533.0 150.5 533.5 146.6 533.9 154.7 534.4 160.2 534.8 124.9 535.3 149.1 535.7 165.1 536.1 126.0 536.6 151.6 537.0 154.1 537.5 150.7 537.9 151.9 538.4 152.4 538.8 152.9 539.3 141.8 539.7 144.1 540.1 154.8 540.6 150.2 541.0 156.0 541.5 146.2 541.9 160.4 542.4 155.2 542.8 149.6 543.3 152.5 543.7 157.4 544.1 187.7 544.6 154.3 545.0 160.7 545.5 154.4 545.9 158.2 546.4 147.3 546.8 156.7 547.2 153.8 547.7 156.4 548.1 169.9 548.6 156.0 549.0 152.8 549.5 149.9 549.9 161.2 550.4 145.9 550.8 150.9 551.2 159.6 551.7 145.8 552.1 148.2 552.6 152.0 553.0 160.0 553.5 160.8 553.9 156.5 554.3 149.0 554.8 163.6 555.2 160.1 555.7 192.5 556.1 159.4 556.6 149.8 557.0 157.4 557.5 146.4 557.9 169.9 558.3 152.5 558.8 138.9 559.2 148.3 559.7 157.6 560.1 153.2 560.6 159.3 561.0 149.9 561.5 151.8 561.9 157.4 562.3 152.1 562.8 155.1 563.2 148.8 563.7 155.4 564.1 161.6 564.6 155.0 565.0 170.7 565.4 144.7 565.9 143.4 566.3 154.2 566.8 142.0 567.2 149.8 567.7 154.5 568.1 149.0 568.6 153.0 569.0 145.0 569.4 158.5 569.9 155.2 570.3 144.0 570.8 159.8 571.2 151.0 571.7 156.4 572.1 143.0 572.6 145.8 573.0 160.7 573.4 161.1 573.9 159.4 574.3 146.9 574.8 156.6 575.2 169.5 575.7 151.7 576.1 158.1 576.5 151.3 577.0 151.9 577.4 157.7 577.9 147.1 578.3 161.3 578.8 161.2 579.2 152.7 579.7 152.6 580.1 144.6 580.5 155.7 581.0 156.8 581.4 153.1 581.9 150.4 582.3 151.2 582.8 151.5 583.2 173.6 583.6 155.8 584.1 145.5 584.5 161.0 585.0 152.8 585.4 143.3 585.9 168.2 586.3 147.7 586.8 151.9 587.2 155.1 587.6 160.4 588.1 152.8 588.5 160.3 589.0 152.0 589.4 152.1 589.9 151.4 590.3 150.7 590.8 152.1 591.2 161.5 591.6 152.2 592.1 155.4 592.5 154.8 593.0 153.5 593.4 152.4 593.9 155.6 594.3 153.5 594.7 142.9 595.2 150.8 595.6 142.8 596.1 159.8 596.5 151.8 597.0 151.6 597.4 159.9 597.9 148.9 598.3 149.6 598.7 149.3 599.2 156.5 599.6 154.9 600.1 152.6 600.5 157.7 601.0 162.5 601.4 147.6 601.9 154.6 602.3 150.7 602.7 153.2 603.2 154.8 603.6 149.3 604.1 147.0 604.5 157.1 605.0 152.6 605.4 156.5 605.8 150.9 606.3 156.7 606.7 153.8 607.2 158.3 607.6 151.8 608.1 148.9 608.5 148.0 609.0 153.6 609.4 156.8 609.8 149.0 610.3 156.2 610.7 156.3 611.2 148.7 611.6 151.9 612.1 154.5 612.5 156.8 612.9 156.0 613.4 152.1 613.8 152.8 614.3 156.3 614.7 156.6 615.2 153.9 615.6 157.6 616.1 155.5 616.5 151.7 616.9 156.7 617.4 154.3 617.8 156.3 618.3 157.1 618.7 157.1 619.2 156.6 619.6 159.4 620.1 154.3 620.5 150.6 620.9 151.0 621.4 147.5 621.8 147.8 622.3 152.2 622.7 152.3 623.2 153.5 623.6 157.8 624.0 155.7 624.5 158.9 624.9 155.0 625.4 151.4 625.8 156.1 626.3 156.5 626.7 150.0 627.2 153.5 627.6 155.1 628.0 152.4 628.5 158.5 628.9 155.2 629.4 156.3 629.8 153.3 630.3 153.4 630.7 148.7 631.1 152.6 631.6 155.6 632.0 152.6 632.5 153.3 632.9 148.2 633.4 151.8 633.8 153.8 634.3 153.5 634.7 151.8 635.1 152.9 635.6 156.0 636.0 156.2 636.5 155.5 636.9 156.9 637.4 151.0 637.8 156.0 638.3 155.2 638.7 153.5 639.1 154.6 639.6 156.5 640.0 150.3 640.5 162.2 640.9 154.1 641.4 161.0 641.8 149.3 642.2 154.0 642.7 152.8 643.1 146.8 643.6 158.7 644.0 145.9 644.5 157.2 644.9 153.4 645.4 156.1 645.8 150.6 646.2 153.8 646.7 155.5 647.1 151.4 647.6 154.2 648.0 154.5 648.5 151.7 648.9 154.2 649.4 155.6 649.8 153.3 650.2 149.4 650.7 152.0 651.1 151.9 651.6 154.6 652.0 150.3 652.5 156.2 652.9 150.1 653.3 155.3 653.8 149.5 654.2 153.4 654.7 155.1 655.1 152.9 655.6 159.2 656.0 153.0 656.5 149.6 656.9 153.8 657.3 158.3 657.8 151.1 658.2 154.5 658.7 154.5 659.1 155.9 659.6 153.8 660.0 156.6 660.4 151.1 660.9 153.9 661.3 150.9 661.8 153.1 662.2 149.4 662.7 152.4 663.1 151.8 663.6 158.5" stroke="#000" stroke-width="0.7"/></g><rect x="42.5" y="1.2" width="621.50" height="83.40" fill="none" stroke="#000" stroke-width="0.68"/><path d="M42.50 84.60v3.5M95.28 84.60v3.5M142.96 84.60v3.5M195.75 84.60v3.5M246.83 84.60v3.5M299.61 84.60v3.5M350.70 84.60v3.5M403.48 84.60v3.5M456.27 84.60v3.5M507.35 84.60v3.5M560.13 84.60v3.5M611.22 84.60v3.5M664.00 84.60v3.5M42.50 84.60h-3.5M42.50 55.55h-3.5M42.50 26.50h-3.5" stroke="#000" stroke-width="0.68"/><text x="35.50" y="88.40" text-anchor="end" font-size="10" textLength="6.36" lengthAdjust="spacingAndGlyphs">0</text><text x="35.50" y="59.35" text-anchor="end" font-size="10" textLength="19.09" lengthAdjust="spacingAndGlyphs">100</text><text x="35.50" y="30.30" text-anchor="end" font-size="10" textLength="19.09" lengthAdjust="spacingAndGlyphs">200</text><rect x="42.5" y="112.0" width="621.50" height="83.50" fill="none" stroke="#000" stroke-width="0.68"/><path d="M42.50 195.50v3.5M95.28 195.50v3.5M142.96 195.50v3.5M195.75 195.50v3.5M246.83 195.50v3.5M299.61 195.50v3.5M350.70 195.50v3.5M403.48 195.50v3.5M456.27 195.50v3.5M507.35 195.50v3.5M560.13 195.50v3.5M611.22 195.50v3.5M664.00 195.50v3.5M42.50 123.60h-3.5M42.50 153.80h-3.5M42.50 184.00h-3.5" stroke="#000" stroke-width="0.68"/><text x="35.50" y="127.40" text-anchor="end" font-size="10" textLength="12.73" lengthAdjust="spacingAndGlyphs">50</text><text x="35.50" y="157.60" text-anchor="end" font-size="10" textLength="6.36" lengthAdjust="spacingAndGlyphs">0</text><text x="35.50" y="187.80" text-anchor="end" font-size="10" textLength="21.10" lengthAdjust="spacingAndGlyphs">−50</text><text x="42.50" y="210.70" text-anchor="middle" font-size="10" textLength="44.04" lengthAdjust="spacingAndGlyphs">Jan 2022</text><text x="95.28" y="210.70" text-anchor="middle" font-size="10" textLength="17.70" lengthAdjust="spacingAndGlyphs">Feb</text><text x="142.96" y="210.70" text-anchor="middle" font-size="10" textLength="18.87" lengthAdjust="spacingAndGlyphs">Mar</text><text x="195.75" y="210.70" text-anchor="middle" font-size="10" textLength="17.30" lengthAdjust="spacingAndGlyphs">Apr</text><text x="246.83" y="210.70" text-anchor="middle" font-size="10" textLength="20.68" lengthAdjust="spacingAndGlyphs">May</text><text x="299.61" y="210.70" text-anchor="middle" font-size="10" textLength="15.62" lengthAdjust="spacingAndGlyphs">Jun</text><text x="350.70" y="210.70" text-anchor="middle" font-size="10" textLength="12.07" lengthAdjust="spacingAndGlyphs">Jul</text><text x="403.48" y="210.70" text-anchor="middle" font-size="10" textLength="19.53" lengthAdjust="spacingAndGlyphs">Aug</text><text x="456.27" y="210.70" text-anchor="middle" font-size="10" textLength="18.85" lengthAdjust="spacingAndGlyphs">Sep</text><text x="507.35" y="210.70" text-anchor="middle" font-size="10" textLength="17.29" lengthAdjust="spacingAndGlyphs">Oct</text><text x="560.13" y="210.70" text-anchor="middle" font-size="10" textLength="19.52" lengthAdjust="spacingAndGlyphs">Nov</text><text x="611.22" y="210.70" text-anchor="middle" font-size="10" textLength="19.35" lengthAdjust="spacingAndGlyphs">Dec</text><text x="664.00" y="210.70" text-anchor="middle" font-size="10" textLength="44.04" lengthAdjust="spacingAndGlyphs">Jan 2023</text><text transform="translate(10.5 42.9) rotate(-90)" text-anchor="middle" font-size="10" textLength="54.900000000000006" lengthAdjust="spacingAndGlyphs">ZWD [mm]</text><text transform="translate(9.4 153.7) rotate(-90)" text-anchor="middle" font-size="10" textLength="61.740625" lengthAdjust="spacingAndGlyphs">ΔZWD [mm]</text><rect x="47.2" y="5.4" width="133.2" height="18" rx="2" fill="#fff" fill-opacity="0.8" stroke="#cccccc" stroke-width="0.8"/><path d="M50.3 14.2H71.2" stroke="#2ca02c" stroke-opacity="0.5" stroke-width="1.5"/><path d="M117.9 14.2H139.1" stroke="#ff7f0e" stroke-opacity="0.5" stroke-width="1.5"/><text x="77.70" y="17.60" text-anchor="start" font-size="10" textLength="20.80" lengthAdjust="spacingAndGlyphs">NGL</text><text x="146.30" y="17.60" text-anchor="start" font-size="10" textLength="30.60" lengthAdjust="spacingAndGlyphs">ZWDX</text><rect x="47.4" y="116.4" width="89.2" height="17.6" rx="2" fill="#fff" fill-opacity="0.8" stroke="#cccccc" stroke-width="0.8"/><path d="M51 125.1H71" stroke="#000" stroke-opacity="0.75" stroke-width="0.8"/><text x="78.20" y="128.30" text-anchor="start" font-size="10" textLength="54.20" lengthAdjust="spacingAndGlyphs">NGL-ZWDX</text><rect x="42.5" y="223.4" width="621.50" height="8.20" fill="url(#cwg)" stroke="#000" stroke-width="0.68"/><text x="42.50" y="245.90" text-anchor="middle" font-size="10" textLength="6.36" lengthAdjust="spacingAndGlyphs">0</text><text x="197.88" y="245.90" text-anchor="middle" font-size="10" textLength="12.73" lengthAdjust="spacingAndGlyphs">12</text><text x="353.25" y="245.90" text-anchor="middle" font-size="10" textLength="12.73" lengthAdjust="spacingAndGlyphs">24</text><text x="508.62" y="245.90" text-anchor="middle" font-size="10" textLength="12.73" lengthAdjust="spacingAndGlyphs">36</text><text x="664.00" y="245.90" text-anchor="middle" font-size="10" textLength="12.73" lengthAdjust="spacingAndGlyphs">48</text><path d="M42.50 231.60v3.5M197.88 231.60v3.5M353.25 231.60v3.5M508.62 231.60v3.5M664.00 231.60v3.5" stroke="#000" stroke-width="0.68"/><text x="353.20" y="260.00" text-anchor="middle" font-size="10" textLength="66.52" lengthAdjust="spacingAndGlyphs">forecast hour</text></svg>
</body></html>
